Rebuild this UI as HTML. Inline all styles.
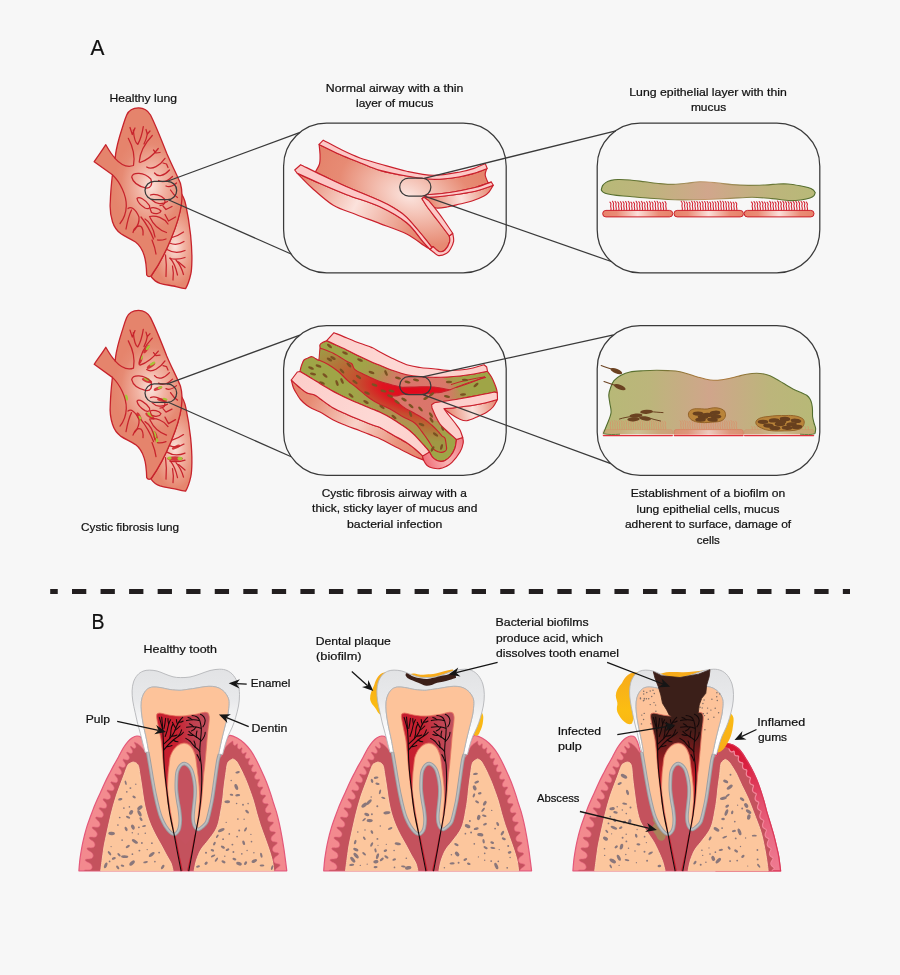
<!DOCTYPE html>
<html lang="en">
<head>
<meta charset="utf-8">
<title>Biofilms in cystic fibrosis lung and dental plaque</title>
<style>
html,body{margin:0;padding:0;background:#f7f7f7;}
body{width:900px;height:975px;overflow:hidden;font-family:"Liberation Sans",sans-serif;}
svg{display:block;will-change:transform;}
</style>
</head>
<body>
<svg width="900" height="975" viewBox="0 0 900 975">
<defs>

<radialGradient id="lgU" gradientUnits="userSpaceOnUse" cx="151" cy="186" r="52" gradientTransform="translate(151,186) scale(0.72,1) translate(-151,-186)">
 <stop offset="0" stop-color="#fae3dc"/><stop offset="0.35" stop-color="#f2b5a5"/><stop offset="0.8" stop-color="#e68a73"/><stop offset="1" stop-color="#e5846c"/>
</radialGradient>
<radialGradient id="lgL" gradientUnits="userSpaceOnUse" cx="175" cy="246" r="40" gradientTransform="translate(175,246) scale(0.55,1) translate(-175,-246)">
 <stop offset="0" stop-color="#fae3dc"/><stop offset="0.4" stop-color="#f2b5a5"/><stop offset="1" stop-color="#e6866e"/>
</radialGradient>
<g id="lungshape">
 <path d="M180,192 C183,195.5 184.8,200 185.8,205 C188,215 189.6,226 190.6,235 C191.6,245 192,253 191.9,260 C191.8,266 191.6,271 190.8,274 C189.6,279.5 188,284.5 185.6,288.6 C181.5,288.2 177,286.8 173.3,286 C168,285 164,284.5 160,283.3 C156,282 153.3,279.5 151,276.5 C166,255 179,222 181.3,204 Z" fill="url(#lgL)" stroke="#c7232c" stroke-width="1.3" stroke-linejoin="round"/>
 <path d="M138.5,107.8 C144,107.8 147.8,110.2 150.5,115 C155.5,125 161.5,140 166.7,153.3 C171,163.5 177,175 180.4,183.3 C182,189 182.4,197 181.3,205 C179,222 166,255 151.7,275 C150.2,277.3 148,277.2 146.7,275 C146.5,268 146,261 144.2,255.5 C142.5,250 139.5,245 135.5,242 C130,238.5 125,236.5 121,233.8 C116.5,230.5 114,226.5 112.5,221.7 C110.3,215 109.8,208 110.3,201.7 C110.6,192 111.6,182 112.4,174.8 L94.2,161.7 C98,156 102.5,150 105.8,144.7 C108.5,149.5 111.5,154.5 115.2,158.3 C115.4,155 115.8,152.5 116.3,150 C117.2,145.5 118.2,141.5 119.2,138 C120.4,133.8 121.8,129.6 123.5,124 C124.6,120.5 125.6,117.6 126.7,115 C128.6,110.6 133,107.8 138.5,107.8 Z" fill="url(#lgU)" stroke="#c7232c" stroke-width="1.3" stroke-linejoin="round"/>
</g>
<g id="lungtree" fill="none" stroke="#c7232c" stroke-width="1.25" stroke-linecap="round" stroke-linejoin="round">
 <path d="M115,158.3 C121,165 128,167.5 133.5,165.5 C135,157 133,147 128.3,138.3"/>
 <path d="M130,127.5 L132.3,134.5 L135,128"/>
 <path d="M133.3,130 C134,138 136,143.5 137.8,144.4 C140.3,140 142.3,133 143.3,126.7"/>
 <path d="M146,129.5 L147.3,134 L150,131"/>
 <path d="M147.3,134 C146.5,139 145,142 144,144"/>
 <path d="M139.2,162 C140,152 146,142 152.3,135.5"/>
 <path d="M140,162.5 C146,160.5 153,155.5 158.3,148.5"/>
 <path d="M153.5,150 L156,153 L160,152.5"/>
 <path d="M146.7,167 C152,170.5 160,165.5 165,158.3"/>
 <path d="M163,163 L166.5,164 L168,167.5"/>
 <path d="M154.5,173 C158,177.5 164,176 169.5,170"/>
 <path d="M158.5,180.5 C163,183 168,181 172.5,176.5"/>
 <path d="M166,186 C169,187.5 173,186 176.5,183"/>
 <path d="M131.7,177 C132.5,172 144,171.5 150.8,179 C153,184.5 150.5,188.5 146,188 C139.5,186.5 133,183 131.7,177 Z"/>
 <path d="M137,198.5 C139,196 145,199.5 149.5,205.5 C150.5,208.5 148,209.5 145,208 C141,205.5 137.5,202 137,198.5 Z"/>
 <path d="M150,208.5 C153,206.5 159,208.5 161,211 C160,214 155,214.5 151.5,212.5 Z"/>
 <path d="M150.5,195 C154,193.5 161,195 164.5,199 C166,203 164,205.5 160,205.5"/>
 <path d="M152,200 C156,204 162,205 167.5,201.5"/>
 <path d="M163,206 L166,209.5 L172,206.5"/>
 <path d="M170.5,190 C173,194 175,196 177.5,197.5"/>
 <path d="M112.4,174.8 C120,182 126.5,195 126.3,206 C126,214 122.5,220.5 120,223.5"/>
 <path d="M128,208.5 C131,206 135.5,209 139,217 C139.5,222 137.5,226.5 134.5,230"/>
 <path d="M126,229 C127.5,221 129.5,214 131.5,210"/>
 <path d="M133,232.5 C134.5,227 138,225 141,226.5 C143,228.5 143.3,232 143,235"/>
 <path d="M141,217 C145,222 150,230 153.5,239"/>
 <path d="M145,219 C150,222 153.5,229 155,237"/>
 <path d="M149.5,216.5 C156,215 164,218 168,224"/>
 <path d="M150,217.5 C153,224 159,230 166.5,232.5"/>
 <path d="M165,214.5 L168.5,221 L175.5,217"/>
 <path d="M152,240 C154,245 155.5,250 156,254"/>
 <path d="M157.5,240 C160,240.5 163,240 166,239"/>
 <path d="M172,237.5 C176,236.5 180,234.5 183.5,232"/>
 <path d="M169.5,243 C174,245 179.5,244.5 184,241.5"/>
 <path d="M167,249.5 C172,252.5 179,253 185,250.5"/>
 <path d="M165.5,255 C166.5,262 166.5,270 166,276.5"/>
 <path d="M170,258 C173.5,262 176,268 177.5,275"/>
 <path d="M170,258.5 C175,259.5 180.5,259 185,257.5"/>
 <path d="M176,260 C179.5,264 182,269 183.5,274.5"/>
 <path d="M178.5,262 L185,267.5"/>
 <path d="M172.5,266 C173.5,271 173.5,276 173,280"/>
</g>


<radialGradient id="awIn" gradientUnits="userSpaceOnUse" cx="408" cy="196" r="95" gradientTransform="translate(408,196) rotate(22) scale(1,0.62) translate(-408,-196)">
 <stop offset="0" stop-color="#fbe4de"/><stop offset="0.3" stop-color="#f4c2b5"/><stop offset="0.75" stop-color="#e78b74"/><stop offset="1" stop-color="#e5846c"/>
</radialGradient>
<linearGradient id="awOut" gradientUnits="userSpaceOnUse" x1="300" y1="176" x2="432" y2="246">
 <stop offset="0" stop-color="#e5846c"/><stop offset="0.42" stop-color="#fbe2dc"/><stop offset="0.85" stop-color="#e78a73"/><stop offset="1" stop-color="#e5846c"/>
</linearGradient>
<linearGradient id="awOutR" gradientUnits="userSpaceOnUse" x1="428" y1="204" x2="494" y2="190">
 <stop offset="0" stop-color="#e5846c"/><stop offset="0.5" stop-color="#fbe2dc"/><stop offset="1" stop-color="#e5846c"/>
</linearGradient>

<radialGradient id="cfMuc" gradientUnits="userSpaceOnUse" cx="414" cy="394" r="70" gradientTransform="translate(414,394) rotate(20) scale(1,0.75) translate(-414,-394)">
 <stop offset="0" stop-color="#cf7a62"/><stop offset="0.35" stop-color="#c08458"/><stop offset="0.6" stop-color="#ad954e"/><stop offset="0.85" stop-color="#a1a348"/><stop offset="1" stop-color="#9fa547"/>
</radialGradient>
<radialGradient id="cfChan" gradientUnits="userSpaceOnUse" cx="415" cy="392" r="112" gradientTransform="translate(415,392) rotate(12) scale(1,0.41) translate(-415,-392)">
 <stop offset="0" stop-color="#e2081c"/><stop offset="0.3" stop-color="#df1420"/><stop offset="0.5" stop-color="#c8482e"/><stop offset="0.62" stop-color="#bf5e32"/><stop offset="0.75" stop-color="#b47238"/><stop offset="0.9" stop-color="#a88a40"/><stop offset="1" stop-color="#a09844"/>
</radialGradient>
<radialGradient id="cfWash" gradientUnits="userSpaceOnUse" cx="420" cy="394" r="46">
 <stop offset="0" stop-color="#dc746c"/><stop offset="0.6" stop-color="#d9776a" stop-opacity="0.95"/><stop offset="1" stop-color="#c8805e" stop-opacity="0"/>
</radialGradient>
<linearGradient id="cfPink" gradientUnits="userSpaceOnUse" x1="300" y1="350" x2="470" y2="420">
 <stop offset="0" stop-color="#fccdc9"/><stop offset="0.5" stop-color="#fdd8d4"/><stop offset="1" stop-color="#fccdc9"/>
</linearGradient>
<linearGradient id="cfCap" gradientUnits="userSpaceOnUse" x1="424" y1="460" x2="463" y2="444">
 <stop offset="0" stop-color="#f0707a"/><stop offset="0.5" stop-color="#f9b4b4"/><stop offset="1" stop-color="#f08088"/>
</linearGradient>
<linearGradient id="cfOut" gradientUnits="userSpaceOnUse" x1="292" y1="384" x2="424" y2="456">
 <stop offset="0" stop-color="#e5846c"/><stop offset="0.15" stop-color="#e68a72"/><stop offset="0.5" stop-color="#f8d2c8"/><stop offset="0.8" stop-color="#e9957e"/><stop offset="1" stop-color="#e5846c"/>
</linearGradient>
<linearGradient id="cfOutR" gradientUnits="userSpaceOnUse" x1="446" y1="414" x2="498" y2="402">
 <stop offset="0" stop-color="#e5846c"/><stop offset="0.5" stop-color="#fbe2dc"/><stop offset="1" stop-color="#e5846c"/>
</linearGradient>


<linearGradient id="muc1" gradientUnits="userSpaceOnUse" x1="601" y1="0" x2="815" y2="0">
 <stop offset="0" stop-color="#b8b978"/><stop offset="0.2" stop-color="#bdb57c"/><stop offset="0.5" stop-color="#d1a68c"/><stop offset="0.8" stop-color="#bdb57c"/><stop offset="1" stop-color="#b8b978"/>
</linearGradient>
<linearGradient id="muc1s" gradientUnits="userSpaceOnUse" x1="601" y1="0" x2="815" y2="0">
 <stop offset="0" stop-color="#4f6b2c"/><stop offset="0.25" stop-color="#6f7a38"/><stop offset="0.5" stop-color="#c49a70"/><stop offset="0.75" stop-color="#6f7a38"/><stop offset="1" stop-color="#4f6b2c"/>
</linearGradient>
<linearGradient id="muc2" gradientUnits="userSpaceOnUse" x1="603" y1="0" x2="816" y2="0">
 <stop offset="0" stop-color="#b7b977"/><stop offset="0.22" stop-color="#bcb57b"/><stop offset="0.5" stop-color="#d0a58b"/><stop offset="0.78" stop-color="#bcb57b"/><stop offset="1" stop-color="#b7b977"/>
</linearGradient>
<linearGradient id="muc2s" gradientUnits="userSpaceOnUse" x1="603" y1="0" x2="816" y2="0">
 <stop offset="0" stop-color="#4f6b2c"/><stop offset="0.2" stop-color="#5f7432"/><stop offset="0.45" stop-color="#a8783c"/><stop offset="0.6" stop-color="#a8783c"/><stop offset="0.8" stop-color="#5f7432"/><stop offset="1" stop-color="#4f6b2c"/>
</linearGradient>
<linearGradient id="cellg0" gradientUnits="userSpaceOnUse" x1="602.7" y1="0" x2="672.7" y2="0"><stop offset="0" stop-color="#e8826a"/><stop offset="0.2" stop-color="#ea8c76"/><stop offset="0.5" stop-color="#fbe0da"/><stop offset="0.8" stop-color="#ea8c76"/><stop offset="1" stop-color="#e8826a"/></linearGradient>
<linearGradient id="cellg1" gradientUnits="userSpaceOnUse" x1="674" y1="0" x2="743.4" y2="0"><stop offset="0" stop-color="#e8826a"/><stop offset="0.2" stop-color="#ea8c76"/><stop offset="0.5" stop-color="#fbe0da"/><stop offset="0.8" stop-color="#ea8c76"/><stop offset="1" stop-color="#e8826a"/></linearGradient>
<linearGradient id="cellg2" gradientUnits="userSpaceOnUse" x1="744.2" y1="0" x2="814" y2="0"><stop offset="0" stop-color="#e8826a"/><stop offset="0.2" stop-color="#ea8c76"/><stop offset="0.5" stop-color="#fbe0da"/><stop offset="0.8" stop-color="#ea8c76"/><stop offset="1" stop-color="#e8826a"/></linearGradient>


<linearGradient id="gumO" gradientUnits="userSpaceOnUse" x1="0" y1="736" x2="0" y2="871">
 <stop offset="0" stop-color="#f38c90"/><stop offset="1" stop-color="#f3898e"/>
</linearGradient>
<linearGradient id="gumInfl" gradientUnits="userSpaceOnUse" x1="236" y1="744" x2="276" y2="871">
 <stop offset="0" stop-color="#d6152f"/><stop offset="0.18" stop-color="#d92040"/><stop offset="0.45" stop-color="#e24a68"/><stop offset="0.75" stop-color="#ea6a84"/><stop offset="1" stop-color="#ef7a90"/>
</linearGradient>
<linearGradient id="enam" gradientUnits="userSpaceOnUse" x1="0" y1="670" x2="0" y2="754">
 <stop offset="0" stop-color="#e2e3e5"/><stop offset="0.35" stop-color="#e8e9eb"/><stop offset="0.6" stop-color="#f5f5f6"/><stop offset="0.78" stop-color="#ffffff"/><stop offset="1" stop-color="#ffffff"/>
</linearGradient>
<linearGradient id="pulp0" gradientUnits="userSpaceOnUse" x1="157" y1="0" x2="209" y2="0">
 <stop offset="0" stop-color="#c41d2f"/><stop offset="0.35" stop-color="#c8202f"/><stop offset="0.7" stop-color="#c0404f"/><stop offset="1" stop-color="#c0525f"/>
</linearGradient>
<linearGradient id="pulp2" gradientUnits="userSpaceOnUse" x1="0" y1="713" x2="0" y2="800">
 <stop offset="0" stop-color="#3b1f19"/><stop offset="0.2" stop-color="#451c18"/><stop offset="0.45" stop-color="#7c1a1c"/><stop offset="0.7" stop-color="#bb1c26"/><stop offset="1" stop-color="#c92030"/>
</linearGradient>
<linearGradient id="plq" gradientUnits="userSpaceOnUse" x1="0" y1="670" x2="0" y2="750">
 <stop offset="0" stop-color="#f7a91c"/><stop offset="0.5" stop-color="#fbbd12"/><stop offset="1" stop-color="#f8ad1a"/>
</linearGradient>

</defs>
<rect width="900" height="975" fill="#f7f7f7"/>
<use href="#lungshape"/><use href="#lungtree"/>
<g transform="translate(0,202.6)">
<use href="#lungshape"/>
<ellipse cx="146.5" cy="146.5" rx="5" ry="1.6" transform="rotate(-55 146.5 146.5)" fill="#cf2a2e" opacity="0.9"/>
<ellipse cx="151" cy="163" rx="5" ry="1.8" transform="rotate(-35 151 163)" fill="#cf2a2e" opacity="0.9"/>
<ellipse cx="140.5" cy="158" rx="4" ry="1.5" transform="rotate(-70 140.5 158)" fill="#cf2a2e" opacity="0.9"/>
<ellipse cx="147" cy="178" rx="5.5" ry="2" transform="rotate(20 147 178)" fill="#cf2a2e" opacity="0.9"/>
<ellipse cx="155.5" cy="234" rx="2" ry="5.5" transform="rotate(-15 155.5 234)" fill="#cf2a2e" opacity="0.9"/>
<ellipse cx="150" cy="213.5" rx="5.5" ry="1.8" transform="rotate(35 150 213.5)" fill="#cf2a2e" opacity="0.9"/>
<ellipse cx="175" cy="256" rx="8" ry="2.4" transform="rotate(0 175 256)" fill="#cf2a2e" opacity="0.9"/>
<ellipse cx="176" cy="244.5" rx="4.5" ry="1.6" transform="rotate(-25 176 244.5)" fill="#cf2a2e" opacity="0.9"/>
<ellipse cx="139" cy="214" rx="1.8" ry="4.6" transform="rotate(-25 139 214)" fill="#cf2a2e" opacity="0.9"/>
<ellipse cx="162" cy="197.5" rx="5" ry="1.6" transform="rotate(12 162 197.5)" fill="#cf2a2e" opacity="0.9"/>
<ellipse cx="158" cy="186" rx="4.5" ry="1.6" transform="rotate(-20 158 186)" fill="#cf2a2e" opacity="0.9"/>
<ellipse cx="148" cy="145" rx="3" ry="1.3" transform="rotate(-50 148 145)" fill="#a8c43a"/>
<ellipse cx="152.5" cy="161" rx="3.2" ry="1.4" transform="rotate(-30 152.5 161)" fill="#a8c43a"/>
<ellipse cx="141.5" cy="155" rx="2.6" ry="1.2" transform="rotate(-70 141.5 155)" fill="#a8c43a"/>
<ellipse cx="147" cy="176.5" rx="3.3" ry="1.5" transform="rotate(20 147 176.5)" fill="#a8c43a"/>
<ellipse cx="126.5" cy="195" rx="1.4" ry="3.2" transform="rotate(-10 126.5 195)" fill="#a8c43a"/>
<ellipse cx="140" cy="216" rx="1.4" ry="3" transform="rotate(-20 140 216)" fill="#a8c43a"/>
<ellipse cx="150" cy="212" rx="3.2" ry="1.4" transform="rotate(35 150 212)" fill="#a8c43a"/>
<ellipse cx="154.5" cy="232" rx="1.6" ry="3.6" transform="rotate(-15 154.5 232)" fill="#a8c43a"/>
<ellipse cx="157" cy="238" rx="1.4" ry="2.6" transform="rotate(-10 157 238)" fill="#a8c43a"/>
<ellipse cx="169.5" cy="255.5" rx="2.2" ry="1.6" transform="rotate(0 169.5 255.5)" fill="#a8c43a"/>
<ellipse cx="180" cy="256" rx="2.6" ry="1.8" transform="rotate(0 180 256)" fill="#a8c43a"/>
<ellipse cx="160" cy="185" rx="2.5" ry="1.2" transform="rotate(-20 160 185)" fill="#a8c43a"/>
<ellipse cx="165" cy="196.5" rx="2.6" ry="1.2" transform="rotate(10 165 196.5)" fill="#a8c43a"/>
<use href="#lungtree"/>
</g>
<path d="M297.3,173.3C301.1,175.0 311.8,179.9 320.0,183.5C328.2,187.1 336.7,190.8 346.7,194.7C356.7,198.6 370.0,202.0 380.0,206.7C390.0,211.4 399.6,216.9 406.7,222.7C413.8,228.5 418.8,236.8 422.7,241.3C426.6,245.8 428.8,248.1 430.0,249.5L431.5,250.0C430.2,249.2 428.1,248.2 424.0,245.5C419.9,242.8 414.0,237.7 406.7,234.0C399.4,230.3 388.4,226.8 380.0,223.6C371.6,220.3 363.8,217.6 356.0,214.5C348.2,211.4 340.6,209.7 333.3,205.3C326.0,200.9 318.0,193.3 312.0,188.0C306.0,182.7 299.8,175.8 297.3,173.3Z" fill="url(#awOut)" stroke="#ca202c" stroke-width="1.15" stroke-linejoin="round"/>
<path d="M424.0,197.3C426.7,197.2 434.0,197.1 440.0,196.5C446.0,195.9 453.7,195.0 460.0,194.0C466.3,193.0 472.4,191.9 478.0,190.5C483.6,189.1 490.8,186.2 493.3,185.3L493.3,185.3C492.6,186.4 490.6,190.2 489.0,192.0C487.4,193.8 486.8,194.5 484.0,196.0C481.2,197.5 476.0,199.7 472.0,201.0C468.0,202.3 464.2,203.0 460.0,204.0C455.8,205.0 451.0,206.3 447.0,207.0C443.0,207.7 438.7,208.5 436.0,208.0C433.3,207.5 432.5,205.3 431.0,204.0C429.5,202.7 427.7,200.7 427.0,200.0Z" fill="url(#awOutR)" stroke="#ca202c" stroke-width="1.15" stroke-linejoin="round"/>
<path d="M319.1,144.4C322.6,146.1 333.2,151.4 340.0,154.5C346.8,157.6 353.3,160.0 360.0,162.7C366.7,165.3 372.2,168.2 380.0,170.4C387.8,172.6 397.8,174.5 406.7,176.0C415.6,177.5 424.4,179.2 433.3,179.3C442.2,179.4 453.1,177.8 460.0,176.7C466.9,175.6 470.6,174.3 475.0,173.0C479.4,171.7 484.8,169.4 486.7,168.7L486.7,168.7C486.4,169.8 485.0,172.7 485.2,175.0C485.4,177.3 487.5,181.4 488.0,182.7L491.3,182.0C488.8,182.9 481.2,185.8 476.0,187.2C470.8,188.6 465.7,189.6 460.0,190.7C454.3,191.8 447.6,192.8 442.0,193.5C436.4,194.2 429.2,194.5 426.7,194.7L422.0,198.7C423.0,200.2 425.3,204.3 428.0,208.0C430.7,211.7 434.4,216.3 438.0,221.0C441.6,225.7 447.4,233.5 449.3,236.0L449.3,236.0C449.4,237.0 450.3,239.7 449.6,242.0C448.9,244.3 446.8,248.4 445.0,250.0C443.2,251.6 441.0,252.1 439.0,251.5C437.0,250.9 434.0,247.3 433.0,246.5L431.3,246.7C430.1,245.1 428.1,242.2 424.0,237.3C419.9,232.4 411.7,222.2 406.7,217.3C401.7,212.4 398.4,210.8 394.0,208.0C389.6,205.2 387.9,204.2 380.0,200.7C372.1,197.1 355.0,190.3 346.7,186.7C338.4,183.1 335.2,181.4 330.0,179.0C324.8,176.6 317.8,173.2 315.3,172.0L315.3,172.0C316.0,170.7 318.7,167.0 319.5,164.0C320.3,161.0 320.1,157.3 320.0,154.0C319.9,150.7 319.2,146.0 319.1,144.4Z" fill="url(#awIn)" stroke="#ca202c" stroke-width="1.15" stroke-linejoin="round"/>
<path d="M323.3,140.2C326.4,141.8 335.9,147.1 342.0,150.1C348.1,153.1 353.7,155.7 360.0,158.0C366.3,160.3 372.2,161.8 380.0,164.0C387.8,166.2 397.8,169.4 406.7,171.3C415.6,173.2 424.4,175.2 433.3,175.3C442.2,175.4 453.2,173.2 460.0,172.0C466.8,170.8 469.8,169.8 474.0,168.4C478.2,167.0 483.4,164.4 485.3,163.6L487.3,168.7L486.7,168.7C484.8,169.4 479.4,171.7 475.0,173.0C470.6,174.3 466.9,175.6 460.0,176.7C453.1,177.8 442.2,179.4 433.3,179.3C424.4,179.2 415.6,177.5 406.7,176.0C397.8,174.5 387.8,172.6 380.0,170.4C372.2,168.2 366.7,165.3 360.0,162.7C353.3,160.0 346.8,157.6 340.0,154.5C333.2,151.4 322.6,146.1 319.1,144.4Z" fill="#fcc9c7" stroke="#ca202c" stroke-width="1.15" stroke-linejoin="round"/>
<path d="M300.7,164.7C304.2,166.4 314.3,171.5 322.0,175.2C329.7,178.9 337.0,182.4 346.7,186.7C356.4,190.9 372.1,197.1 380.0,200.7C387.9,204.2 389.6,205.2 394.0,208.0C398.4,210.8 401.7,212.4 406.7,217.3C411.7,222.2 419.9,232.4 424.0,237.3C428.1,242.2 430.1,245.1 431.3,246.7L433.0,246.5L430.0,249.5L430.0,249.5C428.8,248.1 426.6,245.8 422.7,241.3C418.8,236.8 413.8,228.5 406.7,222.7C399.6,216.9 390.0,211.4 380.0,206.7C370.0,202.0 356.7,198.6 346.7,194.7C336.7,190.8 328.2,187.1 320.0,183.5C311.8,179.9 301.1,175.0 297.3,173.3L294.7,170.0Z" fill="#fcc9c7" stroke="#ca202c" stroke-width="1.15" stroke-linejoin="round"/>
<path d="M452.7,233.3C452.9,234.6 454.0,238.7 453.6,241.3C453.2,243.9 451.6,247.0 450.5,249.0C449.4,251.0 448.7,252.2 446.7,253.3C444.7,254.4 440.8,255.7 438.7,255.6C436.6,255.5 435.4,253.5 434.0,252.5C432.6,251.5 430.7,250.0 430.0,249.5L433.0,246.5C434.0,247.3 437.0,250.9 439.0,251.5C441.0,252.1 443.2,251.6 445.0,250.0C446.8,248.4 448.9,244.3 449.6,242.0C450.3,239.7 449.4,237.0 449.3,236.0Z" fill="#fcc9c7" stroke="#ca202c" stroke-width="1.15" stroke-linejoin="round"/>
<path d="M426.7,194.7C429.2,194.5 436.4,194.2 442.0,193.5C447.6,192.8 454.3,191.8 460.0,190.7C465.7,189.6 470.8,188.6 476.0,187.2C481.2,185.8 488.8,182.9 491.3,182.0L493.3,185.3L493.3,185.3L493.3,185.3C490.8,186.2 483.6,189.1 478.0,190.5C472.4,191.9 466.3,193.0 460.0,194.0C453.7,195.0 446.0,195.9 440.0,196.5C434.0,197.1 426.7,197.2 424.0,197.3L428.5,200.5C429.4,201.6 431.6,203.9 434.0,207.0C436.4,210.1 439.9,214.6 443.0,219.0C446.1,223.4 451.1,230.9 452.7,233.3L449.3,236.0C447.4,233.5 441.6,225.7 438.0,221.0C434.4,216.3 430.7,211.7 428.0,208.0C425.3,204.3 423.0,200.2 422.0,198.7Z" fill="#fcc9c7" stroke="#ca202c" stroke-width="1.15" stroke-linejoin="round"/>
<path d="M291.3,380.0C292.6,381.2 296.4,384.9 299.0,387.0C301.6,389.1 304.1,391.4 306.7,392.7C309.3,394.0 312.5,393.9 314.7,394.9C316.9,395.9 316.9,396.5 320.0,398.7C323.1,400.9 328.8,405.4 333.3,408.0C337.8,410.6 342.6,412.5 347.0,414.5C351.4,416.5 355.6,418.2 360.0,420.0C364.4,421.8 370.0,424.1 373.3,425.3C376.6,426.6 376.7,425.9 380.0,427.5C383.3,429.1 388.6,432.5 393.0,435.0C397.4,437.5 403.0,440.4 406.7,442.7C410.4,445.0 412.3,446.8 415.0,449.0C417.7,451.2 421.4,454.8 422.7,456.0L423.5,460.0C422.1,459.5 418.1,458.1 415.3,456.8C412.5,455.5 410.4,454.3 406.7,452.4C403.0,450.5 397.4,447.8 393.0,445.5C388.6,443.2 383.3,440.3 380.0,438.7C376.7,437.1 376.6,437.3 373.3,436.0C370.0,434.7 364.6,432.4 360.0,430.7C355.4,428.9 350.4,427.3 346.0,425.5C341.6,423.7 337.6,422.2 333.3,420.0C329.0,417.8 323.6,413.9 320.0,412.0C316.4,410.1 314.2,409.6 312.0,408.5C309.8,407.4 308.6,406.8 306.7,405.3C304.8,403.8 302.1,401.3 300.5,399.5C298.9,397.7 298.5,396.6 297.3,394.7C296.1,392.8 294.5,390.4 293.5,388.0C292.5,385.6 291.7,381.3 291.3,380.0Z" fill="url(#cfOut)" stroke="#ca202c" stroke-width="1.15" stroke-linejoin="round"/>
<path d="M444.0,408.6C446.5,408.4 454.1,407.8 459.0,407.2C463.9,406.6 468.8,406.0 473.3,405.3C477.8,404.6 482.0,403.8 486.0,402.8C490.0,401.8 495.6,400.1 497.5,399.5L497.5,399.5C496.8,400.8 494.8,404.9 493.0,407.0C491.2,409.1 489.4,410.6 486.7,412.3C484.0,414.0 480.3,415.6 477.0,417.0C473.7,418.4 469.7,420.4 466.7,420.7C463.7,421.0 461.4,419.8 459.0,418.8C456.6,417.8 453.9,415.9 452.0,414.7C450.1,413.5 448.8,412.5 447.5,411.5C446.2,410.5 444.6,409.1 444.0,408.6Z" fill="url(#cfOutR)" stroke="#ca202c" stroke-width="1.15" stroke-linejoin="round"/>
<path d="M326.7,340.7C328.2,341.4 332.7,343.4 336.0,345.0C339.3,346.6 342.7,348.1 346.7,350.0C350.7,351.9 355.6,354.4 360.0,356.5C364.4,358.6 370.0,361.2 373.3,362.7C376.6,364.2 376.7,364.0 380.0,365.3C383.3,366.6 388.6,368.9 393.0,370.5C397.4,372.1 402.2,373.7 406.7,374.7C411.2,375.7 415.6,376.2 420.0,376.6C424.4,377.0 428.8,377.2 433.3,377.3C437.8,377.4 442.6,377.2 447.0,377.0C451.4,376.8 455.5,376.5 460.0,376.0C464.5,375.5 469.4,374.8 474.0,374.0C478.6,373.2 485.2,371.8 487.5,371.3L487.5,371.3C488.2,372.2 490.3,374.9 491.5,377.0C492.7,379.1 493.9,382.0 494.7,384.0C495.5,386.0 496.1,387.5 496.5,389.0C496.9,390.5 497.2,392.3 497.3,393.0L494.7,392.0C492.2,392.5 485.8,393.9 480.0,395.0C474.2,396.1 465.7,397.7 460.0,398.7C454.3,399.7 450.2,400.3 446.0,401.0C441.8,401.7 436.4,402.4 434.5,402.7L432.0,408.0C432.6,409.3 434.2,413.3 435.5,416.0C436.8,418.7 437.9,421.3 440.0,424.0C442.1,426.7 445.2,429.4 448.0,432.0C450.8,434.6 455.1,438.2 456.5,439.5L456.5,439.5C456.2,440.9 456.0,445.2 455.0,448.0C454.0,450.8 452.2,453.9 450.5,456.0C448.8,458.1 446.6,459.7 445.0,460.6C443.4,461.5 442.4,461.5 440.9,461.4C439.4,461.3 437.4,460.8 436.0,460.0C434.6,459.2 433.3,458.1 432.2,456.8C431.1,455.5 429.9,452.8 429.5,452.0L429.5,452.0C428.8,451.2 427.9,449.8 425.5,447.1C423.1,444.4 418.0,438.6 415.3,435.8C412.6,433.0 411.4,432.1 409.5,430.5C407.6,428.9 407.0,428.5 404.0,426.5C401.0,424.5 395.7,420.9 391.7,418.5C387.7,416.1 383.1,413.8 380.0,412.3C376.9,410.8 376.6,410.9 373.3,409.5C370.0,408.1 364.2,405.8 360.0,404.0C355.8,402.2 352.8,401.1 348.0,398.8C343.2,396.5 336.3,393.1 331.1,390.2C325.9,387.3 320.2,383.7 316.7,381.6C313.2,379.5 312.8,379.2 310.0,377.5C307.2,375.8 301.7,372.5 300.0,371.5L300.0,371.3C300.2,370.3 300.8,367.4 301.5,365.5C302.2,363.6 302.9,361.2 304.0,360.0C305.1,358.8 306.7,358.6 308.0,358.0C309.3,357.4 310.8,356.6 312.0,356.7C313.2,356.8 314.4,357.9 315.5,358.5C316.6,359.1 318.0,360.8 318.7,360.0C319.4,359.2 319.3,356.0 319.5,354.0C319.7,352.0 319.9,349.6 320.0,348.0C320.1,346.4 319.5,345.6 320.0,344.7C320.5,343.8 321.9,343.0 323.0,342.3C324.1,341.6 326.1,341.0 326.7,340.7Z" fill="url(#cfMuc)" stroke="#ca202c" stroke-width="1.15" stroke-linejoin="round"/>
<clipPath id="cfClip"><path d="M326.7,340.7C328.2,341.4 332.7,343.4 336.0,345.0C339.3,346.6 342.7,348.1 346.7,350.0C350.7,351.9 355.6,354.4 360.0,356.5C364.4,358.6 370.0,361.2 373.3,362.7C376.6,364.2 376.7,364.0 380.0,365.3C383.3,366.6 388.6,368.9 393.0,370.5C397.4,372.1 402.2,373.7 406.7,374.7C411.2,375.7 415.6,376.2 420.0,376.6C424.4,377.0 428.8,377.2 433.3,377.3C437.8,377.4 442.6,377.2 447.0,377.0C451.4,376.8 455.5,376.5 460.0,376.0C464.5,375.5 469.4,374.8 474.0,374.0C478.6,373.2 485.2,371.8 487.5,371.3L487.5,371.3C488.2,372.2 490.3,374.9 491.5,377.0C492.7,379.1 493.9,382.0 494.7,384.0C495.5,386.0 496.1,387.5 496.5,389.0C496.9,390.5 497.2,392.3 497.3,393.0L494.7,392.0C492.2,392.5 485.8,393.9 480.0,395.0C474.2,396.1 465.7,397.7 460.0,398.7C454.3,399.7 450.2,400.3 446.0,401.0C441.8,401.7 436.4,402.4 434.5,402.7L432.0,408.0C432.6,409.3 434.2,413.3 435.5,416.0C436.8,418.7 437.9,421.3 440.0,424.0C442.1,426.7 445.2,429.4 448.0,432.0C450.8,434.6 455.1,438.2 456.5,439.5L456.5,439.5C456.2,440.9 456.0,445.2 455.0,448.0C454.0,450.8 452.2,453.9 450.5,456.0C448.8,458.1 446.6,459.7 445.0,460.6C443.4,461.5 442.4,461.5 440.9,461.4C439.4,461.3 437.4,460.8 436.0,460.0C434.6,459.2 433.3,458.1 432.2,456.8C431.1,455.5 429.9,452.8 429.5,452.0L429.5,452.0C428.8,451.2 427.9,449.8 425.5,447.1C423.1,444.4 418.0,438.6 415.3,435.8C412.6,433.0 411.4,432.1 409.5,430.5C407.6,428.9 407.0,428.5 404.0,426.5C401.0,424.5 395.7,420.9 391.7,418.5C387.7,416.1 383.1,413.8 380.0,412.3C376.9,410.8 376.6,410.9 373.3,409.5C370.0,408.1 364.2,405.8 360.0,404.0C355.8,402.2 352.8,401.1 348.0,398.8C343.2,396.5 336.3,393.1 331.1,390.2C325.9,387.3 320.2,383.7 316.7,381.6C313.2,379.5 312.8,379.2 310.0,377.5C307.2,375.8 301.7,372.5 300.0,371.5L300.0,371.3C300.2,370.3 300.8,367.4 301.5,365.5C302.2,363.6 302.9,361.2 304.0,360.0C305.1,358.8 306.7,358.6 308.0,358.0C309.3,357.4 310.8,356.6 312.0,356.7C313.2,356.8 314.4,357.9 315.5,358.5C316.6,359.1 318.0,360.8 318.7,360.0C319.4,359.2 319.3,356.0 319.5,354.0C319.7,352.0 319.9,349.6 320.0,348.0C320.1,346.4 319.5,345.6 320.0,344.7C320.5,343.8 321.9,343.0 323.0,342.3C324.1,341.6 326.1,341.0 326.7,340.7Z"/></clipPath>
<g clip-path="url(#cfClip)">
<ellipse cx="420" cy="394" rx="46" ry="24" transform="rotate(18 420 394)" fill="url(#cfWash)"/>
<path d="M320.0,348.0C322.2,348.9 328.9,351.1 333.3,353.3C337.8,355.5 343.6,359.5 346.7,361.3C349.8,363.1 350.7,362.7 352.0,364.0C353.3,365.3 352.7,367.6 354.7,369.3C356.7,371.1 360.9,372.9 364.0,374.5C367.1,376.1 370.6,377.5 373.3,378.7C376.0,379.9 376.9,380.6 380.0,381.6C383.1,382.7 388.2,384.0 392.0,385.0C395.8,386.0 401.2,387.0 403.0,387.4L403.0,387.4C405.0,387.3 411.1,387.1 415.0,387.0C418.9,386.9 423.5,386.7 426.7,386.7C429.9,386.7 431.4,386.8 434.0,387.0C436.6,387.2 439.3,387.7 442.0,388.2C444.7,388.7 448.7,389.5 450.0,389.8L450.0,389.8C448.7,390.2 444.3,391.6 442.0,392.1C439.7,392.6 438.6,392.5 436.0,392.8C433.4,393.1 430.2,393.5 426.7,393.7C423.2,393.9 418.9,393.9 415.0,394.0C411.1,394.1 405.8,394.1 403.0,394.4C400.2,394.7 400.1,395.3 398.0,395.6C395.9,395.9 391.4,395.9 390.1,396.0L390.1,396.0C392.3,397.8 399.5,404.2 403.3,406.9C407.1,409.6 409.3,410.4 412.7,412.3C416.1,414.2 420.3,416.4 423.5,418.5C426.7,420.6 429.3,422.9 431.7,425.0C434.1,427.1 436.1,429.4 437.8,431.2C439.5,433.0 440.7,434.6 441.9,435.8C443.1,437.0 444.2,436.4 445.0,438.3C445.8,440.2 446.2,445.6 446.5,447.0C447.5,451 443,453.5 438.3,451.7L438.3,451.7C437.5,451.3 435.4,451.0 433.7,449.1C432.0,447.2 430.1,443.3 428.1,440.4C426.1,437.5 424.1,434.6 421.9,431.7C419.7,428.8 418.1,425.6 415.0,423.2C411.9,420.8 407.2,419.2 403.3,417.0C399.4,414.8 395.6,412.1 391.7,410.0C387.8,407.9 381.9,405.4 380.0,404.5L380.0,404.5C378.8,403.8 375.2,401.9 373.0,400.5C370.8,399.1 369.5,398.2 366.7,396.0C363.9,393.8 359.1,389.5 356.0,387.0C352.9,384.5 350.9,383.5 348.0,380.9C345.1,378.3 341.6,374.2 338.3,371.5C335.0,368.8 331.5,366.3 328.2,364.4C324.9,362.5 320.3,360.7 318.7,360.0Z" fill="url(#cfChan)" stroke="#ca202c" stroke-width="1.1" stroke-linejoin="round"/>
<path d="M450,389.8 C458,386.5 470,381.5 486,377.4 M451,384.6 C461,381 474,378.6 485,376.8 C476,381 466,384.6 456,387.6" fill="none" stroke="#ca202c" stroke-width="1"/>
</g>
<ellipse cx="311" cy="368" rx="3.1" ry="1.3" transform="rotate(25 311 368)" fill="#7a5222"/>
<ellipse cx="318.5" cy="366" rx="3.1" ry="1.3" transform="rotate(20 318.5 366)" fill="#7a5222"/>
<ellipse cx="313" cy="374" rx="3.1" ry="1.3" transform="rotate(10 313 374)" fill="#7a5222"/>
<ellipse cx="325" cy="375.5" rx="3.1" ry="1.3" transform="rotate(40 325 375.5)" fill="#7a5222"/>
<ellipse cx="322" cy="383" rx="3.1" ry="1.3" transform="rotate(25 322 383)" fill="#7a5222"/>
<ellipse cx="337" cy="383" rx="3.1" ry="1.3" transform="rotate(70 337 383)" fill="#7a5222"/>
<ellipse cx="342" cy="381" rx="3.1" ry="1.3" transform="rotate(65 342 381)" fill="#7a5222"/>
<ellipse cx="329.5" cy="346" rx="3.1" ry="1.3" transform="rotate(40 329.5 346)" fill="#7a5222"/>
<ellipse cx="345" cy="353" rx="3.1" ry="1.3" transform="rotate(25 345 353)" fill="#7a5222"/>
<ellipse cx="333" cy="358" rx="3.1" ry="1.3" transform="rotate(30 333 358)" fill="#7a5222"/>
<ellipse cx="329.5" cy="359.5" rx="3.1" ry="1.3" transform="rotate(30 329.5 359.5)" fill="#7a5222"/>
<ellipse cx="349" cy="365" rx="3.1" ry="1.3" transform="rotate(45 349 365)" fill="#7a5222"/>
<ellipse cx="342" cy="371" rx="3.1" ry="1.3" transform="rotate(50 342 371)" fill="#7a5222"/>
<ellipse cx="360" cy="360" rx="3.1" ry="1.3" transform="rotate(25 360 360)" fill="#7a5222"/>
<ellipse cx="371.5" cy="372.5" rx="3.1" ry="1.3" transform="rotate(20 371.5 372.5)" fill="#7a5222"/>
<ellipse cx="386" cy="373" rx="3.1" ry="1.3" transform="rotate(65 386 373)" fill="#7a5222"/>
<ellipse cx="358.5" cy="377" rx="3.1" ry="1.3" transform="rotate(35 358.5 377)" fill="#7a5222"/>
<ellipse cx="355" cy="382" rx="3.1" ry="1.3" transform="rotate(35 355 382)" fill="#7a5222"/>
<ellipse cx="374.5" cy="385" rx="3.1" ry="1.3" transform="rotate(20 374.5 385)" fill="#7a5222"/>
<ellipse cx="351" cy="395.5" rx="3.1" ry="1.3" transform="rotate(40 351 395.5)" fill="#7a5222"/>
<ellipse cx="367" cy="393" rx="3.1" ry="1.3" transform="rotate(25 367 393)" fill="#7a5222"/>
<ellipse cx="366" cy="402" rx="3.1" ry="1.3" transform="rotate(30 366 402)" fill="#7a5222"/>
<ellipse cx="382" cy="407" rx="3.1" ry="1.3" transform="rotate(35 382 407)" fill="#7a5222"/>
<ellipse cx="394" cy="417" rx="3.1" ry="1.3" transform="rotate(40 394 417)" fill="#7a5222"/>
<ellipse cx="383.5" cy="391" rx="3.1" ry="1.3" transform="rotate(15 383.5 391)" fill="#7a5222"/>
<ellipse cx="390" cy="396" rx="3.1" ry="1.3" transform="rotate(20 390 396)" fill="#7a5222"/>
<ellipse cx="398" cy="378" rx="3.1" ry="1.3" transform="rotate(15 398 378)" fill="#7a5222"/>
<ellipse cx="416" cy="380" rx="3.1" ry="1.3" transform="rotate(10 416 380)" fill="#7a5222"/>
<ellipse cx="404" cy="399.5" rx="3.1" ry="1.3" transform="rotate(30 404 399.5)" fill="#7a5222"/>
<ellipse cx="411" cy="406" rx="3.1" ry="1.3" transform="rotate(40 411 406)" fill="#7a5222"/>
<ellipse cx="420.5" cy="409" rx="3.1" ry="1.3" transform="rotate(50 420.5 409)" fill="#7a5222"/>
<ellipse cx="426" cy="398" rx="3.1" ry="1.3" transform="rotate(-30 426 398)" fill="#7a5222"/>
<ellipse cx="431.5" cy="394.5" rx="3.1" ry="1.3" transform="rotate(-35 431.5 394.5)" fill="#7a5222"/>
<ellipse cx="449" cy="382" rx="3.1" ry="1.3" transform="rotate(0 449 382)" fill="#7a5222"/>
<ellipse cx="465" cy="380" rx="3.1" ry="1.3" transform="rotate(5 465 380)" fill="#7a5222"/>
<ellipse cx="463" cy="394.5" rx="3.1" ry="1.3" transform="rotate(-5 463 394.5)" fill="#7a5222"/>
<ellipse cx="447" cy="396.5" rx="3.1" ry="1.3" transform="rotate(10 447 396.5)" fill="#7a5222"/>
<ellipse cx="476" cy="385" rx="3.1" ry="1.3" transform="rotate(-40 476 385)" fill="#7a5222"/>
<ellipse cx="397" cy="402" rx="3.1" ry="1.3" transform="rotate(35 397 402)" fill="#7a5222"/>
<ellipse cx="410.5" cy="414" rx="3.1" ry="1.3" transform="rotate(70 410.5 414)" fill="#7a5222"/>
<ellipse cx="431" cy="415" rx="3.1" ry="1.3" transform="rotate(55 431 415)" fill="#7a5222"/>
<ellipse cx="431.5" cy="420" rx="3.1" ry="1.3" transform="rotate(55 431.5 420)" fill="#7a5222"/>
<ellipse cx="421.5" cy="424.5" rx="3.1" ry="1.3" transform="rotate(25 421.5 424.5)" fill="#7a5222"/>
<ellipse cx="435.5" cy="434.5" rx="3.1" ry="1.3" transform="rotate(35 435.5 434.5)" fill="#7a5222"/>
<ellipse cx="442.5" cy="428" rx="3.1" ry="1.3" transform="rotate(75 442.5 428)" fill="#7a5222"/>
<ellipse cx="415" cy="437" rx="3.1" ry="1.3" transform="rotate(65 415 437)" fill="#7a5222"/>
<ellipse cx="432.5" cy="449" rx="3.1" ry="1.3" transform="rotate(-60 432.5 449)" fill="#7a5222"/>
<ellipse cx="441.5" cy="447" rx="3.1" ry="1.3" transform="rotate(-75 441.5 447)" fill="#7a5222"/>
<ellipse cx="391.5" cy="391" rx="3.1" ry="1.3" transform="rotate(10 391.5 391)" fill="#7a5222"/>
<ellipse cx="407.5" cy="382" rx="3.1" ry="1.3" transform="rotate(15 407.5 382)" fill="#7a5222"/>
<path d="M334.0,332.7C336.2,333.6 342.7,336.2 347.0,338.0C351.3,339.8 355.8,341.7 360.0,343.3C364.2,344.9 368.7,346.2 372.0,347.6C375.3,349.1 376.7,350.2 380.0,352.0C383.3,353.8 387.6,356.1 392.0,358.2C396.4,360.3 402.0,363.1 406.7,364.7C411.4,366.2 415.6,366.8 420.0,367.5C424.4,368.2 428.8,368.2 433.3,368.7C437.8,369.2 442.6,370.2 447.0,370.4C451.4,370.6 455.7,370.4 460.0,370.0C464.3,369.6 469.0,368.9 473.0,368.0C477.0,367.1 482.2,365.2 484.0,364.7L486.7,367.0L487.5,371.3C485.2,371.8 478.6,373.2 474.0,374.0C469.4,374.8 464.5,375.5 460.0,376.0C455.5,376.5 451.4,376.8 447.0,377.0C442.6,377.2 437.8,377.4 433.3,377.3C428.8,377.2 424.4,377.0 420.0,376.6C415.6,376.2 411.2,375.7 406.7,374.7C402.2,373.7 397.4,372.1 393.0,370.5C388.6,368.9 383.3,366.6 380.0,365.3C376.7,364.0 376.6,364.2 373.3,362.7C370.0,361.2 364.4,358.6 360.0,356.5C355.6,354.4 350.7,351.9 346.7,350.0C342.7,348.1 339.3,346.6 336.0,345.0C332.7,343.4 328.2,341.4 326.7,340.7Z" fill="url(#cfPink)" stroke="#ca202c" stroke-width="1.15" stroke-linejoin="round"/>
<path d="M300.0,371.5C301.7,372.5 307.2,375.8 310.0,377.5C312.8,379.2 313.2,379.5 316.7,381.6C320.2,383.7 325.9,387.3 331.1,390.2C336.3,393.1 343.2,396.5 348.0,398.8C352.8,401.1 355.8,402.2 360.0,404.0C364.2,405.8 370.0,408.1 373.3,409.5C376.6,410.9 376.9,410.8 380.0,412.3C383.1,413.8 387.7,416.1 391.7,418.5C395.7,420.9 401.0,424.5 404.0,426.5C407.0,428.5 407.6,428.9 409.5,430.5C411.4,432.1 412.6,433.0 415.3,435.8C418.0,438.6 423.1,444.4 425.5,447.1C427.9,449.8 428.8,451.2 429.5,452.0L423.5,460.0L422.7,456.0C421.4,454.8 417.7,451.2 415.0,449.0C412.3,446.8 410.4,445.0 406.7,442.7C403.0,440.4 397.4,437.5 393.0,435.0C388.6,432.5 383.3,429.1 380.0,427.5C376.7,425.9 376.6,426.6 373.3,425.3C370.0,424.1 364.4,421.8 360.0,420.0C355.6,418.2 351.4,416.5 347.0,414.5C342.6,412.5 337.8,410.6 333.3,408.0C328.8,405.4 323.1,400.9 320.0,398.7C316.9,396.5 316.9,395.9 314.7,394.9C312.5,393.9 309.3,394.0 306.7,392.7C304.1,391.4 301.6,389.1 299.0,387.0C296.4,384.9 292.6,381.2 291.3,380.0L297.3,372.0Z" fill="url(#cfPink)" stroke="#ca202c" stroke-width="1.15" stroke-linejoin="round"/>
<path d="M462.7,437.5C462.8,438.4 463.6,440.6 463.2,443.0C462.8,445.4 461.9,448.8 460.0,452.0C458.1,455.2 454.3,460.0 452.0,462.4C449.7,464.8 448.1,465.5 446.0,466.5C443.9,467.5 441.8,468.4 439.5,468.6C437.2,468.9 434.6,468.5 432.5,468.0C430.4,467.5 428.5,466.7 427.1,465.5C425.7,464.3 424.8,462.6 424.0,461.0C423.2,459.4 422.7,457.0 422.4,456.2L429.5,452.0L429.5,452.0C429.9,452.8 431.1,455.5 432.2,456.8C433.3,458.1 434.6,459.2 436.0,460.0C437.4,460.8 439.4,461.3 440.9,461.4C442.4,461.5 443.4,461.5 445.0,460.6C446.6,459.7 448.8,458.1 450.5,456.0C452.2,453.9 454.0,450.8 455.0,448.0C456.0,445.2 456.2,440.9 456.5,439.5Z" fill="url(#cfCap)" stroke="#ca202c" stroke-width="1.15" stroke-linejoin="round"/>
<path d="M434.5,402.7C436.4,402.4 441.8,401.7 446.0,401.0C450.2,400.3 454.3,399.7 460.0,398.7C465.7,397.7 474.2,396.1 480.0,395.0C485.8,393.9 492.2,392.5 494.7,392.0L497.3,393.0L497.5,399.5C495.6,400.1 490.0,401.8 486.0,402.8C482.0,403.8 477.8,404.6 473.3,405.3C468.8,406.0 463.9,406.6 459.0,407.2C454.1,407.8 446.5,408.4 444.0,408.6L444.0,408.6C444.8,409.8 447.2,413.1 449.0,415.5C450.8,417.9 453.2,420.6 455.0,423.0C456.8,425.4 458.7,427.6 460.0,430.0C461.3,432.4 462.2,436.2 462.7,437.5L456.5,439.5C455.1,438.2 450.8,434.6 448.0,432.0C445.2,429.4 442.1,426.7 440.0,424.0C437.9,421.3 436.8,418.7 435.5,416.0C434.2,413.3 432.6,409.3 432.0,408.0L431.6,404.8Z" fill="#fdd0cc" stroke="#ca202c" stroke-width="1.15" stroke-linejoin="round"/>
<path d="M601.3,190.0C601.5,189.3 601.8,186.9 602.6,185.6C603.4,184.3 604.6,183.3 606.0,182.4C607.4,181.5 609.0,180.9 611.0,180.4C613.0,179.9 614.8,179.6 618.0,179.5C621.2,179.4 625.5,179.6 630.0,180.0C634.5,180.4 640.0,181.2 645.0,181.8C650.0,182.4 655.5,183.2 660.0,183.6C664.5,184.0 667.7,184.4 672.0,184.4C676.3,184.4 681.3,183.7 686.0,183.3C690.7,182.9 695.0,181.9 700.0,181.8C705.0,181.7 710.7,182.3 716.0,182.8C721.3,183.3 726.7,184.2 732.0,184.6C737.3,185.0 742.5,185.3 748.0,185.4C753.5,185.5 760.0,185.2 765.0,185.0C770.0,184.8 774.2,184.2 778.0,184.0C781.8,183.8 784.3,183.7 788.0,184.0C791.7,184.3 796.7,185.2 800.0,185.8C803.3,186.4 805.8,186.9 808.0,187.6C810.2,188.3 811.8,189.0 813.0,189.8C814.2,190.6 814.8,192.1 815.2,192.6L815.2,192.6C815.0,193.1 814.9,194.7 814.0,195.6C813.1,196.5 812.0,197.3 810.0,198.0C808.0,198.7 805.3,199.4 802.0,199.8C798.7,200.2 795.0,200.8 790.0,200.6C785.0,200.4 778.3,199.2 772.0,198.6C765.7,198.0 759.0,197.2 752.0,197.2C745.0,197.2 737.8,198.0 730.0,198.4C722.2,198.8 713.0,199.2 705.0,199.5C697.0,199.8 688.2,199.9 682.0,199.9C675.8,199.9 673.3,199.8 668.0,199.5C662.7,199.2 656.3,198.8 650.0,198.3C643.7,197.8 635.5,197.0 630.0,196.5C624.5,196.0 620.4,195.8 616.7,195.4C613.0,195.0 610.2,194.5 608.0,194.0C605.8,193.5 604.5,193.1 603.4,192.4C602.3,191.7 601.6,190.4 601.3,190.0Z" fill="url(#muc1)" stroke="url(#muc1s)" stroke-width="1.1"/>
<path d="M610.9,210.3c0.9,-2.5 -0.9,-3.3 -0.1,-5.1s-0.5,-2.5 -0.9,-3.1M613.5,210.3c0.9,-2.7 -0.9,-3.6 -0.1,-5.6s-0.5,-2.7 -0.9,-3.4M616.1,210.3c0.9,-2.7 -0.9,-3.6 -0.1,-5.5s-0.5,-2.7 -0.9,-3.4M618.8,210.3c0.9,-2.5 -0.9,-3.3 -0.1,-5.2s-0.5,-2.5 -0.9,-3.2M621.4,210.3c0.9,-2.6 -0.9,-3.4 -0.1,-5.3s-0.5,-2.6 -0.9,-3.3M624.0,210.3c0.9,-2.6 -0.9,-3.4 -0.1,-5.3s-0.5,-2.6 -0.9,-3.3M626.6,210.3c0.9,-2.6 -0.9,-3.5 -0.1,-5.4s-0.5,-2.6 -0.9,-3.3M629.3,210.3c0.9,-2.7 -0.9,-3.6 -0.1,-5.5s-0.5,-2.7 -0.9,-3.4M631.9,210.3c0.9,-2.5 -0.9,-3.3 -0.1,-5.1s-0.5,-2.5 -0.9,-3.1M634.5,210.3c0.9,-2.4 -0.9,-3.3 -0.1,-5.0s-0.5,-2.4 -0.9,-3.1M637.1,210.3c0.9,-2.7 -0.9,-3.6 -0.1,-5.6s-0.5,-2.7 -0.9,-3.4M639.8,210.3c0.9,-2.6 -0.9,-3.4 -0.1,-5.3s-0.5,-2.6 -0.9,-3.3M642.4,210.3c0.9,-2.7 -0.9,-3.6 -0.1,-5.5s-0.5,-2.7 -0.9,-3.4M645.0,210.3c0.9,-2.4 -0.9,-3.2 -0.1,-5.0s-0.5,-2.4 -0.9,-3.1M647.6,210.3c0.9,-2.6 -0.9,-3.4 -0.1,-5.3s-0.5,-2.6 -0.9,-3.3M650.3,210.3c0.9,-2.7 -0.9,-3.5 -0.1,-5.5s-0.5,-2.7 -0.9,-3.4M652.9,210.3c0.9,-2.5 -0.9,-3.3 -0.1,-5.2s-0.5,-2.5 -0.9,-3.2M655.5,210.3c0.9,-2.7 -0.9,-3.6 -0.1,-5.6s-0.5,-2.7 -0.9,-3.5M658.1,210.3c0.9,-2.7 -0.9,-3.6 -0.1,-5.6s-0.5,-2.7 -0.9,-3.4M660.8,210.3c0.9,-2.4 -0.9,-3.3 -0.1,-5.0s-0.5,-2.4 -0.9,-3.1M663.4,210.3c0.9,-2.4 -0.9,-3.2 -0.1,-5.0s-0.5,-2.4 -0.9,-3.1M666.0,210.3c0.9,-2.6 -0.9,-3.5 -0.1,-5.4s-0.5,-2.6 -0.9,-3.3" fill="none" stroke="#d42634" stroke-width="1.1" stroke-linecap="round"/>
<rect x="602.7" y="210.4" width="70.0" height="6.5" rx="3.2" fill="url(#cellg0)" stroke="#cc202c" stroke-width="1"/>
<path d="M682.2,210.3c0.9,-2.7 -0.9,-3.6 -0.1,-5.6s-0.5,-2.7 -0.9,-3.5M684.8,210.3c0.9,-2.7 -0.9,-3.6 -0.1,-5.6s-0.5,-2.7 -0.9,-3.5M687.4,210.3c0.9,-2.4 -0.9,-3.3 -0.1,-5.1s-0.5,-2.4 -0.9,-3.1M690.0,210.3c0.9,-2.5 -0.9,-3.3 -0.1,-5.1s-0.5,-2.5 -0.9,-3.1M692.6,210.3c0.9,-2.7 -0.9,-3.6 -0.1,-5.6s-0.5,-2.7 -0.9,-3.4M695.2,210.3c0.9,-2.7 -0.9,-3.5 -0.1,-5.5s-0.5,-2.7 -0.9,-3.4M697.8,210.3c0.9,-2.6 -0.9,-3.5 -0.1,-5.5s-0.5,-2.6 -0.9,-3.3M700.4,210.3c0.9,-2.5 -0.9,-3.4 -0.1,-5.2s-0.5,-2.5 -0.9,-3.2M703.0,210.3c0.9,-2.6 -0.9,-3.5 -0.1,-5.4s-0.5,-2.6 -0.9,-3.3M705.6,210.3c0.9,-2.6 -0.9,-3.5 -0.1,-5.4s-0.5,-2.6 -0.9,-3.3M708.2,210.3c0.9,-2.6 -0.9,-3.5 -0.1,-5.4s-0.5,-2.6 -0.9,-3.3M710.7,210.3c0.9,-2.5 -0.9,-3.3 -0.1,-5.1s-0.5,-2.5 -0.9,-3.1M713.3,210.3c0.9,-2.6 -0.9,-3.4 -0.1,-5.3s-0.5,-2.6 -0.9,-3.2M715.9,210.3c0.9,-2.6 -0.9,-3.4 -0.1,-5.3s-0.5,-2.6 -0.9,-3.2M718.5,210.3c0.9,-2.7 -0.9,-3.5 -0.1,-5.5s-0.5,-2.7 -0.9,-3.4M721.1,210.3c0.9,-2.7 -0.9,-3.7 -0.1,-5.7s-0.5,-2.7 -0.9,-3.5M723.7,210.3c0.9,-2.7 -0.9,-3.6 -0.1,-5.6s-0.5,-2.7 -0.9,-3.5M726.3,210.3c0.9,-2.6 -0.9,-3.5 -0.1,-5.4s-0.5,-2.6 -0.9,-3.3M728.9,210.3c0.9,-2.6 -0.9,-3.4 -0.1,-5.3s-0.5,-2.6 -0.9,-3.3M731.5,210.3c0.9,-2.5 -0.9,-3.4 -0.1,-5.2s-0.5,-2.5 -0.9,-3.2M734.1,210.3c0.9,-2.4 -0.9,-3.3 -0.1,-5.0s-0.5,-2.4 -0.9,-3.1M736.7,210.3c0.9,-2.4 -0.9,-3.2 -0.1,-5.0s-0.5,-2.4 -0.9,-3.1" fill="none" stroke="#d42634" stroke-width="1.1" stroke-linecap="round"/>
<rect x="674" y="210.4" width="69.4" height="6.5" rx="3.2" fill="url(#cellg1)" stroke="#cc202c" stroke-width="1"/>
<path d="M752.4,210.3c0.9,-2.5 -0.9,-3.3 -0.1,-5.2s-0.5,-2.5 -0.9,-3.2M755.0,210.3c0.9,-2.6 -0.9,-3.5 -0.1,-5.4s-0.5,-2.6 -0.9,-3.3M757.6,210.3c0.9,-2.5 -0.9,-3.4 -0.1,-5.3s-0.5,-2.5 -0.9,-3.2M760.2,210.3c0.9,-2.6 -0.9,-3.5 -0.1,-5.4s-0.5,-2.6 -0.9,-3.3M762.9,210.3c0.9,-2.6 -0.9,-3.5 -0.1,-5.4s-0.5,-2.6 -0.9,-3.3M765.5,210.3c0.9,-2.4 -0.9,-3.3 -0.1,-5.1s-0.5,-2.4 -0.9,-3.1M768.1,210.3c0.9,-2.4 -0.9,-3.2 -0.1,-5.0s-0.5,-2.4 -0.9,-3.1M770.7,210.3c0.9,-2.7 -0.9,-3.6 -0.1,-5.6s-0.5,-2.7 -0.9,-3.4M773.3,210.3c0.9,-2.5 -0.9,-3.3 -0.1,-5.2s-0.5,-2.5 -0.9,-3.2M775.9,210.3c0.9,-2.5 -0.9,-3.3 -0.1,-5.2s-0.5,-2.5 -0.9,-3.2M778.5,210.3c0.9,-2.7 -0.9,-3.7 -0.1,-5.7s-0.5,-2.7 -0.9,-3.5M781.2,210.3c0.9,-2.6 -0.9,-3.4 -0.1,-5.3s-0.5,-2.6 -0.9,-3.3M783.8,210.3c0.9,-2.7 -0.9,-3.6 -0.1,-5.6s-0.5,-2.7 -0.9,-3.4M786.4,210.3c0.9,-2.6 -0.9,-3.4 -0.1,-5.3s-0.5,-2.6 -0.9,-3.3M789.0,210.3c0.9,-2.6 -0.9,-3.5 -0.1,-5.4s-0.5,-2.6 -0.9,-3.3M791.6,210.3c0.9,-2.5 -0.9,-3.3 -0.1,-5.1s-0.5,-2.5 -0.9,-3.1M794.2,210.3c0.9,-2.6 -0.9,-3.5 -0.1,-5.4s-0.5,-2.6 -0.9,-3.3M796.8,210.3c0.9,-2.7 -0.9,-3.6 -0.1,-5.6s-0.5,-2.7 -0.9,-3.4M799.5,210.3c0.9,-2.6 -0.9,-3.5 -0.1,-5.4s-0.5,-2.6 -0.9,-3.3M802.1,210.3c0.9,-2.7 -0.9,-3.6 -0.1,-5.5s-0.5,-2.7 -0.9,-3.4M804.7,210.3c0.9,-2.6 -0.9,-3.5 -0.1,-5.5s-0.5,-2.6 -0.9,-3.3M807.3,210.3c0.9,-2.4 -0.9,-3.3 -0.1,-5.1s-0.5,-2.4 -0.9,-3.1" fill="none" stroke="#d42634" stroke-width="1.1" stroke-linecap="round"/>
<rect x="744.2" y="210.4" width="69.8" height="6.5" rx="3.2" fill="url(#cellg2)" stroke="#cc202c" stroke-width="1"/>
<path d="M603.3,433.6C603.9,432.2 605.5,428.4 606.8,425.0C608.1,421.6 610.5,416.7 611.0,413.0C611.5,409.3 610.2,406.0 609.8,403.0C609.4,400.0 608.7,397.5 608.8,395.0C608.9,392.5 609.6,390.4 610.5,388.0C611.4,385.6 612.2,382.8 614.0,380.7C615.8,378.6 618.3,376.8 621.0,375.3C623.7,373.9 626.3,372.8 630.0,372.0C633.7,371.2 638.5,371.0 643.0,370.7C647.5,370.4 652.5,370.3 656.7,370.3C660.9,370.3 664.1,370.4 668.0,370.6C671.9,370.8 675.2,370.7 680.0,371.7C684.8,372.7 692.4,375.4 696.7,376.7C701.0,377.9 703.2,378.6 706.0,379.2C708.8,379.8 710.6,380.2 713.3,380.3C716.0,380.4 719.2,380.1 722.0,379.8C724.8,379.5 727.3,378.9 730.0,378.3C732.7,377.7 735.2,377.0 738.0,376.3C740.8,375.6 743.6,374.7 746.7,374.2C749.8,373.7 753.8,373.3 756.7,373.3C759.6,373.3 761.8,373.6 764.0,374.0C766.2,374.4 767.8,374.9 770.0,375.8C772.2,376.7 774.8,378.2 777.0,379.5C779.2,380.8 781.1,382.0 783.3,383.3C785.5,384.6 787.8,386.1 790.0,387.3C792.2,388.6 794.7,389.9 796.7,390.8C798.7,391.8 800.3,392.2 802.0,393.0C803.7,393.8 805.4,394.3 806.7,395.3C808.0,396.3 809.2,397.6 810.0,399.0C810.8,400.4 811.3,401.7 811.7,403.5C812.1,405.3 812.4,407.8 812.5,410.0C812.6,412.2 812.4,414.5 812.6,416.7C812.9,418.9 813.5,421.1 814.0,423.0C814.5,424.9 815.4,426.5 815.6,428.3C815.8,430.1 815.1,432.7 815.0,433.6C812,435 806,434.6 800,434.2 L620,434.2 C614,434.6 608,434.8 603.3,433.6Z" fill="url(#muc2)" stroke="none"/>
<path d="M604.7,429.6 H670.7 C672.7,429.6 672.7,432 672.4000000000001,435.4 H603.0 C602.7,432 602.7,429.6 604.7,429.6Z" fill="url(#cellg0)" stroke="#e06a50" stroke-width="0.8" opacity="0.28"/>
<path d="M676,429.6 H741.4 C743.4,429.6 743.4,432 743.1,435.4 H674.3 C674,432 674,429.6 676,429.6Z" fill="url(#cellg1)" stroke="#e06a50" stroke-width="0.8" opacity="0.65"/>
<path d="M746.2,429.6 H812 C814,429.6 814,432 813.7,435.4 H744.5 C744.2,432 744.2,429.6 746.2,429.6Z" fill="url(#cellg2)" stroke="#e06a50" stroke-width="0.8" opacity="0.28"/>
<path d="M610.5,429.6c0.9,-2.6 -0.9,-3.5 -0.1,-5.4s-0.5,-2.6 -0.9,-3.3M612.8,429.6c0.9,-2.7 -0.9,-3.6 -0.1,-5.5s-0.5,-2.7 -0.9,-3.4M615.1,429.6c0.9,-2.8 -0.9,-3.7 -0.1,-5.8s-0.5,-2.8 -0.9,-3.5M617.4,429.6c0.9,-2.6 -0.9,-3.5 -0.1,-5.4s-0.5,-2.6 -0.9,-3.3M619.7,429.6c0.9,-2.6 -0.9,-3.5 -0.1,-5.5s-0.5,-2.6 -0.9,-3.4M622.0,429.6c0.9,-2.7 -0.9,-3.6 -0.1,-5.5s-0.5,-2.7 -0.9,-3.4M624.2,429.6c0.9,-2.5 -0.9,-3.4 -0.1,-5.3s-0.5,-2.5 -0.9,-3.2M626.5,429.6c0.9,-2.6 -0.9,-3.5 -0.1,-5.5s-0.5,-2.6 -0.9,-3.4M628.8,429.6c0.9,-2.7 -0.9,-3.6 -0.1,-5.6s-0.5,-2.7 -0.9,-3.4M631.1,429.6c0.9,-2.7 -0.9,-3.7 -0.1,-5.7s-0.5,-2.7 -0.9,-3.5M633.4,429.6c0.9,-2.5 -0.9,-3.4 -0.1,-5.2s-0.5,-2.5 -0.9,-3.2M635.7,429.6c0.9,-2.6 -0.9,-3.4 -0.1,-5.3s-0.5,-2.6 -0.9,-3.3M638.0,429.6c0.9,-2.5 -0.9,-3.4 -0.1,-5.2s-0.5,-2.5 -0.9,-3.2M640.3,429.6c0.9,-2.7 -0.9,-3.7 -0.1,-5.7s-0.5,-2.7 -0.9,-3.5M642.6,429.6c0.9,-2.7 -0.9,-3.6 -0.1,-5.6s-0.5,-2.7 -0.9,-3.4M644.9,429.6c0.9,-2.5 -0.9,-3.3 -0.1,-5.2s-0.5,-2.5 -0.9,-3.2M647.2,429.6c0.9,-2.8 -0.9,-3.7 -0.1,-5.8s-0.5,-2.8 -0.9,-3.5M649.5,429.6c0.9,-2.8 -0.9,-3.7 -0.1,-5.8s-0.5,-2.8 -0.9,-3.5M651.8,429.6c0.9,-2.7 -0.9,-3.6 -0.1,-5.6s-0.5,-2.7 -0.9,-3.4M654.0,429.6c0.9,-2.7 -0.9,-3.6 -0.1,-5.5s-0.5,-2.7 -0.9,-3.4M656.3,429.6c0.9,-2.5 -0.9,-3.4 -0.1,-5.2s-0.5,-2.5 -0.9,-3.2M658.6,429.6c0.9,-2.5 -0.9,-3.3 -0.1,-5.1s-0.5,-2.5 -0.9,-3.2M660.9,429.6c0.9,-2.7 -0.9,-3.5 -0.1,-5.5s-0.5,-2.7 -0.9,-3.4M663.2,429.6c0.9,-2.5 -0.9,-3.3 -0.1,-5.2s-0.5,-2.5 -0.9,-3.2M665.5,429.6c0.9,-2.5 -0.9,-3.4 -0.1,-5.3s-0.5,-2.5 -0.9,-3.2" fill="none" stroke="#d9906a" stroke-width="0.8" stroke-linecap="round"/>
<path d="M681.0,429.6c0.9,-2.6 -0.9,-3.5 -0.1,-5.5s-0.5,-2.6 -0.9,-3.3M683.3,429.6c0.9,-2.7 -0.9,-3.6 -0.1,-5.6s-0.5,-2.7 -0.9,-3.4M685.6,429.6c0.9,-2.7 -0.9,-3.6 -0.1,-5.6s-0.5,-2.7 -0.9,-3.4M687.9,429.6c0.9,-2.5 -0.9,-3.4 -0.1,-5.2s-0.5,-2.5 -0.9,-3.2M690.2,429.6c0.9,-2.5 -0.9,-3.3 -0.1,-5.1s-0.5,-2.5 -0.9,-3.2M692.6,429.6c0.9,-2.6 -0.9,-3.5 -0.1,-5.4s-0.5,-2.6 -0.9,-3.3M694.9,429.6c0.9,-2.6 -0.9,-3.4 -0.1,-5.3s-0.5,-2.6 -0.9,-3.3M697.2,429.6c0.9,-2.7 -0.9,-3.7 -0.1,-5.7s-0.5,-2.7 -0.9,-3.5M699.5,429.6c0.9,-2.7 -0.9,-3.6 -0.1,-5.6s-0.5,-2.7 -0.9,-3.4M701.8,429.6c0.9,-2.7 -0.9,-3.6 -0.1,-5.5s-0.5,-2.7 -0.9,-3.4M704.1,429.6c0.9,-2.7 -0.9,-3.6 -0.1,-5.5s-0.5,-2.7 -0.9,-3.4M706.4,429.6c0.9,-2.7 -0.9,-3.6 -0.1,-5.6s-0.5,-2.7 -0.9,-3.4M708.8,429.6c0.9,-2.5 -0.9,-3.4 -0.1,-5.2s-0.5,-2.5 -0.9,-3.2M711.1,429.6c0.9,-2.6 -0.9,-3.5 -0.1,-5.4s-0.5,-2.6 -0.9,-3.3M713.4,429.6c0.9,-2.5 -0.9,-3.4 -0.1,-5.2s-0.5,-2.5 -0.9,-3.2M715.7,429.6c0.9,-2.8 -0.9,-3.7 -0.1,-5.7s-0.5,-2.8 -0.9,-3.5M718.0,429.6c0.9,-2.5 -0.9,-3.3 -0.1,-5.2s-0.5,-2.5 -0.9,-3.2M720.3,429.6c0.9,-2.7 -0.9,-3.7 -0.1,-5.7s-0.5,-2.7 -0.9,-3.5M722.6,429.6c0.9,-2.5 -0.9,-3.3 -0.1,-5.2s-0.5,-2.5 -0.9,-3.2M724.9,429.6c0.9,-2.7 -0.9,-3.6 -0.1,-5.6s-0.5,-2.7 -0.9,-3.4M727.2,429.6c0.9,-2.6 -0.9,-3.5 -0.1,-5.4s-0.5,-2.6 -0.9,-3.3M729.6,429.6c0.9,-2.6 -0.9,-3.5 -0.1,-5.4s-0.5,-2.6 -0.9,-3.3M731.9,429.6c0.9,-2.8 -0.9,-3.7 -0.1,-5.7s-0.5,-2.8 -0.9,-3.5M734.2,429.6c0.9,-2.5 -0.9,-3.3 -0.1,-5.1s-0.5,-2.5 -0.9,-3.2M736.5,429.6c0.9,-2.5 -0.9,-3.3 -0.1,-5.2s-0.5,-2.5 -0.9,-3.2" fill="none" stroke="#d9906a" stroke-width="0.8" stroke-linecap="round"/>
<path d="M752.5,429.6c0.9,-0.9 -0.9,-1.1 -0.1,-1.8s-0.5,-0.9 -0.9,-1.1M755.2,429.6c0.9,-0.9 -0.9,-1.2 -0.1,-1.9s-0.5,-0.9 -0.9,-1.1M757.8,429.6c0.9,-0.9 -0.9,-1.2 -0.1,-1.9s-0.5,-0.9 -0.9,-1.1M760.5,429.6c0.9,-0.9 -0.9,-1.2 -0.1,-1.9s-0.5,-0.9 -0.9,-1.2" fill="none" stroke="#d9906a" stroke-width="0.8" stroke-linecap="round"/>
<path d="M802.5,429.6c0.9,-0.8 -0.9,-1.1 -0.1,-1.7s-0.5,-0.8 -0.9,-1.1M805.5,429.6c0.9,-0.9 -0.9,-1.2 -0.1,-1.9s-0.5,-0.9 -0.9,-1.1M808.5,429.6c0.9,-0.9 -0.9,-1.2 -0.1,-1.9s-0.5,-0.9 -0.9,-1.1" fill="none" stroke="#d9906a" stroke-width="0.8" stroke-linecap="round"/>
<path d="M603.3,433.6C603.9,432.2 605.5,428.4 606.8,425.0C608.1,421.6 610.5,416.7 611.0,413.0C611.5,409.3 610.2,406.0 609.8,403.0C609.4,400.0 608.7,397.5 608.8,395.0C608.9,392.5 609.6,390.4 610.5,388.0C611.4,385.6 612.2,382.8 614.0,380.7C615.8,378.6 618.3,376.8 621.0,375.3C623.7,373.9 626.3,372.8 630.0,372.0C633.7,371.2 638.5,371.0 643.0,370.7C647.5,370.4 652.5,370.3 656.7,370.3C660.9,370.3 664.1,370.4 668.0,370.6C671.9,370.8 675.2,370.7 680.0,371.7C684.8,372.7 692.4,375.4 696.7,376.7C701.0,377.9 703.2,378.6 706.0,379.2C708.8,379.8 710.6,380.2 713.3,380.3C716.0,380.4 719.2,380.1 722.0,379.8C724.8,379.5 727.3,378.9 730.0,378.3C732.7,377.7 735.2,377.0 738.0,376.3C740.8,375.6 743.6,374.7 746.7,374.2C749.8,373.7 753.8,373.3 756.7,373.3C759.6,373.3 761.8,373.6 764.0,374.0C766.2,374.4 767.8,374.9 770.0,375.8C772.2,376.7 774.8,378.2 777.0,379.5C779.2,380.8 781.1,382.0 783.3,383.3C785.5,384.6 787.8,386.1 790.0,387.3C792.2,388.6 794.7,389.9 796.7,390.8C798.7,391.8 800.3,392.2 802.0,393.0C803.7,393.8 805.4,394.3 806.7,395.3C808.0,396.3 809.2,397.6 810.0,399.0C810.8,400.4 811.3,401.7 811.7,403.5C812.1,405.3 812.4,407.8 812.5,410.0C812.6,412.2 812.4,414.5 812.6,416.7C812.9,418.9 813.5,421.1 814.0,423.0C814.5,424.9 815.4,426.5 815.6,428.3C815.8,430.1 815.1,432.7 815.0,433.6" fill="none" stroke="url(#muc2s)" stroke-width="1.1"/>
<path d="M603.3,433.6 C608,434.9 614,434.6 620,434.2 M815,433.6 C812,435 806,434.6 800,434.2" fill="none" stroke="#5b7a3a" stroke-width="0.9"/>
<path d="M603.4,435.6H672.3M674.4,435.6H743M744.6,435.6H813.6" stroke="#e0303c" stroke-width="1.3" fill="none" stroke-linecap="round"/>
<path d="M601.2,365.6 C605,367 609,368.2 612,369.2 M604,381.6 C608,383 612,384.4 615.5,385.6" stroke="#6b4221" stroke-width="1.1" fill="none" stroke-linecap="round"/>
<ellipse cx="616.4" cy="371.2" rx="6.2" ry="2.3" transform="rotate(22 616.4 371.2)" fill="#6b4221"/>
<ellipse cx="619.8" cy="387.2" rx="6.2" ry="2.3" transform="rotate(22 619.8 387.2)" fill="#6b4221"/>
<path d="M619.5,419 C624,417.6 628,417 632,416.4 M650,411.6 C655,412 659,412.4 663,412.6 M648,417.6 C652,419 656,420 660.5,421" stroke="#6b4221" stroke-width="1" fill="none" stroke-linecap="round"/>
<ellipse cx="646.5" cy="411.8" rx="6.3" ry="2.1" transform="rotate(-3 646.5 411.8)" fill="#6b4221"/>
<ellipse cx="636" cy="415.6" rx="6.5" ry="2.1" transform="rotate(-6 636 415.6)" fill="#6b4221"/>
<ellipse cx="633.5" cy="419.3" rx="6.2" ry="2.1" transform="rotate(-3 633.5 419.3)" fill="#6b4221"/>
<ellipse cx="645" cy="418.4" rx="6.0" ry="2.1" transform="rotate(8 645 418.4)" fill="#6b4221"/>
<path d="M688.4,414 C688.8,410 693,408.4 698,408.8 C703,408.6 706,409.8 710,408.4 C714,407.2 720,407.6 723.4,410 C726.4,412.6 726,417 723.6,419.4 C720,422.6 714,421.6 709,422.4 C703,423 696,422.6 692,420.2 C689.4,418.4 688.2,416.4 688.4,414Z" fill="#b9843a" stroke="#94642a" stroke-width="1"/>
<ellipse cx="698" cy="413.6" rx="5.3" ry="2.15" transform="rotate(0 698 413.6)" fill="#68401e"/>
<ellipse cx="715" cy="412.8" rx="5.3" ry="2.15" transform="rotate(-3 715 412.8)" fill="#68401e"/>
<ellipse cx="703" cy="416.8" rx="5.3" ry="2.15" transform="rotate(2 703 416.8)" fill="#68401e"/>
<ellipse cx="716" cy="416.6" rx="5.3" ry="2.15" transform="rotate(0 716 416.6)" fill="#68401e"/>
<ellipse cx="700.5" cy="419.6" rx="5.3" ry="2.15" transform="rotate(-2 700.5 419.6)" fill="#68401e"/>
<ellipse cx="712.5" cy="419.6" rx="5.3" ry="2.15" transform="rotate(3 712.5 419.6)" fill="#68401e"/>
<ellipse cx="707.5" cy="414.9" rx="5.3" ry="2.15" transform="rotate(0 707.5 414.9)" fill="#68401e"/>
<path d="M755.8,422.6 C756,418.6 762,417 768,416.6 C774,415.6 780,415.4 786,415.6 C792,415 800,416 803.4,419.4 C805.4,422.6 803.6,427 800,429 C794,431.4 786,430.6 780,431 C773,431.2 766,430.6 761.4,428 C757.8,426.6 755.8,424.8 755.8,422.6Z" fill="#b9843a" stroke="#94642a" stroke-width="1"/>
<ellipse cx="763" cy="421.8" rx="5.3" ry="2.15" transform="rotate(0 763 421.8)" fill="#68401e"/>
<ellipse cx="774" cy="420.4" rx="5.3" ry="2.15" transform="rotate(-3 774 420.4)" fill="#68401e"/>
<ellipse cx="785" cy="419" rx="5.3" ry="2.15" transform="rotate(2 785 419)" fill="#68401e"/>
<ellipse cx="796" cy="420.8" rx="5.3" ry="2.15" transform="rotate(5 796 420.8)" fill="#68401e"/>
<ellipse cx="768.5" cy="425.6" rx="5.3" ry="2.15" transform="rotate(3 768.5 425.6)" fill="#68401e"/>
<ellipse cx="780" cy="424" rx="5.3" ry="2.15" transform="rotate(0 780 424)" fill="#68401e"/>
<ellipse cx="791.5" cy="424.4" rx="5.3" ry="2.15" transform="rotate(-3 791.5 424.4)" fill="#68401e"/>
<ellipse cx="775" cy="428.2" rx="5.3" ry="2.15" transform="rotate(0 775 428.2)" fill="#68401e"/>
<ellipse cx="787" cy="427.8" rx="5.3" ry="2.15" transform="rotate(2 787 427.8)" fill="#68401e"/>
<ellipse cx="797" cy="427" rx="5.3" ry="2.15" transform="rotate(-6 797 427)" fill="#68401e"/>
<ellipse cx="781" cy="421.8" rx="5.3" ry="2.15" transform="rotate(0 781 421.8)" fill="#68401e"/>
<g transform="translate(0,0)">
<path d="M78.9,870.8C79.0,869.4 79.3,865.1 79.6,862.2C79.9,859.3 80.3,856.3 80.8,853.3C81.3,850.3 81.8,847.3 82.4,844.4C83.0,841.5 83.7,838.5 84.4,835.6C85.2,832.7 86.0,829.7 86.9,826.7C87.8,823.7 88.9,820.8 90.0,817.8C91.1,814.8 92.2,811.8 93.3,808.9C94.4,806.0 95.6,803.3 96.8,800.5C98.0,797.7 99.3,795.1 100.6,792.2C101.9,789.3 103.2,786.3 104.6,783.3C106.0,780.3 107.5,777.3 109.0,774.4C110.5,771.5 112.0,768.5 113.6,765.6C115.2,762.7 117.0,759.7 118.6,756.7C120.2,753.7 121.9,750.3 123.4,747.8C125.0,745.3 126.5,743.2 127.9,741.6C129.3,740.0 130.4,738.9 131.9,738.0C133.4,737.1 135.3,736.1 136.8,736.0C138.3,735.9 139.7,736.1 140.8,737.1C141.9,738.1 142.6,739.7 143.5,742.0C144.4,744.3 145.6,749.5 146.0,751.0L222.0,752.0C222.6,750.4 224.6,744.9 225.5,742.5C226.4,740.1 226.8,738.8 227.6,737.6C228.4,736.4 228.5,735.2 230.1,735.3C231.7,735.4 234.8,736.7 237.2,738.0C239.6,739.3 242.1,741.2 244.3,743.3C246.5,745.4 248.7,747.7 250.6,750.4C252.5,753.1 254.3,756.3 255.9,759.3C257.5,762.3 258.9,765.2 260.3,768.2C261.7,771.2 263.0,774.1 264.3,777.1C265.6,780.1 266.8,783.0 267.9,786.0C269.0,789.0 270.0,791.9 271.0,794.9C272.0,797.9 272.8,801.0 273.7,803.8C274.6,806.6 275.4,808.5 276.3,811.6C277.2,814.7 278.1,818.2 279.0,822.2C279.9,826.2 280.9,831.2 281.7,835.6C282.5,840.0 283.2,844.5 283.9,848.9C284.6,853.3 285.2,858.6 285.7,862.2C286.2,865.9 286.6,869.4 286.8,870.8Z" fill="url(#gumO)" stroke="#e4587a" stroke-width="1.2" stroke-linejoin="round"/>
<clipPath id="gclip0"><rect x="70" y="700" width="230" height="170.8"/></clipPath>
<path d="M84.2,870.7C84.4,868.8 91.8,871.7 92.2,867.4C92.6,862.4 84.9,862.2 85.2,860.0C85.4,858.1 92.5,860.7 93.2,856.3C94.0,851.4 86.6,850.7 87.0,848.5C87.3,846.7 94.0,849.7 94.9,845.5C95.9,840.8 88.8,839.7 89.3,837.7C89.7,835.9 96.0,839.2 97.1,835.2C98.4,830.8 91.6,829.3 92.2,827.4C92.7,825.7 98.6,829.3 99.9,825.6C101.4,821.3 95.0,819.4 95.7,817.4C96.3,815.9 101.8,819.5 103.2,815.9C104.7,811.8 98.5,809.8 99.3,808.0C99.9,806.5 105.1,810.3 106.5,806.9C108.2,803.0 102.4,800.8 103.1,799.1C103.8,797.7 108.8,801.4 110.3,798.1C112.0,794.3 106.4,792.0 107.1,790.3C107.7,788.9 112.5,792.6 113.9,789.5C115.6,785.8 110.2,783.6 110.9,782.1C111.6,780.8 116.1,784.5 117.5,781.5C119.3,778.0 114.1,775.7 114.9,774.2C115.6,772.9 119.8,776.6 121.3,773.8C123.0,770.5 118.1,768.1 118.9,766.7C119.5,765.5 123.5,769.3 125.0,766.6C126.9,763.3 122.2,760.9 123.0,759.4C123.6,758.3 127.6,761.7 129.0,759.0C130.7,755.9 126.0,753.7 126.7,752.3C127.3,751.2 130.7,755.1 132.2,752.8C133.9,750.0 129.7,747.6 130.5,746.5C131.2,745.6 133.7,749.9 135.5,748.0C137.4,745.9 133.6,743.0 134.6,742.3C139,744 142,747 144.5,751 L150,757 L186,760 L221,757 L224.3,750 C225.5,747 227,745 232.7,741.1L232.7,741.1C233.6,741.5 232.2,744.3 234.2,745.4C235.7,746.3 236.7,743.3 237.3,743.8C238.2,744.4 236.3,747.1 238.3,748.8C239.8,750.1 241.4,747.2 242.0,747.8C242.8,748.6 240.4,751.1 242.2,753.2C243.5,754.7 245.6,751.9 246.2,752.6C246.9,753.6 244.0,755.8 245.4,758.1C246.6,759.9 249.3,757.6 249.8,758.4C250.4,759.6 247.2,761.7 248.7,764.3C249.7,766.4 252.8,764.1 253.2,765.0C253.8,766.2 250.4,768.2 251.7,771.1C252.8,773.3 256.1,771.1 256.5,772.1C257.1,773.4 253.5,775.4 254.8,778.3C255.8,780.7 259.3,778.5 259.7,779.5C260.3,780.9 256.5,782.8 257.7,785.9C258.7,788.4 262.4,786.2 262.8,787.3C263.3,788.7 259.2,790.5 260.4,793.7C261.3,796.3 265.2,794.3 265.6,795.5C266.1,797.0 261.7,798.6 262.7,802.0C263.6,804.8 267.8,803.0 268.2,804.2C268.7,805.9 264.2,807.8 265.5,811.4C266.5,814.2 270.8,811.9 271.1,813.2C271.6,814.8 266.7,816.3 267.7,820.0C268.4,823.1 273.1,821.2 273.4,822.5C273.8,824.2 268.7,825.5 269.5,829.4C270.2,832.7 275.1,831.0 275.4,832.4C275.8,834.2 270.4,835.4 271.1,839.5C271.7,842.9 276.9,841.3 277.2,842.8C277.5,844.6 271.9,845.7 272.5,850.0C273.0,853.5 278.5,852.0 278.7,853.5C279.0,855.5 273.1,856.5 273.7,860.9C274.2,864.7 279.9,863.2 280.1,864.9C280.4,866.9 274.2,867.9 274.8,872.5L274.8,876L84.2,876Z" fill="#c4525d" stroke="#e25f7c" stroke-width="0.6" clip-path="url(#gclip0)"/>
<path d="M133.2,762.0C132.7,762.2 131.1,762.6 130.2,763.2C129.3,763.8 128.6,763.4 127.6,765.4C126.6,767.4 125.2,771.7 124.0,775.0C122.8,778.3 121.5,781.7 120.2,785.0C119.0,788.3 117.6,791.7 116.5,795.0C115.4,798.3 114.4,801.7 113.5,805.0C112.6,808.3 111.7,811.7 110.9,815.0C110.1,818.3 109.3,821.7 108.6,825.0C107.8,828.3 107.1,831.7 106.4,835.0C105.7,838.3 105.0,841.2 104.3,845.0C103.6,848.8 103.0,853.7 102.4,858.0C101.8,862.3 101.0,868.7 100.7,870.8L173.1,870.8L173.1,870.8C172.8,869.5 172.1,865.6 171.0,863.0C169.9,860.4 168.1,858.0 166.5,855.0C164.9,852.0 163.0,848.3 161.2,845.0C159.4,841.7 157.3,838.3 155.6,835.0C153.9,831.7 152.2,828.3 150.8,825.0C149.4,821.7 148.2,818.3 147.2,815.0C146.2,811.7 145.4,808.3 144.7,805.0C144.0,801.7 143.5,798.3 143.0,795.0C142.5,791.7 142.1,788.3 141.6,785.0C141.1,781.7 140.5,778.1 140.0,775.0C139.5,771.9 139.2,768.5 138.6,766.5C138.0,764.5 137.3,764.0 136.4,763.2C135.5,762.5 133.7,762.2 133.2,762.0Z" fill="#fcc69d" stroke="#fdd5b0" stroke-width="0.9"/>
<g fill="#8a777b"><circle cx="117.9" cy="825.0" r="0.85"/><ellipse cx="117.7" cy="867.4" rx="2.18" ry="1.16" transform="rotate(54 117.7 867.4)"/><ellipse cx="111.6" cy="833.5" rx="3.34" ry="1.64" transform="rotate(4 111.6 833.5)"/><ellipse cx="134.9" cy="841.4" rx="3.52" ry="1.50" transform="rotate(34 134.9 841.4)"/><circle cx="132.3" cy="832.8" r="0.75"/><ellipse cx="126.1" cy="828.9" rx="2.35" ry="1.27" transform="rotate(65 126.1 828.9)"/><ellipse cx="162.7" cy="867.0" rx="2.49" ry="1.29" transform="rotate(-54 162.7 867.0)"/><circle cx="130.4" cy="788.1" r="0.95"/><ellipse cx="124.7" cy="856.6" rx="3.60" ry="1.45" transform="rotate(1 124.7 856.6)"/><ellipse cx="128.1" cy="817.2" rx="2.28" ry="1.12" transform="rotate(23 128.1 817.2)"/><ellipse cx="145.6" cy="862.2" rx="2.38" ry="1.00" transform="rotate(-11 145.6 862.2)"/><ellipse cx="122.5" cy="865.7" rx="1.81" ry="1.07" transform="rotate(8 122.5 865.7)"/><circle cx="145.3" cy="833.3" r="0.79"/><circle cx="151.9" cy="843.2" r="0.87"/><circle cx="123.9" cy="808.1" r="0.84"/><circle cx="141.9" cy="843.0" r="0.92"/><circle cx="132.4" cy="854.2" r="0.86"/><circle cx="159.1" cy="852.6" r="0.92"/><circle cx="147.2" cy="849.6" r="0.72"/><ellipse cx="131.1" cy="812.4" rx="2.60" ry="1.77" transform="rotate(-55 131.1 812.4)"/><ellipse cx="132.1" cy="863.1" rx="3.35" ry="1.72" transform="rotate(-44 132.1 863.1)"/><ellipse cx="119.0" cy="854.8" rx="2.08" ry="0.98" transform="rotate(45 119.0 854.8)"/><circle cx="139.4" cy="850.6" r="0.97"/><ellipse cx="120.3" cy="799.2" rx="2.18" ry="1.21" transform="rotate(-12 120.3 799.2)"/><ellipse cx="105.7" cy="865.4" rx="3.10" ry="1.46" transform="rotate(-66 105.7 865.4)"/><circle cx="126.8" cy="791.9" r="0.82"/><ellipse cx="134.1" cy="797.0" rx="1.86" ry="1.07" transform="rotate(31 134.1 797.0)"/><circle cx="119.7" cy="817.5" r="0.86"/><circle cx="111.1" cy="846.6" r="0.64"/><ellipse cx="109.5" cy="853.2" rx="2.56" ry="1.13" transform="rotate(54 109.5 853.2)"/><circle cx="154.9" cy="861.7" r="0.83"/><circle cx="129.4" cy="806.9" r="0.80"/><circle cx="122.1" cy="840.2" r="0.83"/><ellipse cx="141.0" cy="819.1" rx="2.12" ry="1.19" transform="rotate(57 141.0 819.1)"/><ellipse cx="151.7" cy="854.5" rx="3.47" ry="1.46" transform="rotate(-39 151.7 854.5)"/><ellipse cx="127.8" cy="846.5" rx="2.34" ry="1.16" transform="rotate(-33 127.8 846.5)"/><circle cx="109.6" cy="861.4" r="0.89"/><ellipse cx="144.0" cy="826.1" rx="2.05" ry="0.97" transform="rotate(-7 144.0 826.1)"/><circle cx="138.9" cy="827.3" r="0.91"/><ellipse cx="132.9" cy="827.1" rx="2.74" ry="1.70" transform="rotate(63 132.9 827.1)"/><circle cx="135.8" cy="784.2" r="0.68"/><ellipse cx="113.8" cy="858.4" rx="2.10" ry="1.11" transform="rotate(-21 113.8 858.4)"/><ellipse cx="125.7" cy="782.8" rx="2.27" ry="0.90" transform="rotate(75 125.7 782.8)"/><ellipse cx="139.5" cy="813.3" rx="3.55" ry="1.54" transform="rotate(64 139.5 813.3)"/><circle cx="138.3" cy="834.0" r="0.71"/><ellipse cx="139.9" cy="807.7" rx="3.06" ry="1.74" transform="rotate(-34 139.9 807.7)"/></g>
<path d="M232.8,758.9C232.3,759.2 230.7,759.8 229.8,760.6C228.9,761.4 228.1,761.5 227.4,763.8C226.7,766.1 226.3,770.4 225.7,774.4C225.1,778.4 224.4,783.5 223.9,787.8C223.4,792.1 223.1,796.5 222.6,800.0C222.1,803.5 221.9,805.2 221.2,808.9C220.5,812.6 219.6,818.5 218.6,822.2C217.6,825.9 216.7,828.1 215.0,831.1C213.3,834.1 210.8,836.9 208.5,840.0C206.2,843.1 203.0,846.2 201.0,849.5C199.0,852.8 197.7,856.5 196.5,860.0C195.3,863.5 194.5,869.0 194.1,870.8L273.8,870.8L273.8,870.8C273.6,869.1 273.1,863.9 272.3,860.4C271.5,856.9 270.4,853.6 269.2,849.8C267.9,845.9 266.3,841.4 264.8,837.3C263.3,833.1 261.6,828.9 260.3,824.9C259.0,820.9 258.0,817.4 256.8,813.3C255.6,809.1 254.7,804.7 253.2,800.0C251.7,795.3 249.5,789.4 247.9,785.1C246.3,780.8 244.9,777.6 243.4,774.4C241.9,771.1 240.2,767.8 239.0,765.6C237.8,763.4 237.2,762.1 236.2,761.0C235.2,759.9 233.4,759.2 232.8,758.9Z" fill="#fcc69d" stroke="#fdd5b0" stroke-width="0.9"/>
<g fill="#8a777b"><ellipse cx="243.7" cy="842.8" rx="2.39" ry="1.27" transform="rotate(71 243.7 842.8)"/><ellipse cx="231.5" cy="794.8" rx="1.81" ry="0.99" transform="rotate(12 231.5 794.8)"/><ellipse cx="216.4" cy="859.7" rx="2.44" ry="0.96" transform="rotate(-54 216.4 859.7)"/><circle cx="237.1" cy="836.6" r="0.88"/><circle cx="248.1" cy="803.6" r="0.79"/><circle cx="253.9" cy="852.8" r="0.75"/><ellipse cx="254.3" cy="861.0" rx="2.95" ry="1.56" transform="rotate(-25 254.3 861.0)"/><ellipse cx="221.3" cy="830.1" rx="3.52" ry="1.57" transform="rotate(-26 221.3 830.1)"/><ellipse cx="198.0" cy="866.5" rx="1.99" ry="1.14" transform="rotate(-15 198.0 866.5)"/><circle cx="233.4" cy="852.1" r="0.98"/><circle cx="206.0" cy="852.8" r="1.00"/><ellipse cx="262.0" cy="865.5" rx="2.38" ry="1.09" transform="rotate(-2 262.0 865.5)"/><circle cx="244.1" cy="819.3" r="0.71"/><ellipse cx="222.9" cy="847.1" rx="2.33" ry="1.20" transform="rotate(31 222.9 847.1)"/><circle cx="223.1" cy="839.2" r="0.91"/><ellipse cx="237.7" cy="795.2" rx="2.45" ry="1.16" transform="rotate(-6 237.7 795.2)"/><ellipse cx="261.3" cy="855.2" rx="2.57" ry="1.11" transform="rotate(76 261.3 855.2)"/><ellipse cx="236.3" cy="787.0" rx="3.08" ry="1.65" transform="rotate(70 236.3 787.0)"/><circle cx="251.5" cy="841.7" r="0.83"/><ellipse cx="247.1" cy="811.7" rx="2.31" ry="1.19" transform="rotate(44 247.1 811.7)"/><circle cx="229.3" cy="833.9" r="0.85"/><ellipse cx="227.5" cy="849.7" rx="1.91" ry="1.14" transform="rotate(-21 227.5 849.7)"/><ellipse cx="239.0" cy="863.7" rx="2.95" ry="1.75" transform="rotate(17 239.0 863.7)"/><circle cx="239.2" cy="830.5" r="0.96"/><ellipse cx="227.2" cy="801.8" rx="2.89" ry="1.54" transform="rotate(-1 227.2 801.8)"/><ellipse cx="245.5" cy="829.4" rx="2.41" ry="1.02" transform="rotate(-61 245.5 829.4)"/><circle cx="236.6" cy="803.5" r="0.79"/><ellipse cx="237.6" cy="772.3" rx="2.26" ry="1.18" transform="rotate(-12 237.6 772.3)"/><circle cx="237.9" cy="819.1" r="0.83"/><ellipse cx="212.4" cy="850.3" rx="1.82" ry="1.19" transform="rotate(26 212.4 850.3)"/><ellipse cx="272.1" cy="867.6" rx="2.47" ry="0.99" transform="rotate(-72 272.1 867.6)"/><ellipse cx="245.6" cy="863.2" rx="2.03" ry="1.27" transform="rotate(-58 245.6 863.2)"/><ellipse cx="234.4" cy="859.1" rx="2.01" ry="1.12" transform="rotate(19 234.4 859.1)"/><ellipse cx="214.4" cy="843.6" rx="1.99" ry="1.05" transform="rotate(-59 214.4 843.6)"/><circle cx="250.9" cy="834.4" r="0.64"/><ellipse cx="213.1" cy="855.9" rx="2.44" ry="0.91" transform="rotate(-28 213.1 855.9)"/><ellipse cx="206.1" cy="863.2" rx="1.89" ry="1.29" transform="rotate(-44 206.1 863.2)"/><circle cx="247.1" cy="850.4" r="0.74"/><circle cx="243.0" cy="804.7" r="0.93"/><circle cx="232.4" cy="844.6" r="0.96"/><circle cx="231.2" cy="780.6" r="0.75"/><circle cx="224.8" cy="856.2" r="0.71"/><ellipse cx="223.5" cy="861.8" rx="2.18" ry="1.28" transform="rotate(28 223.5 861.8)"/><ellipse cx="217.3" cy="836.3" rx="1.96" ry="0.91" transform="rotate(-54 217.3 836.3)"/><circle cx="226.2" cy="822.4" r="0.64"/><circle cx="241.8" cy="853.9" r="0.82"/></g>
<path d="M174.6,834 C177,846 179.5,858 182.2,870.8 M195.8,830.5 C193.6,844 191,857 187.7,870.8" fill="none" stroke="#c81e30" stroke-width="1.2"/>
<path d="M145.2,752.4C144.8,751.0 143.8,747.1 143.0,744.0C142.2,740.9 141.3,737.1 140.4,733.6C139.5,730.1 138.4,726.6 137.5,723.0C136.6,719.4 135.9,715.9 135.1,712.2C134.3,708.5 133.3,704.5 132.8,701.0C132.3,697.5 132.0,694.1 132.1,690.9C132.2,687.7 132.6,684.6 133.5,682.0C134.4,679.4 135.9,676.8 137.5,675.0C139.1,673.2 141.0,672.0 143.0,671.2C145.0,670.4 147.0,670.1 149.3,670.1C151.6,670.1 154.4,670.4 157.0,671.0C159.6,671.6 162.3,673.0 165.0,674.0C167.7,675.0 170.4,676.2 173.0,676.8C175.6,677.4 177.6,677.6 180.4,677.6C183.2,677.6 186.7,677.6 190.0,677.0C193.3,676.4 196.7,675.1 200.0,674.0C203.3,672.9 206.7,671.3 210.0,670.5C213.3,669.7 216.8,669.2 219.6,669.2C222.4,669.2 224.7,669.5 227.0,670.5C229.3,671.5 231.7,673.2 233.5,675.5C235.3,677.8 237.0,680.9 238.0,684.0C239.0,687.1 239.4,690.7 239.5,694.4C239.6,698.1 239.2,702.1 238.5,706.0C237.8,709.9 236.6,714.1 235.6,717.6C234.6,721.1 233.5,724.0 232.3,727.0C231.1,730.0 229.6,732.5 228.4,735.3C227.2,738.1 226.4,740.8 225.4,744.0C224.4,747.2 223.1,752.8 222.6,754.6L218.6,754L218.6,754.0C219.1,751.7 220.6,744.5 221.6,740.0C222.6,735.5 223.8,731.2 224.8,727.0C225.8,722.8 227.1,719.0 227.8,715.0C228.5,711.0 229.0,706.2 229.0,703.3C229.0,700.4 228.8,699.4 228.0,697.5C227.2,695.6 226.0,693.6 224.5,692.0C223.0,690.4 221.0,688.9 219.0,688.0C217.0,687.1 214.7,686.6 212.4,686.4C210.1,686.2 207.9,686.3 205.0,686.6C202.1,686.9 198.2,687.8 195.0,688.3C191.8,688.8 188.3,689.3 185.8,689.6C183.3,689.9 182.6,690.3 180.0,690.3C177.4,690.3 173.3,690.0 170.0,689.5C166.7,689.0 162.8,687.9 160.0,687.5C157.2,687.1 155.0,686.8 152.9,687.0C150.8,687.2 149.1,687.8 147.5,689.0C145.9,690.2 144.5,691.9 143.5,694.0C142.5,696.1 141.7,698.6 141.3,701.6C141.0,704.6 141.1,708.1 141.4,712.0C141.8,715.9 142.5,720.3 143.4,725.0C144.3,729.7 145.7,735.5 146.6,740.0C147.5,744.5 148.4,750.0 148.8,752.0Z" fill="url(#enam)" stroke="#b4b6b9" stroke-width="0.9" stroke-linejoin="round"/>
<path d="M148.8,752.0C148.4,750.0 147.5,744.5 146.6,740.0C145.7,735.5 144.3,729.7 143.4,725.0C142.5,720.3 141.8,715.9 141.4,712.0C141.1,708.1 141.0,704.6 141.3,701.6C141.7,698.6 142.5,696.1 143.5,694.0C144.5,691.9 145.9,690.2 147.5,689.0C149.1,687.8 150.8,687.2 152.9,687.0C155.0,686.8 157.2,687.1 160.0,687.5C162.8,687.9 166.7,689.0 170.0,689.5C173.3,690.0 177.4,690.3 180.0,690.3C182.6,690.3 183.3,689.9 185.8,689.6C188.3,689.3 191.8,688.8 195.0,688.3C198.2,687.8 202.1,686.9 205.0,686.6C207.9,686.3 210.1,686.2 212.4,686.4C214.7,686.6 217.0,687.1 219.0,688.0C221.0,688.9 223.0,690.4 224.5,692.0C226.0,693.6 227.2,695.6 228.0,697.5C228.8,699.4 229.0,700.4 229.0,703.3C229.0,706.2 228.5,711.0 227.8,715.0C227.1,719.0 225.8,722.8 224.8,727.0C223.8,731.2 222.6,735.5 221.6,740.0C220.6,744.5 219.1,751.7 218.6,754.0L219.6,754.2C219.3,755.2 218.4,757.7 217.9,760.5C217.4,763.3 216.8,767.6 216.3,771.0C215.8,774.4 215.4,777.7 214.9,781.0C214.4,784.3 214.0,787.6 213.5,791.0C213.0,794.4 212.5,798.0 211.8,801.5C211.1,805.0 210.3,808.6 209.5,812.0C208.7,815.4 207.8,819.6 206.7,822.0C205.6,824.4 204.0,825.4 202.7,826.6C201.4,827.8 199.9,829.2 198.7,829.4C197.5,829.6 196.4,828.9 195.5,827.7C194.6,826.5 193.7,824.1 193.3,822.0C192.9,819.9 192.9,817.5 193.0,815.0C193.1,812.5 193.5,809.9 193.8,806.7C194.1,803.5 194.7,799.4 194.9,796.0C195.1,792.6 195.1,789.4 194.9,786.2C194.7,783.0 194.1,779.8 193.5,777.0C192.9,774.2 192.2,771.6 191.3,769.7C190.4,767.8 189.1,766.4 188.0,765.4C186.9,764.4 185.7,763.7 184.6,763.6C183.5,763.5 182.4,764.0 181.5,764.7C180.6,765.4 179.8,766.3 179.0,767.7C178.2,769.1 177.4,770.8 177.0,773.0C176.6,775.2 176.5,778.0 176.4,781.0C176.3,784.0 176.2,787.6 176.5,791.0C176.8,794.4 177.4,798.3 177.9,801.5C178.4,804.7 179.0,806.9 179.4,810.0C179.8,813.1 180.3,817.0 180.3,820.0C180.3,823.0 179.9,825.9 179.4,828.0C178.9,830.1 178.1,831.4 177.2,832.4C176.3,833.4 175.2,834.4 174.0,834.3C172.8,834.2 171.4,833.4 170.0,832.0C168.6,830.6 166.8,828.3 165.3,826.0C163.9,823.7 162.4,820.7 161.3,818.0C160.2,815.3 159.7,813.8 158.7,810.0C157.7,806.2 156.2,800.0 155.2,795.0C154.1,790.0 153.3,785.0 152.4,780.0C151.5,775.0 150.7,769.6 149.9,765.0C149.1,760.4 148.1,754.4 147.7,752.3Z" fill="#fdc39a"/>
<path d="M148.8,752.0C148.4,750.0 147.5,744.5 146.6,740.0C145.7,735.5 144.3,729.7 143.4,725.0C142.5,720.3 141.8,715.9 141.4,712.0C141.1,708.1 141.0,704.6 141.3,701.6C141.7,698.6 142.5,696.1 143.5,694.0C144.5,691.9 145.9,690.2 147.5,689.0C149.1,687.8 150.8,687.2 152.9,687.0C155.0,686.8 157.2,687.1 160.0,687.5C162.8,687.9 166.7,689.0 170.0,689.5C173.3,690.0 177.4,690.3 180.0,690.3C182.6,690.3 183.3,689.9 185.8,689.6C188.3,689.3 191.8,688.8 195.0,688.3C198.2,687.8 202.1,686.9 205.0,686.6C207.9,686.3 210.1,686.2 212.4,686.4C214.7,686.6 217.0,687.1 219.0,688.0C221.0,688.9 223.0,690.4 224.5,692.0C226.0,693.6 227.2,695.6 228.0,697.5C228.8,699.4 229.0,700.4 229.0,703.3C229.0,706.2 228.5,711.0 227.8,715.0C227.1,719.0 225.8,722.8 224.8,727.0C223.8,731.2 222.6,735.5 221.6,740.0C220.6,744.5 219.1,751.7 218.6,754.0" fill="none" stroke="#b0b2b5" stroke-width="0.9"/>
<path d="M174.0,834.3C174.5,834.0 176.3,833.4 177.2,832.4C178.1,831.4 178.9,830.1 179.4,828.0C179.9,825.9 180.3,823.0 180.3,820.0C180.3,817.0 179.8,813.1 179.4,810.0C179.0,806.9 178.4,804.7 177.9,801.5C177.4,798.3 176.8,794.4 176.5,791.0C176.2,787.6 176.3,784.0 176.4,781.0C176.5,778.0 176.6,775.2 177.0,773.0C177.4,770.8 178.2,769.1 179.0,767.7C179.8,766.3 180.6,765.4 181.5,764.7C182.4,764.0 183.5,763.5 184.6,763.6C185.7,763.7 186.9,764.4 188.0,765.4C189.1,766.4 190.4,767.8 191.3,769.7C192.2,771.6 192.9,774.2 193.5,777.0C194.1,779.8 194.7,783.0 194.9,786.2C195.1,789.4 195.1,792.6 194.9,796.0C194.7,799.4 194.1,803.5 193.8,806.7C193.5,809.9 193.1,812.5 193.0,815.0C192.9,817.5 192.9,819.9 193.3,822.0C193.7,824.1 194.6,826.5 195.5,827.7C196.4,828.9 198.2,829.1 198.7,829.4L186,845Z" fill="#c5525f"/>
<path d="M147.7,752.3C148.1,754.4 149.1,760.4 149.9,765.0C150.7,769.6 151.5,775.0 152.4,780.0C153.3,785.0 154.1,790.0 155.2,795.0C156.2,800.0 157.7,806.2 158.7,810.0C159.7,813.8 160.2,815.3 161.3,818.0C162.4,820.7 163.9,823.7 165.3,826.0C166.8,828.3 168.6,830.6 170.0,832.0C171.4,833.4 172.8,834.2 174.0,834.3C175.2,834.4 176.3,833.4 177.2,832.4C178.1,831.4 178.9,830.1 179.4,828.0C179.9,825.9 180.3,823.0 180.3,820.0C180.3,817.0 179.8,813.1 179.4,810.0C179.0,806.9 178.4,804.7 177.9,801.5C177.4,798.3 176.8,794.4 176.5,791.0C176.2,787.6 176.3,784.0 176.4,781.0C176.5,778.0 176.6,775.2 177.0,773.0C177.4,770.8 178.2,769.1 179.0,767.7C179.8,766.3 180.6,765.4 181.5,764.7C182.4,764.0 183.5,763.5 184.6,763.6C185.7,763.7 186.9,764.4 188.0,765.4C189.1,766.4 190.4,767.8 191.3,769.7C192.2,771.6 192.9,774.2 193.5,777.0C194.1,779.8 194.7,783.0 194.9,786.2C195.1,789.4 195.1,792.6 194.9,796.0C194.7,799.4 194.1,803.5 193.8,806.7C193.5,809.9 193.1,812.5 193.0,815.0C192.9,817.5 192.9,819.9 193.3,822.0C193.7,824.1 194.6,826.5 195.5,827.7C196.4,828.9 197.5,829.6 198.7,829.4C199.9,829.2 201.4,827.8 202.7,826.6C204.0,825.4 205.6,824.4 206.7,822.0C207.8,819.6 208.7,815.4 209.5,812.0C210.3,808.6 211.1,805.0 211.8,801.5C212.5,798.0 213.0,794.4 213.5,791.0C214.0,787.6 214.4,784.3 214.9,781.0C215.4,777.7 215.8,774.4 216.3,771.0C216.8,767.6 217.4,763.3 217.9,760.5C218.4,757.7 219.3,755.2 219.6,754.2" fill="none" stroke="#9c9ea1" stroke-width="3.6" stroke-linejoin="round" stroke-linecap="butt"/>
<path d="M147.7,752.3C148.1,754.4 149.1,760.4 149.9,765.0C150.7,769.6 151.5,775.0 152.4,780.0C153.3,785.0 154.1,790.0 155.2,795.0C156.2,800.0 157.7,806.2 158.7,810.0C159.7,813.8 160.2,815.3 161.3,818.0C162.4,820.7 163.9,823.7 165.3,826.0C166.8,828.3 168.6,830.6 170.0,832.0C171.4,833.4 172.8,834.2 174.0,834.3C175.2,834.4 176.3,833.4 177.2,832.4C178.1,831.4 178.9,830.1 179.4,828.0C179.9,825.9 180.3,823.0 180.3,820.0C180.3,817.0 179.8,813.1 179.4,810.0C179.0,806.9 178.4,804.7 177.9,801.5C177.4,798.3 176.8,794.4 176.5,791.0C176.2,787.6 176.3,784.0 176.4,781.0C176.5,778.0 176.6,775.2 177.0,773.0C177.4,770.8 178.2,769.1 179.0,767.7C179.8,766.3 180.6,765.4 181.5,764.7C182.4,764.0 183.5,763.5 184.6,763.6C185.7,763.7 186.9,764.4 188.0,765.4C189.1,766.4 190.4,767.8 191.3,769.7C192.2,771.6 192.9,774.2 193.5,777.0C194.1,779.8 194.7,783.0 194.9,786.2C195.1,789.4 195.1,792.6 194.9,796.0C194.7,799.4 194.1,803.5 193.8,806.7C193.5,809.9 193.1,812.5 193.0,815.0C192.9,817.5 192.9,819.9 193.3,822.0C193.7,824.1 194.6,826.5 195.5,827.7C196.4,828.9 197.5,829.6 198.7,829.4C199.9,829.2 201.4,827.8 202.7,826.6C204.0,825.4 205.6,824.4 206.7,822.0C207.8,819.6 208.7,815.4 209.5,812.0C210.3,808.6 211.1,805.0 211.8,801.5C212.5,798.0 213.0,794.4 213.5,791.0C214.0,787.6 214.4,784.3 214.9,781.0C215.4,777.7 215.8,774.4 216.3,771.0C216.8,767.6 217.4,763.3 217.9,760.5C218.4,757.7 219.3,755.2 219.6,754.2" fill="none" stroke="#bcbec1" stroke-width="1.7" stroke-linejoin="round" stroke-linecap="butt"/>
<path d="M156.6,716.5C156.5,714.3 156.9,714.1 157.6,713.6C158.3,713.1 158.9,712.9 161.0,713.2C163.1,713.5 166.5,714.7 170.0,715.2C173.5,715.7 178.0,716.2 182.2,716.1C186.4,716.0 191.4,715.1 195.0,714.5C198.6,713.9 201.9,712.6 204.0,712.4C206.1,712.1 206.9,712.3 207.8,713.0C208.7,713.7 209.0,715.0 209.2,716.5C209.4,718.0 209.2,719.8 209.0,722.0C208.8,724.2 208.3,727.0 208.0,730.0C207.7,733.0 207.3,736.4 207.0,740.0C206.7,743.6 206.4,747.6 206.0,751.7C205.6,755.9 205.2,761.0 204.8,764.9C204.4,768.8 203.9,772.0 203.6,775.0C203.3,778.0 203.4,778.6 203.0,783.0C202.6,787.4 202.0,796.2 201.4,801.5C200.8,806.8 199.9,810.7 199.2,815.0C198.5,819.3 197.6,827.2 197.4,827.2C197.2,827.2 197.9,819.3 198.3,815.0C198.7,810.7 199.4,806.3 199.6,801.5C199.8,796.7 199.6,791.5 199.2,786.2C198.8,781.0 198.0,775.2 197.3,770.0C196.6,764.8 196.2,758.9 195.2,755.0C194.1,751.1 192.8,748.6 191.0,746.6C189.2,744.6 186.5,743.1 184.1,743.1C181.7,743.1 178.8,744.4 176.5,746.4C174.2,748.4 171.8,752.2 170.6,755.4C169.3,758.6 169.4,762.3 169.0,765.6C168.6,768.9 168.2,770.9 168.0,775.0C167.8,779.1 167.4,785.0 167.6,790.0C167.8,795.0 168.4,798.0 169.4,805.0C170.4,812.0 174.1,832.9 173.8,832.3C173.5,831.7 169.4,811.8 167.8,801.5C166.2,791.2 165.1,779.7 164.1,770.8C163.1,761.9 162.5,753.3 162.0,748.0C161.5,742.7 161.5,742.4 160.9,738.9C160.3,735.4 159.1,730.7 158.4,727.0C157.7,723.3 156.7,718.7 156.6,716.5Z" fill="url(#pulp0)" stroke="#e6705e" stroke-width="1.1" stroke-opacity="0.75"/>
<g fill="none" stroke="#14090a" stroke-width="1.05" stroke-linecap="round"><path d="M181.1,870.8 C178.5,858 176,845 174,833.8 C170.5,820 168,805 166.9,791.1 C165,777 163.6,765 163.6,750.1 C163.6,743 163.2,736 162.8,730.7 C162,726 160.6,721.5 159.3,717.4"/><path d="M188.8,870.8 C191.5,857 194,843 196.2,830.2 C198.5,820 200,810 200.7,800 C201.8,790 202.2,778 201.3,764.9 C200.6,760 200,756 199.8,751.7 C199.8,747.5 200.2,744 200.5,740 C201,736 201.5,732 201.3,728.3 C201,725.5 200.6,723 199.8,720.6 C199,718.6 198,717.4 196.7,716.7 C195.2,716 193.6,715.6 192,715.5"/><path d="M163.6,750.1 C166.5,746.5 169.8,743 173.3,740 C176,737.8 178.8,736 181.1,734.5 C182,733.8 182.8,733 183.4,732.2"/><path d="M164,743.9 C166.8,741.5 169.5,739 171.8,736.1 C173.6,733.6 174.8,731 175.7,728.3 C176.6,726 177.6,724 178.8,722.1 C180,720.2 181.3,718.6 182.7,717.4"/><path d="M162.8,730.7 C162.6,726 162.2,721.5 161.7,717"/><path d="M164,728.5 C164.8,725 165.3,721.6 165.6,718.2"/><path d="M165.2,736.5 C166.6,733 167.8,728.5 168.7,724 C169.2,722.4 169.9,721 170.6,719.8"/><path d="M171.8,736.1 C173.6,736.2 175.4,735.8 177,735 M169.6,738.6 C170.6,735.6 171,733 171,730.2 C171.2,728 171.8,726 172.8,724.4"/><path d="M175.7,728.3 C174.6,726.4 173.4,724.2 172.4,722.2 M175.2,730 C177,729 178.6,727.6 180,726 M177.6,724.2 C176.8,722.6 176.4,721 176.4,719.4"/><path d="M173.3,740 C174.6,741.2 176.2,741.8 178,741.8 M178.4,736 C180,734 181,732 181.6,729.8 M166.5,746.6 C168.4,746.8 170.2,746.4 172,745.6"/><path d="M178.8,722.1 C180.4,722.4 182,722 183.2,721 M168.7,724 C168,722.2 167.8,720.4 168,718.6"/><path d="M199.8,751.7 C198.4,749.8 196.8,748.2 195.1,747 C193.4,745.4 191.8,743.4 190.4,741.5 C189,740.2 187.4,739.2 185.8,738.4"/><path d="M200.5,740 C198.2,738.2 195.8,736.6 193.5,735.3 C191.8,734.2 190.2,732.8 188.9,731.4"/><path d="M201,728.3 C198.6,727.4 196,727 193.5,726.8 C191.2,726.6 188.8,726.8 186.5,727.2"/><path d="M199,720.6 C196.8,719.8 194.4,719.6 192,719.8 C190.2,719.8 188.2,720.2 186.5,720.6"/><path d="M200.5,741.5 C202.2,740 203.6,738.2 204.4,736.1 C205,734.8 205.2,733.5 205.2,732.2"/><path d="M202.9,726.8 C204.4,725 205.2,722.8 205.2,720.6 C205,718 203.2,715.6 200.5,714.3"/><path d="M195.1,747 C195.4,744.8 195,742.8 194,741 M193.5,735.3 C191.6,735.6 189.8,735.4 188,734.6 M196.4,737.4 C196,735 196.2,733 197,731"/><path d="M193.5,726.8 C192.4,725.4 191,724.4 189.4,723.8 M196,727 C195,729 193.4,730.4 191.4,731 M192,719.8 C191,718.4 189.6,717.6 188,717.4 M197,754.6 C198.4,756.6 199.4,758.8 200,761"/></g>
</g>
<g transform="translate(244.8,0)">
<path d="M78.9,870.8C79.0,869.4 79.3,865.1 79.6,862.2C79.9,859.3 80.3,856.3 80.8,853.3C81.3,850.3 81.8,847.3 82.4,844.4C83.0,841.5 83.7,838.5 84.4,835.6C85.2,832.7 86.0,829.7 86.9,826.7C87.8,823.7 88.9,820.8 90.0,817.8C91.1,814.8 92.2,811.8 93.3,808.9C94.4,806.0 95.6,803.3 96.8,800.5C98.0,797.7 99.3,795.1 100.6,792.2C101.9,789.3 103.2,786.3 104.6,783.3C106.0,780.3 107.5,777.3 109.0,774.4C110.5,771.5 112.0,768.5 113.6,765.6C115.2,762.7 117.0,759.7 118.6,756.7C120.2,753.7 121.9,750.3 123.4,747.8C125.0,745.3 126.5,743.2 127.9,741.6C129.3,740.0 130.4,738.9 131.9,738.0C133.4,737.1 135.3,736.1 136.8,736.0C138.3,735.9 139.7,736.1 140.8,737.1C141.9,738.1 142.6,739.7 143.5,742.0C144.4,744.3 145.6,749.5 146.0,751.0L222.0,752.0C222.6,750.4 224.6,744.9 225.5,742.5C226.4,740.1 226.8,738.8 227.6,737.6C228.4,736.4 228.5,735.2 230.1,735.3C231.7,735.4 234.8,736.7 237.2,738.0C239.6,739.3 242.1,741.2 244.3,743.3C246.5,745.4 248.7,747.7 250.6,750.4C252.5,753.1 254.3,756.3 255.9,759.3C257.5,762.3 258.9,765.2 260.3,768.2C261.7,771.2 263.0,774.1 264.3,777.1C265.6,780.1 266.8,783.0 267.9,786.0C269.0,789.0 270.0,791.9 271.0,794.9C272.0,797.9 272.8,801.0 273.7,803.8C274.6,806.6 275.4,808.5 276.3,811.6C277.2,814.7 278.1,818.2 279.0,822.2C279.9,826.2 280.9,831.2 281.7,835.6C282.5,840.0 283.2,844.5 283.9,848.9C284.6,853.3 285.2,858.6 285.7,862.2C286.2,865.9 286.6,869.4 286.8,870.8Z" fill="url(#gumO)" stroke="#e4587a" stroke-width="1.2" stroke-linejoin="round"/>
<clipPath id="gclip1"><rect x="70" y="700" width="230" height="170.8"/></clipPath>
<path d="M84.2,870.7C84.4,868.8 91.8,871.7 92.2,867.4C92.6,862.4 84.9,862.2 85.2,860.0C85.4,858.1 92.5,860.7 93.2,856.3C94.0,851.4 86.6,850.7 87.0,848.5C87.3,846.7 94.0,849.7 94.9,845.5C95.9,840.8 88.8,839.7 89.3,837.7C89.7,835.9 96.0,839.2 97.1,835.2C98.4,830.8 91.6,829.3 92.2,827.4C92.7,825.7 98.6,829.3 99.9,825.6C101.4,821.3 95.0,819.4 95.7,817.4C96.3,815.9 101.8,819.5 103.2,815.9C104.7,811.8 98.5,809.8 99.3,808.0C99.9,806.5 105.1,810.3 106.5,806.9C108.2,803.0 102.4,800.8 103.1,799.1C103.8,797.7 108.8,801.4 110.3,798.1C112.0,794.3 106.4,792.0 107.1,790.3C107.7,788.9 112.5,792.6 113.9,789.5C115.6,785.8 110.2,783.6 110.9,782.1C111.6,780.8 116.1,784.5 117.5,781.5C119.3,778.0 114.1,775.7 114.9,774.2C115.6,772.9 119.8,776.6 121.3,773.8C123.0,770.5 118.1,768.1 118.9,766.7C119.5,765.5 123.5,769.3 125.0,766.6C126.9,763.3 122.2,760.9 123.0,759.4C123.6,758.3 127.6,761.7 129.0,759.0C130.7,755.9 126.0,753.7 126.7,752.3C127.3,751.2 130.7,755.1 132.2,752.8C133.9,750.0 129.7,747.6 130.5,746.5C131.2,745.6 133.7,749.9 135.5,748.0C137.4,745.9 133.6,743.0 134.6,742.3C139,744 142,747 144.5,751 L150,757 L186,760 L221,757 L224.3,750 C225.5,747 227,745 232.7,741.1L232.7,741.1C233.6,741.5 232.2,744.3 234.2,745.4C235.7,746.3 236.7,743.3 237.3,743.8C238.2,744.4 236.3,747.1 238.3,748.8C239.8,750.1 241.4,747.2 242.0,747.8C242.8,748.6 240.4,751.1 242.2,753.2C243.5,754.7 245.6,751.9 246.2,752.6C246.9,753.6 244.0,755.8 245.4,758.1C246.6,759.9 249.3,757.6 249.8,758.4C250.4,759.6 247.2,761.7 248.7,764.3C249.7,766.4 252.8,764.1 253.2,765.0C253.8,766.2 250.4,768.2 251.7,771.1C252.8,773.3 256.1,771.1 256.5,772.1C257.1,773.4 253.5,775.4 254.8,778.3C255.8,780.7 259.3,778.5 259.7,779.5C260.3,780.9 256.5,782.8 257.7,785.9C258.7,788.4 262.4,786.2 262.8,787.3C263.3,788.7 259.2,790.5 260.4,793.7C261.3,796.3 265.2,794.3 265.6,795.5C266.1,797.0 261.7,798.6 262.7,802.0C263.6,804.8 267.8,803.0 268.2,804.2C268.7,805.9 264.2,807.8 265.5,811.4C266.5,814.2 270.8,811.9 271.1,813.2C271.6,814.8 266.7,816.3 267.7,820.0C268.4,823.1 273.1,821.2 273.4,822.5C273.8,824.2 268.7,825.5 269.5,829.4C270.2,832.7 275.1,831.0 275.4,832.4C275.8,834.2 270.4,835.4 271.1,839.5C271.7,842.9 276.9,841.3 277.2,842.8C277.5,844.6 271.9,845.7 272.5,850.0C273.0,853.5 278.5,852.0 278.7,853.5C279.0,855.5 273.1,856.5 273.7,860.9C274.2,864.7 279.9,863.2 280.1,864.9C280.4,866.9 274.2,867.9 274.8,872.5L274.8,876L84.2,876Z" fill="#c4525d" stroke="#e25f7c" stroke-width="0.6" clip-path="url(#gclip1)"/>
<path d="M133.2,762.0C132.7,762.2 131.1,762.6 130.2,763.2C129.3,763.8 128.6,763.4 127.6,765.4C126.6,767.4 125.2,771.7 124.0,775.0C122.8,778.3 121.5,781.7 120.2,785.0C119.0,788.3 117.6,791.7 116.5,795.0C115.4,798.3 114.4,801.7 113.5,805.0C112.6,808.3 111.7,811.7 110.9,815.0C110.1,818.3 109.3,821.7 108.6,825.0C107.8,828.3 107.1,831.7 106.4,835.0C105.7,838.3 105.0,841.2 104.3,845.0C103.6,848.8 103.0,853.7 102.4,858.0C101.8,862.3 101.0,868.7 100.7,870.8L173.1,870.8L173.1,870.8C172.8,869.5 172.1,865.6 171.0,863.0C169.9,860.4 168.1,858.0 166.5,855.0C164.9,852.0 163.0,848.3 161.2,845.0C159.4,841.7 157.3,838.3 155.6,835.0C153.9,831.7 152.2,828.3 150.8,825.0C149.4,821.7 148.2,818.3 147.2,815.0C146.2,811.7 145.4,808.3 144.7,805.0C144.0,801.7 143.5,798.3 143.0,795.0C142.5,791.7 142.1,788.3 141.6,785.0C141.1,781.7 140.5,778.1 140.0,775.0C139.5,771.9 139.2,768.5 138.6,766.5C138.0,764.5 137.3,764.0 136.4,763.2C135.5,762.5 133.7,762.2 133.2,762.0Z" fill="#fcc69d" stroke="#fdd5b0" stroke-width="0.9"/>
<g fill="#8a777b"><ellipse cx="119.5" cy="838.3" rx="1.95" ry="0.99" transform="rotate(56 119.5 838.3)"/><ellipse cx="122.0" cy="814.5" rx="2.61" ry="1.44" transform="rotate(17 122.0 814.5)"/><ellipse cx="111.3" cy="855.7" rx="3.43" ry="1.67" transform="rotate(49 111.3 855.7)"/><ellipse cx="119.3" cy="853.7" rx="2.25" ry="1.07" transform="rotate(41 119.3 853.7)"/><circle cx="127.1" cy="814.3" r="0.93"/><ellipse cx="158.5" cy="866.5" rx="2.40" ry="0.95" transform="rotate(9 158.5 866.5)"/><ellipse cx="138.5" cy="797.8" rx="2.12" ry="0.95" transform="rotate(17 138.5 797.8)"/><ellipse cx="127.2" cy="780.9" rx="2.11" ry="1.19" transform="rotate(73 127.2 780.9)"/><ellipse cx="111.0" cy="849.6" rx="2.76" ry="1.51" transform="rotate(22 111.0 849.6)"/><ellipse cx="145.4" cy="828.5" rx="2.38" ry="1.04" transform="rotate(-23 145.4 828.5)"/><circle cx="132.5" cy="806.2" r="1.00"/><circle cx="120.2" cy="830.0" r="0.75"/><ellipse cx="124.9" cy="820.6" rx="3.07" ry="1.63" transform="rotate(3 124.9 820.6)"/><ellipse cx="137.0" cy="859.4" rx="2.35" ry="1.24" transform="rotate(-39 137.0 859.4)"/><circle cx="126.4" cy="796.9" r="0.74"/><circle cx="135.5" cy="826.0" r="0.77"/><ellipse cx="132.7" cy="856.2" rx="3.14" ry="1.36" transform="rotate(-73 132.7 856.2)"/><circle cx="161.5" cy="858.2" r="0.81"/><circle cx="122.4" cy="864.2" r="0.62"/><ellipse cx="163.4" cy="867.8" rx="3.22" ry="1.72" transform="rotate(-12 163.4 867.8)"/><ellipse cx="119.5" cy="805.1" rx="3.45" ry="1.73" transform="rotate(-40 119.5 805.1)"/><ellipse cx="130.8" cy="867.2" rx="2.01" ry="1.08" transform="rotate(-3 130.8 867.2)"/><ellipse cx="135.2" cy="791.9" rx="2.46" ry="0.97" transform="rotate(-75 135.2 791.9)"/><ellipse cx="119.3" cy="819.6" rx="2.22" ry="0.90" transform="rotate(-41 119.3 819.6)"/><circle cx="133.2" cy="845.3" r="0.62"/><ellipse cx="108.0" cy="859.7" rx="3.43" ry="1.64" transform="rotate(51 108.0 859.7)"/><ellipse cx="110.4" cy="842.1" rx="2.31" ry="1.14" transform="rotate(-71 110.4 842.1)"/><ellipse cx="142.1" cy="812.8" rx="3.55" ry="1.47" transform="rotate(-9 142.1 812.8)"/><ellipse cx="149.4" cy="859.6" rx="1.86" ry="1.09" transform="rotate(-20 149.4 859.6)"/><ellipse cx="130.7" cy="850.4" rx="2.16" ry="1.06" transform="rotate(78 130.7 850.4)"/><circle cx="141.5" cy="844.3" r="0.66"/><ellipse cx="124.2" cy="802.1" rx="3.53" ry="1.45" transform="rotate(-47 124.2 802.1)"/><circle cx="115.5" cy="865.4" r="0.65"/><ellipse cx="141.6" cy="856.9" rx="2.36" ry="1.22" transform="rotate(33 141.6 856.9)"/><ellipse cx="132.7" cy="783.8" rx="2.14" ry="1.18" transform="rotate(12 132.7 783.8)"/><ellipse cx="126.9" cy="844.5" rx="2.39" ry="1.13" transform="rotate(-63 126.9 844.5)"/><ellipse cx="140.6" cy="850.7" rx="1.82" ry="1.22" transform="rotate(-20 140.6 850.7)"/><ellipse cx="153.0" cy="843.8" rx="3.16" ry="1.39" transform="rotate(9 153.0 843.8)"/><ellipse cx="131.3" cy="777.7" rx="2.38" ry="1.14" transform="rotate(-9 131.3 777.7)"/><ellipse cx="106.9" cy="864.9" rx="2.55" ry="1.10" transform="rotate(-8 106.9 864.9)"/><ellipse cx="131.1" cy="861.7" rx="2.64" ry="1.71" transform="rotate(-6 131.1 861.7)"/><circle cx="149.7" cy="867.4" r="0.85"/><circle cx="113.0" cy="832.0" r="0.78"/><circle cx="149.3" cy="850.5" r="0.79"/><circle cx="132.6" cy="838.9" r="0.95"/><ellipse cx="127.1" cy="832.1" rx="1.94" ry="1.13" transform="rotate(64 127.1 832.1)"/></g>
<path d="M232.8,758.9C232.3,759.2 230.7,759.8 229.8,760.6C228.9,761.4 228.1,761.5 227.4,763.8C226.7,766.1 226.3,770.4 225.7,774.4C225.1,778.4 224.4,783.5 223.9,787.8C223.4,792.1 223.1,796.5 222.6,800.0C222.1,803.5 221.9,805.2 221.2,808.9C220.5,812.6 219.6,818.5 218.6,822.2C217.6,825.9 216.7,828.1 215.0,831.1C213.3,834.1 210.8,836.9 208.5,840.0C206.2,843.1 203.0,846.2 201.0,849.5C199.0,852.8 197.7,856.5 196.5,860.0C195.3,863.5 194.5,869.0 194.1,870.8L273.8,870.8L273.8,870.8C273.6,869.1 273.1,863.9 272.3,860.4C271.5,856.9 270.4,853.6 269.2,849.8C267.9,845.9 266.3,841.4 264.8,837.3C263.3,833.1 261.6,828.9 260.3,824.9C259.0,820.9 258.0,817.4 256.8,813.3C255.6,809.1 254.7,804.7 253.2,800.0C251.7,795.3 249.5,789.4 247.9,785.1C246.3,780.8 244.9,777.6 243.4,774.4C241.9,771.1 240.2,767.8 239.0,765.6C237.8,763.4 237.2,762.1 236.2,761.0C235.2,759.9 233.4,759.2 232.8,758.9Z" fill="#fcc69d" stroke="#fdd5b0" stroke-width="0.9"/>
<g fill="#8a777b"><circle cx="262.4" cy="867.8" r="0.88"/><ellipse cx="212.3" cy="854.0" rx="2.82" ry="1.76" transform="rotate(48 212.3 854.0)"/><ellipse cx="234.9" cy="793.3" rx="1.86" ry="1.13" transform="rotate(-13 234.9 793.3)"/><ellipse cx="222.8" cy="826.1" rx="3.01" ry="1.73" transform="rotate(23 222.8 826.1)"/><circle cx="233.6" cy="856.9" r="0.62"/><ellipse cx="238.3" cy="809.8" rx="2.56" ry="1.04" transform="rotate(-51 238.3 809.8)"/><ellipse cx="231.9" cy="782.1" rx="2.47" ry="1.27" transform="rotate(-20 231.9 782.1)"/><ellipse cx="233.9" cy="817.5" rx="2.66" ry="1.72" transform="rotate(-73 233.9 817.5)"/><ellipse cx="239.5" cy="815.7" rx="2.35" ry="1.00" transform="rotate(15 239.5 815.7)"/><circle cx="220.6" cy="833.7" r="0.85"/><circle cx="250.3" cy="828.6" r="0.92"/><circle cx="265.3" cy="857.4" r="0.74"/><circle cx="225.1" cy="821.1" r="0.99"/><ellipse cx="220.5" cy="859.4" rx="2.05" ry="1.14" transform="rotate(-30 220.5 859.4)"/><ellipse cx="240.0" cy="803.3" rx="2.70" ry="1.47" transform="rotate(-59 240.0 803.3)"/><ellipse cx="252.9" cy="824.0" rx="2.12" ry="1.22" transform="rotate(65 252.9 824.0)"/><ellipse cx="240.2" cy="824.2" rx="1.99" ry="1.12" transform="rotate(-21 240.2 824.2)"/><circle cx="246.9" cy="810.4" r="0.71"/><ellipse cx="248.1" cy="847.9" rx="2.51" ry="0.99" transform="rotate(6 248.1 847.9)"/><circle cx="206.6" cy="854.8" r="0.77"/><ellipse cx="231.4" cy="828.7" rx="2.54" ry="1.29" transform="rotate(-12 231.4 828.7)"/><circle cx="213.8" cy="862.7" r="0.96"/><ellipse cx="230.7" cy="773.9" rx="2.43" ry="1.06" transform="rotate(-6 230.7 773.9)"/><ellipse cx="207.3" cy="863.3" rx="2.58" ry="1.13" transform="rotate(-3 207.3 863.3)"/><ellipse cx="211.6" cy="844.6" rx="2.36" ry="1.17" transform="rotate(25 211.6 844.6)"/><ellipse cx="229.9" cy="787.9" rx="2.72" ry="1.74" transform="rotate(64 229.9 787.9)"/><circle cx="239.9" cy="860.2" r="0.70"/><ellipse cx="259.0" cy="838.8" rx="2.12" ry="1.22" transform="rotate(20 259.0 838.8)"/><circle cx="263.4" cy="845.9" r="0.99"/><ellipse cx="235.5" cy="834.7" rx="3.13" ry="1.69" transform="rotate(10 235.5 834.7)"/><circle cx="246.4" cy="861.1" r="0.94"/><ellipse cx="264.8" cy="852.4" rx="1.85" ry="1.27" transform="rotate(-13 264.8 852.4)"/><ellipse cx="240.8" cy="847.7" rx="2.34" ry="1.10" transform="rotate(30 240.8 847.7)"/><ellipse cx="251.5" cy="866.0" rx="3.45" ry="1.63" transform="rotate(68 251.5 866.0)"/><circle cx="254.4" cy="849.6" r="0.66"/><circle cx="229.5" cy="843.8" r="0.85"/><ellipse cx="247.4" cy="842.6" rx="1.94" ry="1.27" transform="rotate(19 247.4 842.6)"/><ellipse cx="238.8" cy="841.3" rx="2.33" ry="1.14" transform="rotate(80 238.8 841.3)"/><circle cx="199.6" cy="867.8" r="0.74"/><ellipse cx="257.6" cy="833.1" rx="2.56" ry="1.29" transform="rotate(-57 257.6 833.1)"/><ellipse cx="232.3" cy="801.9" rx="2.17" ry="1.12" transform="rotate(33 232.3 801.9)"/><circle cx="226.3" cy="832.4" r="0.99"/><circle cx="253.5" cy="861.3" r="0.85"/><circle cx="239.9" cy="853.4" r="0.83"/><ellipse cx="224.0" cy="863.8" rx="1.86" ry="1.13" transform="rotate(15 224.0 863.8)"/><ellipse cx="229.1" cy="795.4" rx="2.14" ry="1.08" transform="rotate(-68 229.1 795.4)"/></g>
<path d="M174.6,834 C177,846 179.5,858 182.2,870.8 M195.8,830.5 C193.6,844 191,857 187.7,870.8" fill="none" stroke="#c81e30" stroke-width="1.2"/>
<path d="M139.5,672.6 C134,673.5 131.5,679 129.6,684.5 C127.5,689.5 125,694 125.3,699 C125.8,703.5 129.5,706 131.5,709.5 C132.6,712 134,714 136,715 L142,700 L147,672Z" fill="url(#plq)"/>
<path d="M165,674.4 C167,673.2 168.6,673.2 171,673.8 C174,674.8 176,675 178.5,674.8 C182,674.2 185,674.4 188.3,674 C192,673.4 196,672.2 199.2,671.3 C202,670.4 205,669.6 208.2,669.4 L210,676 L186,681 L166,679Z" fill="url(#plq)"/>
<path d="M236.5,712.4 C238.6,713.6 238.8,717 238.3,720.5 C238,725 236.6,729 235,732 C234,734.6 233.4,735.6 231,736 L228,734 L233,716Z" fill="url(#plq)"/>
<path d="M145.2,752.4C144.8,751.0 143.8,747.1 143.0,744.0C142.2,740.9 141.3,737.1 140.4,733.6C139.5,730.1 138.4,726.6 137.5,723.0C136.6,719.4 135.9,715.9 135.1,712.2C134.3,708.5 133.3,704.5 132.8,701.0C132.3,697.5 132.0,694.1 132.1,690.9C132.2,687.7 132.6,684.6 133.5,682.0C134.4,679.4 135.9,676.8 137.5,675.0C139.1,673.2 141.0,672.0 143.0,671.2C145.0,670.4 147.0,670.1 149.3,670.1C151.6,670.1 154.4,670.4 157.0,671.0C159.6,671.6 162.3,673.0 165.0,674.0C167.7,675.0 170.4,676.2 173.0,676.8C175.6,677.4 177.6,677.6 180.4,677.6C183.2,677.6 186.7,677.6 190.0,677.0C193.3,676.4 196.7,675.1 200.0,674.0C203.3,672.9 206.7,671.3 210.0,670.5C213.3,669.7 216.8,669.2 219.6,669.2C222.4,669.2 224.7,669.5 227.0,670.5C229.3,671.5 231.7,673.2 233.5,675.5C235.3,677.8 237.0,680.9 238.0,684.0C239.0,687.1 239.4,690.7 239.5,694.4C239.6,698.1 239.2,702.1 238.5,706.0C237.8,709.9 236.6,714.1 235.6,717.6C234.6,721.1 233.5,724.0 232.3,727.0C231.1,730.0 229.6,732.5 228.4,735.3C227.2,738.1 226.4,740.8 225.4,744.0C224.4,747.2 223.1,752.8 222.6,754.6L218.6,754L218.6,754.0C219.1,751.7 220.6,744.5 221.6,740.0C222.6,735.5 223.8,731.2 224.8,727.0C225.8,722.8 227.1,719.0 227.8,715.0C228.5,711.0 229.0,706.2 229.0,703.3C229.0,700.4 228.8,699.4 228.0,697.5C227.2,695.6 226.0,693.6 224.5,692.0C223.0,690.4 221.0,688.9 219.0,688.0C217.0,687.1 214.7,686.6 212.4,686.4C210.1,686.2 207.9,686.3 205.0,686.6C202.1,686.9 198.2,687.8 195.0,688.3C191.8,688.8 188.3,689.3 185.8,689.6C183.3,689.9 182.6,690.3 180.0,690.3C177.4,690.3 173.3,690.0 170.0,689.5C166.7,689.0 162.8,687.9 160.0,687.5C157.2,687.1 155.0,686.8 152.9,687.0C150.8,687.2 149.1,687.8 147.5,689.0C145.9,690.2 144.5,691.9 143.5,694.0C142.5,696.1 141.7,698.6 141.3,701.6C141.0,704.6 141.1,708.1 141.4,712.0C141.8,715.9 142.5,720.3 143.4,725.0C144.3,729.7 145.7,735.5 146.6,740.0C147.5,744.5 148.4,750.0 148.8,752.0Z" fill="url(#enam)" stroke="#b4b6b9" stroke-width="0.9" stroke-linejoin="round"/>
<path d="M148.8,752.0C148.4,750.0 147.5,744.5 146.6,740.0C145.7,735.5 144.3,729.7 143.4,725.0C142.5,720.3 141.8,715.9 141.4,712.0C141.1,708.1 141.0,704.6 141.3,701.6C141.7,698.6 142.5,696.1 143.5,694.0C144.5,691.9 145.9,690.2 147.5,689.0C149.1,687.8 150.8,687.2 152.9,687.0C155.0,686.8 157.2,687.1 160.0,687.5C162.8,687.9 166.7,689.0 170.0,689.5C173.3,690.0 177.4,690.3 180.0,690.3C182.6,690.3 183.3,689.9 185.8,689.6C188.3,689.3 191.8,688.8 195.0,688.3C198.2,687.8 202.1,686.9 205.0,686.6C207.9,686.3 210.1,686.2 212.4,686.4C214.7,686.6 217.0,687.1 219.0,688.0C221.0,688.9 223.0,690.4 224.5,692.0C226.0,693.6 227.2,695.6 228.0,697.5C228.8,699.4 229.0,700.4 229.0,703.3C229.0,706.2 228.5,711.0 227.8,715.0C227.1,719.0 225.8,722.8 224.8,727.0C223.8,731.2 222.6,735.5 221.6,740.0C220.6,744.5 219.1,751.7 218.6,754.0L219.6,754.2C219.3,755.2 218.4,757.7 217.9,760.5C217.4,763.3 216.8,767.6 216.3,771.0C215.8,774.4 215.4,777.7 214.9,781.0C214.4,784.3 214.0,787.6 213.5,791.0C213.0,794.4 212.5,798.0 211.8,801.5C211.1,805.0 210.3,808.6 209.5,812.0C208.7,815.4 207.8,819.6 206.7,822.0C205.6,824.4 204.0,825.4 202.7,826.6C201.4,827.8 199.9,829.2 198.7,829.4C197.5,829.6 196.4,828.9 195.5,827.7C194.6,826.5 193.7,824.1 193.3,822.0C192.9,819.9 192.9,817.5 193.0,815.0C193.1,812.5 193.5,809.9 193.8,806.7C194.1,803.5 194.7,799.4 194.9,796.0C195.1,792.6 195.1,789.4 194.9,786.2C194.7,783.0 194.1,779.8 193.5,777.0C192.9,774.2 192.2,771.6 191.3,769.7C190.4,767.8 189.1,766.4 188.0,765.4C186.9,764.4 185.7,763.7 184.6,763.6C183.5,763.5 182.4,764.0 181.5,764.7C180.6,765.4 179.8,766.3 179.0,767.7C178.2,769.1 177.4,770.8 177.0,773.0C176.6,775.2 176.5,778.0 176.4,781.0C176.3,784.0 176.2,787.6 176.5,791.0C176.8,794.4 177.4,798.3 177.9,801.5C178.4,804.7 179.0,806.9 179.4,810.0C179.8,813.1 180.3,817.0 180.3,820.0C180.3,823.0 179.9,825.9 179.4,828.0C178.9,830.1 178.1,831.4 177.2,832.4C176.3,833.4 175.2,834.4 174.0,834.3C172.8,834.2 171.4,833.4 170.0,832.0C168.6,830.6 166.8,828.3 165.3,826.0C163.9,823.7 162.4,820.7 161.3,818.0C160.2,815.3 159.7,813.8 158.7,810.0C157.7,806.2 156.2,800.0 155.2,795.0C154.1,790.0 153.3,785.0 152.4,780.0C151.5,775.0 150.7,769.6 149.9,765.0C149.1,760.4 148.1,754.4 147.7,752.3Z" fill="#fdc39a"/>
<path d="M148.8,752.0C148.4,750.0 147.5,744.5 146.6,740.0C145.7,735.5 144.3,729.7 143.4,725.0C142.5,720.3 141.8,715.9 141.4,712.0C141.1,708.1 141.0,704.6 141.3,701.6C141.7,698.6 142.5,696.1 143.5,694.0C144.5,691.9 145.9,690.2 147.5,689.0C149.1,687.8 150.8,687.2 152.9,687.0C155.0,686.8 157.2,687.1 160.0,687.5C162.8,687.9 166.7,689.0 170.0,689.5C173.3,690.0 177.4,690.3 180.0,690.3C182.6,690.3 183.3,689.9 185.8,689.6C188.3,689.3 191.8,688.8 195.0,688.3C198.2,687.8 202.1,686.9 205.0,686.6C207.9,686.3 210.1,686.2 212.4,686.4C214.7,686.6 217.0,687.1 219.0,688.0C221.0,688.9 223.0,690.4 224.5,692.0C226.0,693.6 227.2,695.6 228.0,697.5C228.8,699.4 229.0,700.4 229.0,703.3C229.0,706.2 228.5,711.0 227.8,715.0C227.1,719.0 225.8,722.8 224.8,727.0C223.8,731.2 222.6,735.5 221.6,740.0C220.6,744.5 219.1,751.7 218.6,754.0" fill="none" stroke="#b0b2b5" stroke-width="0.9"/>
<path d="M174.0,834.3C174.5,834.0 176.3,833.4 177.2,832.4C178.1,831.4 178.9,830.1 179.4,828.0C179.9,825.9 180.3,823.0 180.3,820.0C180.3,817.0 179.8,813.1 179.4,810.0C179.0,806.9 178.4,804.7 177.9,801.5C177.4,798.3 176.8,794.4 176.5,791.0C176.2,787.6 176.3,784.0 176.4,781.0C176.5,778.0 176.6,775.2 177.0,773.0C177.4,770.8 178.2,769.1 179.0,767.7C179.8,766.3 180.6,765.4 181.5,764.7C182.4,764.0 183.5,763.5 184.6,763.6C185.7,763.7 186.9,764.4 188.0,765.4C189.1,766.4 190.4,767.8 191.3,769.7C192.2,771.6 192.9,774.2 193.5,777.0C194.1,779.8 194.7,783.0 194.9,786.2C195.1,789.4 195.1,792.6 194.9,796.0C194.7,799.4 194.1,803.5 193.8,806.7C193.5,809.9 193.1,812.5 193.0,815.0C192.9,817.5 192.9,819.9 193.3,822.0C193.7,824.1 194.6,826.5 195.5,827.7C196.4,828.9 198.2,829.1 198.7,829.4L186,845Z" fill="#c5525f"/>
<path d="M147.7,752.3C148.1,754.4 149.1,760.4 149.9,765.0C150.7,769.6 151.5,775.0 152.4,780.0C153.3,785.0 154.1,790.0 155.2,795.0C156.2,800.0 157.7,806.2 158.7,810.0C159.7,813.8 160.2,815.3 161.3,818.0C162.4,820.7 163.9,823.7 165.3,826.0C166.8,828.3 168.6,830.6 170.0,832.0C171.4,833.4 172.8,834.2 174.0,834.3C175.2,834.4 176.3,833.4 177.2,832.4C178.1,831.4 178.9,830.1 179.4,828.0C179.9,825.9 180.3,823.0 180.3,820.0C180.3,817.0 179.8,813.1 179.4,810.0C179.0,806.9 178.4,804.7 177.9,801.5C177.4,798.3 176.8,794.4 176.5,791.0C176.2,787.6 176.3,784.0 176.4,781.0C176.5,778.0 176.6,775.2 177.0,773.0C177.4,770.8 178.2,769.1 179.0,767.7C179.8,766.3 180.6,765.4 181.5,764.7C182.4,764.0 183.5,763.5 184.6,763.6C185.7,763.7 186.9,764.4 188.0,765.4C189.1,766.4 190.4,767.8 191.3,769.7C192.2,771.6 192.9,774.2 193.5,777.0C194.1,779.8 194.7,783.0 194.9,786.2C195.1,789.4 195.1,792.6 194.9,796.0C194.7,799.4 194.1,803.5 193.8,806.7C193.5,809.9 193.1,812.5 193.0,815.0C192.9,817.5 192.9,819.9 193.3,822.0C193.7,824.1 194.6,826.5 195.5,827.7C196.4,828.9 197.5,829.6 198.7,829.4C199.9,829.2 201.4,827.8 202.7,826.6C204.0,825.4 205.6,824.4 206.7,822.0C207.8,819.6 208.7,815.4 209.5,812.0C210.3,808.6 211.1,805.0 211.8,801.5C212.5,798.0 213.0,794.4 213.5,791.0C214.0,787.6 214.4,784.3 214.9,781.0C215.4,777.7 215.8,774.4 216.3,771.0C216.8,767.6 217.4,763.3 217.9,760.5C218.4,757.7 219.3,755.2 219.6,754.2" fill="none" stroke="#9c9ea1" stroke-width="3.6" stroke-linejoin="round" stroke-linecap="butt"/>
<path d="M147.7,752.3C148.1,754.4 149.1,760.4 149.9,765.0C150.7,769.6 151.5,775.0 152.4,780.0C153.3,785.0 154.1,790.0 155.2,795.0C156.2,800.0 157.7,806.2 158.7,810.0C159.7,813.8 160.2,815.3 161.3,818.0C162.4,820.7 163.9,823.7 165.3,826.0C166.8,828.3 168.6,830.6 170.0,832.0C171.4,833.4 172.8,834.2 174.0,834.3C175.2,834.4 176.3,833.4 177.2,832.4C178.1,831.4 178.9,830.1 179.4,828.0C179.9,825.9 180.3,823.0 180.3,820.0C180.3,817.0 179.8,813.1 179.4,810.0C179.0,806.9 178.4,804.7 177.9,801.5C177.4,798.3 176.8,794.4 176.5,791.0C176.2,787.6 176.3,784.0 176.4,781.0C176.5,778.0 176.6,775.2 177.0,773.0C177.4,770.8 178.2,769.1 179.0,767.7C179.8,766.3 180.6,765.4 181.5,764.7C182.4,764.0 183.5,763.5 184.6,763.6C185.7,763.7 186.9,764.4 188.0,765.4C189.1,766.4 190.4,767.8 191.3,769.7C192.2,771.6 192.9,774.2 193.5,777.0C194.1,779.8 194.7,783.0 194.9,786.2C195.1,789.4 195.1,792.6 194.9,796.0C194.7,799.4 194.1,803.5 193.8,806.7C193.5,809.9 193.1,812.5 193.0,815.0C192.9,817.5 192.9,819.9 193.3,822.0C193.7,824.1 194.6,826.5 195.5,827.7C196.4,828.9 197.5,829.6 198.7,829.4C199.9,829.2 201.4,827.8 202.7,826.6C204.0,825.4 205.6,824.4 206.7,822.0C207.8,819.6 208.7,815.4 209.5,812.0C210.3,808.6 211.1,805.0 211.8,801.5C212.5,798.0 213.0,794.4 213.5,791.0C214.0,787.6 214.4,784.3 214.9,781.0C215.4,777.7 215.8,774.4 216.3,771.0C216.8,767.6 217.4,763.3 217.9,760.5C218.4,757.7 219.3,755.2 219.6,754.2" fill="none" stroke="#bcbec1" stroke-width="1.7" stroke-linejoin="round" stroke-linecap="butt"/>
<path d="M156.6,716.5C156.5,714.3 156.9,714.1 157.6,713.6C158.3,713.1 158.9,712.9 161.0,713.2C163.1,713.5 166.5,714.7 170.0,715.2C173.5,715.7 178.0,716.2 182.2,716.1C186.4,716.0 191.4,715.1 195.0,714.5C198.6,713.9 201.9,712.6 204.0,712.4C206.1,712.1 206.9,712.3 207.8,713.0C208.7,713.7 209.0,715.0 209.2,716.5C209.4,718.0 209.2,719.8 209.0,722.0C208.8,724.2 208.3,727.0 208.0,730.0C207.7,733.0 207.3,736.4 207.0,740.0C206.7,743.6 206.4,747.6 206.0,751.7C205.6,755.9 205.2,761.0 204.8,764.9C204.4,768.8 203.9,772.0 203.6,775.0C203.3,778.0 203.4,778.6 203.0,783.0C202.6,787.4 202.0,796.2 201.4,801.5C200.8,806.8 199.9,810.7 199.2,815.0C198.5,819.3 197.6,827.2 197.4,827.2C197.2,827.2 197.9,819.3 198.3,815.0C198.7,810.7 199.4,806.3 199.6,801.5C199.8,796.7 199.6,791.5 199.2,786.2C198.8,781.0 198.0,775.2 197.3,770.0C196.6,764.8 196.2,758.9 195.2,755.0C194.1,751.1 192.8,748.6 191.0,746.6C189.2,744.6 186.5,743.1 184.1,743.1C181.7,743.1 178.8,744.4 176.5,746.4C174.2,748.4 171.8,752.2 170.6,755.4C169.3,758.6 169.4,762.3 169.0,765.6C168.6,768.9 168.2,770.9 168.0,775.0C167.8,779.1 167.4,785.0 167.6,790.0C167.8,795.0 168.4,798.0 169.4,805.0C170.4,812.0 174.1,832.9 173.8,832.3C173.5,831.7 169.4,811.8 167.8,801.5C166.2,791.2 165.1,779.7 164.1,770.8C163.1,761.9 162.5,753.3 162.0,748.0C161.5,742.7 161.5,742.4 160.9,738.9C160.3,735.4 159.1,730.7 158.4,727.0C157.7,723.3 156.7,718.7 156.6,716.5Z" fill="url(#pulp0)" stroke="#e6705e" stroke-width="1.1" stroke-opacity="0.75"/>
<path d="M160.8,675.6C160.9,675.2 160.7,673.5 161.3,673.3C161.9,673.1 163.3,673.8 164.6,674.4C165.9,675.0 167.2,676.1 169.1,676.7C171.0,677.4 173.6,677.9 175.8,678.3C178.0,678.7 180.2,679.0 182.4,678.9C184.6,678.8 186.5,678.3 189.1,677.8C191.7,677.2 195.4,676.2 198.0,675.6C200.6,675.0 202.6,674.6 204.6,673.9C206.6,673.1 209.3,671.6 210.2,671.1L211.3,677.8C210.2,678.2 206.8,679.4 204.6,680.0C202.4,680.6 200.0,681.2 198.0,681.7C196.0,682.2 194.2,682.2 192.4,682.8C190.6,683.3 188.6,684.5 186.9,685.0C185.2,685.5 183.9,685.8 182.4,685.8C180.9,685.8 179.5,685.2 178.0,684.7C176.5,684.2 175.2,683.5 173.5,682.8C171.8,682.1 169.8,681.4 168.0,680.6C166.2,679.9 164.2,679.1 163.0,678.3C161.8,677.5 161.2,676.0 160.8,675.6Z" fill="#3b1f18"/>
<g fill="none" stroke="#14090a" stroke-width="1.05" stroke-linecap="round"><path d="M181.1,870.8 C178.5,858 176,845 174,833.8 C170.5,820 168,805 166.9,791.1 C165,777 163.6,765 163.6,750.1 C163.6,743 163.2,736 162.8,730.7 C162,726 160.6,721.5 159.3,717.4"/><path d="M188.8,870.8 C191.5,857 194,843 196.2,830.2 C198.5,820 200,810 200.7,800 C201.8,790 202.2,778 201.3,764.9 C200.6,760 200,756 199.8,751.7 C199.8,747.5 200.2,744 200.5,740 C201,736 201.5,732 201.3,728.3 C201,725.5 200.6,723 199.8,720.6 C199,718.6 198,717.4 196.7,716.7 C195.2,716 193.6,715.6 192,715.5"/><path d="M163.6,750.1 C166.5,746.5 169.8,743 173.3,740 C176,737.8 178.8,736 181.1,734.5 C182,733.8 182.8,733 183.4,732.2"/><path d="M164,743.9 C166.8,741.5 169.5,739 171.8,736.1 C173.6,733.6 174.8,731 175.7,728.3 C176.6,726 177.6,724 178.8,722.1 C180,720.2 181.3,718.6 182.7,717.4"/><path d="M162.8,730.7 C162.6,726 162.2,721.5 161.7,717"/><path d="M164,728.5 C164.8,725 165.3,721.6 165.6,718.2"/><path d="M165.2,736.5 C166.6,733 167.8,728.5 168.7,724 C169.2,722.4 169.9,721 170.6,719.8"/><path d="M171.8,736.1 C173.6,736.2 175.4,735.8 177,735 M169.6,738.6 C170.6,735.6 171,733 171,730.2 C171.2,728 171.8,726 172.8,724.4"/><path d="M175.7,728.3 C174.6,726.4 173.4,724.2 172.4,722.2 M175.2,730 C177,729 178.6,727.6 180,726 M177.6,724.2 C176.8,722.6 176.4,721 176.4,719.4"/><path d="M173.3,740 C174.6,741.2 176.2,741.8 178,741.8 M178.4,736 C180,734 181,732 181.6,729.8 M166.5,746.6 C168.4,746.8 170.2,746.4 172,745.6"/><path d="M178.8,722.1 C180.4,722.4 182,722 183.2,721 M168.7,724 C168,722.2 167.8,720.4 168,718.6"/><path d="M199.8,751.7 C198.4,749.8 196.8,748.2 195.1,747 C193.4,745.4 191.8,743.4 190.4,741.5 C189,740.2 187.4,739.2 185.8,738.4"/><path d="M200.5,740 C198.2,738.2 195.8,736.6 193.5,735.3 C191.8,734.2 190.2,732.8 188.9,731.4"/><path d="M201,728.3 C198.6,727.4 196,727 193.5,726.8 C191.2,726.6 188.8,726.8 186.5,727.2"/><path d="M199,720.6 C196.8,719.8 194.4,719.6 192,719.8 C190.2,719.8 188.2,720.2 186.5,720.6"/><path d="M200.5,741.5 C202.2,740 203.6,738.2 204.4,736.1 C205,734.8 205.2,733.5 205.2,732.2"/><path d="M202.9,726.8 C204.4,725 205.2,722.8 205.2,720.6 C205,718 203.2,715.6 200.5,714.3"/><path d="M195.1,747 C195.4,744.8 195,742.8 194,741 M193.5,735.3 C191.6,735.6 189.8,735.4 188,734.6 M196.4,737.4 C196,735 196.2,733 197,731"/><path d="M193.5,726.8 C192.4,725.4 191,724.4 189.4,723.8 M196,727 C195,729 193.4,730.4 191.4,731 M192,719.8 C191,718.4 189.6,717.6 188,717.4 M197,754.6 C198.4,756.6 199.4,758.8 200,761"/></g>
</g>
<g transform="translate(494,0)">
<path d="M78.9,870.8C79.0,869.4 79.3,865.1 79.6,862.2C79.9,859.3 80.3,856.3 80.8,853.3C81.3,850.3 81.8,847.3 82.4,844.4C83.0,841.5 83.7,838.5 84.4,835.6C85.2,832.7 86.0,829.7 86.9,826.7C87.8,823.7 88.9,820.8 90.0,817.8C91.1,814.8 92.2,811.8 93.3,808.9C94.4,806.0 95.6,803.3 96.8,800.5C98.0,797.7 99.3,795.1 100.6,792.2C101.9,789.3 103.2,786.3 104.6,783.3C106.0,780.3 107.5,777.3 109.0,774.4C110.5,771.5 112.0,768.5 113.6,765.6C115.2,762.7 117.0,759.7 118.6,756.7C120.2,753.7 121.9,750.3 123.4,747.8C125.0,745.3 126.5,743.2 127.9,741.6C129.3,740.0 130.4,738.9 131.9,738.0C133.4,737.1 135.3,736.1 136.8,736.0C138.3,735.9 139.7,736.1 140.8,737.1C141.9,738.1 142.6,739.7 143.5,742.0C144.4,744.3 145.6,749.5 146.0,751.0L222.0,753.0C222.5,752.2 223.9,749.8 225.0,748.5C226.1,747.2 227.2,745.8 228.5,745.0C229.8,744.2 231.2,743.5 233.0,743.5C234.8,743.5 237.1,744.1 239.0,745.0C240.9,745.9 243.0,747.3 244.6,748.7C246.2,750.1 247.3,751.8 248.6,753.6C249.9,755.4 250.9,757.2 252.2,759.4C253.5,761.5 255.0,764.0 256.4,766.5C257.8,769.0 259.0,771.5 260.3,774.2C261.6,777.0 262.9,780.0 264.0,783.0C265.1,786.0 266.2,789.0 267.2,792.2C268.2,795.4 269.3,798.7 270.2,802.0C271.1,805.3 271.8,808.4 272.8,811.9C273.8,815.4 275.1,819.2 276.2,823.0C277.3,826.8 278.7,831.1 279.7,834.9C280.7,838.7 281.6,842.4 282.4,846.0C283.2,849.6 284.0,852.2 284.7,856.3C285.4,860.4 286.3,868.4 286.6,870.8Z" fill="url(#gumO)" stroke="#e4587a" stroke-width="1.2" stroke-linejoin="round"/>
<path d="M222.0,753.0C222.5,752.2 223.9,749.8 225.0,748.5C226.1,747.2 227.2,745.8 228.5,745.0C229.8,744.2 231.2,743.5 233.0,743.5C234.8,743.5 237.1,744.1 239.0,745.0C240.9,745.9 243.0,747.3 244.6,748.7C246.2,750.1 247.3,751.8 248.6,753.6C249.9,755.4 250.9,757.2 252.2,759.4C253.5,761.5 255.0,764.0 256.4,766.5C257.8,769.0 259.0,771.5 260.3,774.2C261.6,777.0 262.9,780.0 264.0,783.0C265.1,786.0 266.2,789.0 267.2,792.2C268.2,795.4 269.3,798.7 270.2,802.0C271.1,805.3 271.8,808.4 272.8,811.9C273.8,815.4 275.1,819.2 276.2,823.0C277.3,826.8 278.7,831.1 279.7,834.9C280.7,838.7 281.6,842.4 282.4,846.0C283.2,849.6 284.0,852.2 284.7,856.3C285.4,860.4 286.3,868.4 286.6,870.8L222,870.8Z" fill="url(#gumInfl)" stroke="#dc3858" stroke-width="1.2"/>
<clipPath id="gclip2"><rect x="70" y="700" width="230" height="170.8"/></clipPath>
<path d="M84.2,870.7C84.4,868.8 91.8,871.7 92.2,867.4C92.6,862.4 84.9,862.2 85.2,860.0C85.4,858.1 92.5,860.7 93.2,856.3C94.0,851.4 86.6,850.7 87.0,848.5C87.3,846.7 94.0,849.7 94.9,845.5C95.9,840.8 88.8,839.7 89.3,837.7C89.7,835.9 96.0,839.2 97.1,835.2C98.4,830.8 91.6,829.3 92.2,827.4C92.7,825.7 98.6,829.3 99.9,825.6C101.4,821.3 95.0,819.4 95.7,817.4C96.3,815.9 101.8,819.5 103.2,815.9C104.7,811.8 98.5,809.8 99.3,808.0C99.9,806.5 105.1,810.3 106.5,806.9C108.2,803.0 102.4,800.8 103.1,799.1C103.8,797.7 108.8,801.4 110.3,798.1C112.0,794.3 106.4,792.0 107.1,790.3C107.7,788.9 112.5,792.6 113.9,789.5C115.6,785.8 110.2,783.6 110.9,782.1C111.6,780.8 116.1,784.5 117.5,781.5C119.3,778.0 114.1,775.7 114.9,774.2C115.6,772.9 119.8,776.6 121.3,773.8C123.0,770.5 118.1,768.1 118.9,766.7C119.5,765.5 123.5,769.3 125.0,766.6C126.9,763.3 122.2,760.9 123.0,759.4C123.6,758.3 127.6,761.7 129.0,759.0C130.7,755.9 126.0,753.7 126.7,752.3C127.3,751.2 130.7,755.1 132.2,752.8C133.9,750.0 129.7,747.6 130.5,746.5C131.2,745.6 133.7,749.9 135.5,748.0C137.4,745.9 133.6,743.0 134.6,742.3C139,744 142,747 144.5,751 L150,757 L186,760 L221,757 L224,755 C225.5,747 227,745 234.6,748.6L234.6,748.6C235.5,748.8 235.2,750.9 236.9,751.7C238.3,752.5 239.5,750.7 240.0,751.2C240.7,751.7 239.6,753.6 240.9,755.1C242.1,756.5 244.0,755.5 244.5,756.2C245.1,757.1 243.5,759.0 244.8,761.1C245.9,763.0 248.2,762.3 248.7,763.1C249.3,764.1 247.7,766.1 249.0,768.3C250.1,770.1 252.3,769.4 252.7,770.2C253.3,771.2 251.5,773.1 252.7,775.5C253.6,777.4 255.9,776.8 256.3,777.7C256.8,778.8 254.9,780.6 255.9,783.1C256.7,785.1 259.1,784.7 259.5,785.6C259.9,786.7 257.8,788.5 258.7,791.1C259.4,793.2 262.0,793.0 262.3,793.9C262.6,795.1 260.5,796.8 261.3,799.5C262.0,801.7 264.5,801.5 264.8,802.5C265.2,803.7 262.9,805.3 263.6,808.0C264.2,810.4 266.8,810.4 267.1,811.4C267.4,812.7 265.1,814.5 266.0,817.5C266.7,819.8 269.5,819.6 269.8,820.7C270.2,822.0 267.8,823.7 268.7,826.6C269.4,829.0 272.2,828.8 272.5,829.9C272.9,831.1 270.5,832.9 271.3,835.8C271.9,838.2 274.7,838.0 275.0,839.1C275.3,840.4 272.7,842.0 273.4,845.0C274.0,847.6 276.9,847.6 277.2,848.7C277.5,850.1 274.9,851.7 275.6,854.7C276.1,857.1 279.0,857.1 279.1,858.2C279.4,859.6 276.5,861.0 276.9,864.1C277.3,866.8 280.2,867.0 280.4,868.2C280.5,869.3 277.5,869.8 277.8,872.2L277.8,876L84.2,876Z" fill="#c4525d" stroke="#e25f7c" stroke-width="0.6" clip-path="url(#gclip2)"/>
<path d="M234.6,748.6C235.5,748.8 235.2,750.9 236.9,751.7C238.3,752.5 239.5,750.7 240.0,751.2C240.7,751.7 239.6,753.6 240.9,755.1C242.1,756.5 244.0,755.5 244.5,756.2C245.1,757.1 243.5,759.0 244.8,761.1C245.9,763.0 248.2,762.3 248.7,763.1C249.3,764.1 247.7,766.1 249.0,768.3C250.1,770.1 252.3,769.4 252.7,770.2C253.3,771.2 251.5,773.1 252.7,775.5C253.6,777.4 255.9,776.8 256.3,777.7C256.8,778.8 254.9,780.6 255.9,783.1C256.7,785.1 259.1,784.7 259.5,785.6C259.9,786.7 257.8,788.5 258.7,791.1C259.4,793.2 262.0,793.0 262.3,793.9C262.6,795.1 260.5,796.8 261.3,799.5C262.0,801.7 264.5,801.5 264.8,802.5C265.2,803.7 262.9,805.3 263.6,808.0C264.2,810.4 266.8,810.4 267.1,811.4C267.4,812.7 265.1,814.5 266.0,817.5C266.7,819.8 269.5,819.6 269.8,820.7C270.2,822.0 267.8,823.7 268.7,826.6C269.4,829.0 272.2,828.8 272.5,829.9C272.9,831.1 270.5,832.9 271.3,835.8C271.9,838.2 274.7,838.0 275.0,839.1C275.3,840.4 272.7,842.0 273.4,845.0C274.0,847.6 276.9,847.6 277.2,848.7C277.5,850.1 274.9,851.7 275.6,854.7C276.1,857.1 279.0,857.1 279.1,858.2C279.4,859.6 276.5,861.0 276.9,864.1C277.3,866.8 280.2,867.0 280.4,868.2C280.5,869.3 277.5,869.8 277.8,872.2" fill="none" stroke="#f2869a" stroke-width="1.2" clip-path="url(#gclip2)"/>
<path d="M133.2,762.0C132.7,762.2 131.1,762.6 130.2,763.2C129.3,763.8 128.6,763.4 127.6,765.4C126.6,767.4 125.2,771.7 124.0,775.0C122.8,778.3 121.5,781.7 120.2,785.0C119.0,788.3 117.6,791.7 116.5,795.0C115.4,798.3 114.4,801.7 113.5,805.0C112.6,808.3 111.7,811.7 110.9,815.0C110.1,818.3 109.3,821.7 108.6,825.0C107.8,828.3 107.1,831.7 106.4,835.0C105.7,838.3 105.0,841.2 104.3,845.0C103.6,848.8 103.0,853.7 102.4,858.0C101.8,862.3 101.0,868.7 100.7,870.8L171.1,870.8L171.1,870.8C170.7,869.2 169.7,864.4 168.6,861.2C167.5,858.0 166.0,854.7 164.5,851.4C163.0,848.1 161.5,844.8 159.6,841.5C157.7,838.2 155.2,835.0 153.0,831.7C150.8,828.4 148.1,825.4 146.5,821.8C144.9,818.2 144.2,814.9 143.2,810.3C142.2,805.6 141.4,799.1 140.7,793.9C140.0,788.7 139.3,783.3 138.8,779.0C138.3,774.7 138.2,770.6 137.8,768.0C137.4,765.4 137.0,764.2 136.2,763.2C135.4,762.2 133.7,762.2 133.2,762.0Z" fill="#fcc69d" stroke="#fdd5b0" stroke-width="0.9"/>
<g fill="#8a777b"><circle cx="116.3" cy="816.7" r="0.88"/><ellipse cx="130.4" cy="822.1" rx="1.85" ry="1.21" transform="rotate(-23 130.4 822.1)"/><ellipse cx="142.2" cy="835.7" rx="2.09" ry="1.20" transform="rotate(75 142.2 835.7)"/><ellipse cx="126.7" cy="827.7" rx="1.87" ry="1.09" transform="rotate(-30 126.7 827.7)"/><circle cx="132.2" cy="834.3" r="0.73"/><circle cx="141.0" cy="851.0" r="0.72"/><ellipse cx="122.2" cy="846.9" rx="1.89" ry="1.21" transform="rotate(-39 122.2 846.9)"/><circle cx="150.5" cy="851.7" r="0.97"/><circle cx="142.4" cy="862.7" r="0.62"/><ellipse cx="130.0" cy="776.2" rx="3.57" ry="1.70" transform="rotate(30 130.0 776.2)"/><circle cx="125.1" cy="865.4" r="0.63"/><ellipse cx="133.5" cy="792.4" rx="2.82" ry="1.35" transform="rotate(72 133.5 792.4)"/><ellipse cx="124.8" cy="857.7" rx="3.29" ry="1.51" transform="rotate(63 124.8 857.7)"/><ellipse cx="121.5" cy="812.4" rx="2.24" ry="1.23" transform="rotate(9 121.5 812.4)"/><circle cx="140.3" cy="824.8" r="0.79"/><circle cx="132.4" cy="841.4" r="0.91"/><circle cx="110.7" cy="855.4" r="0.67"/><circle cx="132.3" cy="813.6" r="0.79"/><circle cx="123.2" cy="806.8" r="0.74"/><circle cx="131.8" cy="854.5" r="0.70"/><circle cx="128.6" cy="837.7" r="0.97"/><circle cx="143.1" cy="829.5" r="0.64"/><ellipse cx="130.7" cy="803.7" rx="2.49" ry="1.07" transform="rotate(5 130.7 803.7)"/><circle cx="153.1" cy="860.8" r="0.99"/><ellipse cx="127.5" cy="846.6" rx="3.00" ry="1.66" transform="rotate(-74 127.5 846.6)"/><ellipse cx="165.4" cy="866.0" rx="1.85" ry="1.24" transform="rotate(-11 165.4 866.0)"/><circle cx="128.3" cy="809.9" r="0.76"/><circle cx="150.6" cy="836.7" r="0.84"/><ellipse cx="144.4" cy="844.4" rx="1.96" ry="1.04" transform="rotate(5 144.4 844.4)"/><ellipse cx="120.7" cy="820.3" rx="2.04" ry="1.29" transform="rotate(47 120.7 820.3)"/><ellipse cx="111.5" cy="838.6" rx="2.71" ry="1.76" transform="rotate(27 111.5 838.6)"/><ellipse cx="119.9" cy="827.7" rx="3.48" ry="1.40" transform="rotate(23 119.9 827.7)"/><circle cx="152.4" cy="842.6" r="0.67"/><circle cx="110.5" cy="848.7" r="0.80"/><circle cx="136.5" cy="807.6" r="0.99"/><ellipse cx="118.1" cy="808.7" rx="2.76" ry="1.58" transform="rotate(-6 118.1 808.7)"/><circle cx="134.5" cy="848.3" r="0.75"/><ellipse cx="116.7" cy="866.4" rx="2.00" ry="0.94" transform="rotate(62 116.7 866.4)"/><ellipse cx="118.7" cy="860.9" rx="3.58" ry="1.79" transform="rotate(30 118.7 860.9)"/><ellipse cx="125.7" cy="783.5" rx="2.26" ry="1.20" transform="rotate(-27 125.7 783.5)"/><ellipse cx="112.8" cy="831.4" rx="1.89" ry="0.98" transform="rotate(46 112.8 831.4)"/><circle cx="117.6" cy="833.8" r="0.63"/><ellipse cx="135.7" cy="821.7" rx="2.65" ry="1.63" transform="rotate(-73 135.7 821.7)"/><ellipse cx="156.6" cy="853.1" rx="2.58" ry="1.15" transform="rotate(-30 156.6 853.1)"/><ellipse cx="133.0" cy="860.1" rx="2.38" ry="0.98" transform="rotate(9 133.0 860.1)"/><circle cx="114.5" cy="823.4" r="0.88"/></g>
<path d="M231.3,759.4C230.9,759.7 229.3,760.4 228.6,761.2C227.8,762.0 227.3,762.2 226.8,764.4C226.3,766.6 226.2,770.5 225.7,774.4C225.2,778.3 224.4,783.5 223.9,787.8C223.4,792.1 223.1,796.5 222.6,800.0C222.1,803.5 221.9,805.2 221.2,808.9C220.5,812.6 219.6,818.5 218.6,822.2C217.6,825.9 216.7,828.1 215.0,831.1C213.3,834.1 210.8,836.9 208.5,840.0C206.2,843.1 203.0,846.2 201.0,849.5C199.0,852.8 197.7,856.5 196.5,860.0C195.3,863.5 194.5,869.0 194.1,870.8L274.2,870.8L274.2,870.8C273.8,867.8 272.7,859.0 271.6,853.0C270.5,847.0 269.1,839.9 267.8,834.9C266.5,829.9 265.2,826.8 263.8,823.0C262.4,819.2 261.1,816.1 259.5,811.9C257.9,807.7 255.9,802.4 254.0,798.0C252.1,793.6 249.9,789.7 248.0,785.7C246.1,781.7 244.3,777.4 242.6,774.0C240.9,770.6 238.9,767.7 237.6,765.6C236.3,763.5 235.6,762.4 234.6,761.4C233.6,760.4 231.9,759.7 231.3,759.4Z" fill="#fcc69d" stroke="#fdd5b0" stroke-width="0.9"/>
<g fill="#8a777b"><ellipse cx="224.3" cy="860.7" rx="3.47" ry="1.62" transform="rotate(-46 224.3 860.7)"/><circle cx="228.1" cy="828.1" r="0.93"/><ellipse cx="235.1" cy="848.0" rx="1.94" ry="1.04" transform="rotate(52 235.1 848.0)"/><ellipse cx="231.7" cy="781.4" rx="2.70" ry="1.59" transform="rotate(22 231.7 781.4)"/><circle cx="207.9" cy="850.2" r="0.82"/><ellipse cx="229.0" cy="819.0" rx="1.85" ry="1.23" transform="rotate(-3 229.0 819.0)"/><ellipse cx="226.8" cy="849.9" rx="2.18" ry="0.99" transform="rotate(-7 226.8 849.9)"/><circle cx="243.6" cy="805.2" r="0.64"/><ellipse cx="248.9" cy="856.4" rx="1.92" ry="1.28" transform="rotate(-45 248.9 856.4)"/><ellipse cx="239.9" cy="831.0" rx="2.04" ry="1.10" transform="rotate(-8 239.9 831.0)"/><ellipse cx="230.7" cy="837.1" rx="2.59" ry="0.94" transform="rotate(-23 230.7 837.1)"/><ellipse cx="254.6" cy="811.6" rx="3.17" ry="1.61" transform="rotate(33 254.6 811.6)"/><ellipse cx="235.7" cy="787.2" rx="3.54" ry="1.61" transform="rotate(-37 235.7 787.2)"/><circle cx="241.7" cy="838.4" r="0.94"/><circle cx="251.6" cy="838.0" r="0.72"/><circle cx="216.0" cy="854.1" r="0.81"/><circle cx="253.7" cy="866.0" r="0.62"/><ellipse cx="233.2" cy="806.1" rx="2.05" ry="1.27" transform="rotate(-32 233.2 806.1)"/><circle cx="240.8" cy="821.6" r="0.87"/><ellipse cx="219.2" cy="858.4" rx="2.65" ry="1.73" transform="rotate(65 219.2 858.4)"/><circle cx="263.4" cy="850.0" r="0.90"/><ellipse cx="200.9" cy="862.7" rx="2.12" ry="1.15" transform="rotate(-51 200.9 862.7)"/><circle cx="248.2" cy="808.6" r="0.99"/><circle cx="243.2" cy="860.6" r="0.92"/><ellipse cx="232.4" cy="812.6" rx="3.47" ry="1.53" transform="rotate(-70 232.4 812.6)"/><circle cx="215.0" cy="847.9" r="0.61"/><ellipse cx="233.6" cy="795.5" rx="2.51" ry="1.07" transform="rotate(-37 233.6 795.5)"/><ellipse cx="245.5" cy="831.9" rx="3.58" ry="1.56" transform="rotate(70 245.5 831.9)"/><ellipse cx="254.8" cy="817.0" rx="2.86" ry="1.74" transform="rotate(-77 254.8 817.0)"/><ellipse cx="229.4" cy="798.3" rx="3.48" ry="1.57" transform="rotate(-12 229.4 798.3)"/><circle cx="263.6" cy="859.4" r="0.94"/><circle cx="236.5" cy="774.7" r="0.96"/><ellipse cx="216.1" cy="838.5" rx="2.17" ry="1.12" transform="rotate(-61 216.1 838.5)"/><ellipse cx="252.2" cy="805.5" rx="2.62" ry="1.74" transform="rotate(49 252.2 805.5)"/><ellipse cx="222.5" cy="829.4" rx="3.24" ry="1.64" transform="rotate(30 222.5 829.4)"/><circle cx="211.9" cy="862.2" r="0.79"/><circle cx="221.4" cy="852.2" r="0.84"/><ellipse cx="264.7" cy="865.8" rx="2.36" ry="0.94" transform="rotate(53 264.7 865.8)"/><circle cx="246.5" cy="846.5" r="0.68"/><circle cx="206.7" cy="864.8" r="0.98"/><ellipse cx="260.3" cy="835.7" rx="2.53" ry="0.91" transform="rotate(-1 260.3 835.7)"/><circle cx="236.1" cy="861.1" r="0.95"/><ellipse cx="242.1" cy="851.0" rx="2.13" ry="1.28" transform="rotate(30 242.1 851.0)"/><ellipse cx="238.2" cy="812.4" rx="1.84" ry="1.13" transform="rotate(-75 238.2 812.4)"/><circle cx="208.7" cy="855.4" r="0.65"/><ellipse cx="248.1" cy="799.2" rx="2.61" ry="1.34" transform="rotate(36 248.1 799.2)"/></g>
<path d="M174.6,834 C177,846 179.5,858 182.2,870.8 M195.8,830.5 C193.6,844 191,857 187.7,870.8" fill="none" stroke="#c81e30" stroke-width="1.2"/>
<path d="M160.8,823.5 C159.4,821.8 158.4,820.8 158.8,819 C159.6,817.6 161.6,818 162.4,819.6 C163.8,820.6 165.4,822 166,824.4 C167.8,826.4 170.4,829 171.4,832 C172.4,835.6 171.6,839 169,840.6 C166,841.4 163.4,839.6 162.6,836.6 C161.4,834 159.4,832.4 158.6,829.6 C158,827.2 159,825 160.8,823.5Z" fill="#a9835a"/>
<path d="M141,672.5 C135,672.4 131,677 128,683 C124.5,687 121.8,691 121.8,695.5 C121.8,699 123.8,701.6 123.4,704.6 C122.6,708 122.4,711 124.6,714.6 C126.6,718.4 129.4,721.6 132.8,723.4 C134.8,724.4 136.6,724.4 138,723.6 L146,700 L150,672Z" fill="url(#plq)"/>
<path d="M166.5,673.8 C172,671.4 180,672 188,672.2 C196,672.4 203,671 209.4,670.4 L210,676 L186,681 L166,679Z" fill="url(#plq)"/>
<path d="M235.2,712.5 C238.4,714 240,717 239.6,720.4 C239.4,724 238.8,727 238.4,730 C237.6,734.6 236,738.6 234.2,741.8 C232,746 229.6,749.6 227.6,750.8 C226,752.2 224.4,752.6 223.4,752.4 L226,735 L232,714Z" fill="url(#plq)"/>
<path d="M147.9,752.4C147.5,751.0 146.5,747.1 145.8,744.0C145.0,740.9 144.2,737.1 143.4,733.6C142.5,730.1 141.5,726.6 140.7,723.0C139.8,719.4 139.1,715.9 138.4,712.2C137.7,708.5 136.7,704.5 136.3,701.0C135.8,697.5 135.5,694.1 135.6,690.9C135.7,687.7 136.1,684.6 136.9,682.0C137.8,679.4 139.2,676.8 140.7,675.0C142.1,673.2 144.0,672.0 145.8,671.2C147.6,670.4 149.5,670.1 151.7,670.1C153.9,670.1 156.4,670.4 158.9,671.0C161.3,671.6 163.9,673.0 166.4,674.0C168.9,675.0 171.4,676.2 173.8,676.8C176.2,677.4 178.1,677.6 180.8,677.6C183.5,677.6 186.8,677.6 190.0,677.0C193.2,676.4 196.7,675.1 200.0,674.0C203.3,672.9 206.7,671.3 210.0,670.5C213.3,669.7 216.8,669.2 219.6,669.2C222.4,669.2 224.7,669.5 227.0,670.5C229.3,671.5 231.7,673.2 233.5,675.5C235.3,677.8 237.0,680.9 238.0,684.0C239.0,687.1 239.4,690.7 239.5,694.4C239.6,698.1 239.2,702.1 238.5,706.0C237.8,709.9 236.6,714.1 235.6,717.6C234.6,721.1 233.5,724.0 232.3,727.0C231.1,730.0 229.6,732.5 228.4,735.3C227.2,738.1 226.4,740.8 225.4,744.0C224.4,747.2 223.1,752.8 222.6,754.6L218.6,754L218.6,754.0C219.1,751.7 220.6,744.5 221.6,740.0C222.6,735.5 223.8,731.2 224.8,727.0C225.8,722.8 227.1,719.0 227.8,715.0C228.5,711.0 229.0,706.2 229.0,703.3C229.0,700.4 228.8,699.4 228.0,697.5C227.2,695.6 226.0,693.6 224.5,692.0C223.0,690.4 221.0,688.9 219.0,688.0C217.0,687.1 214.7,686.6 212.4,686.4C210.1,686.2 207.9,686.3 205.0,686.6C202.1,686.9 198.2,687.8 195.0,688.3C191.8,688.8 188.3,689.3 185.8,689.6C183.3,689.9 182.7,690.3 180.1,690.3C177.5,690.3 173.6,690.0 170.3,689.5C167.1,689.0 163.3,687.9 160.5,687.5C157.7,687.1 155.6,686.8 153.6,687.0C151.5,687.2 149.8,687.8 148.3,689.0C146.7,690.2 145.4,691.9 144.3,694.0C143.3,696.1 142.5,698.6 142.2,701.6C141.9,704.6 141.9,708.1 142.3,712.0C142.6,715.9 143.4,720.3 144.3,725.0C145.1,729.7 146.5,735.5 147.4,740.0C148.3,744.5 149.2,750.0 149.5,752.0Z" fill="url(#enam)" stroke="#b4b6b9" stroke-width="0.9" stroke-linejoin="round"/>
<path d="M149.5,752.0C149.2,750.0 148.3,744.5 147.4,740.0C146.5,735.5 145.1,729.7 144.3,725.0C143.4,720.3 142.6,715.9 142.3,712.0C141.9,708.1 141.9,704.6 142.2,701.6C142.5,698.6 143.3,696.1 144.3,694.0C145.4,691.9 146.7,690.2 148.3,689.0C149.8,687.8 151.5,687.2 153.6,687.0C155.6,686.8 157.7,687.1 160.5,687.5C163.3,687.9 167.1,689.0 170.3,689.5C173.6,690.0 177.5,690.3 180.1,690.3C182.7,690.3 183.3,689.9 185.8,689.6C188.3,689.3 191.8,688.8 195.0,688.3C198.2,687.8 202.1,686.9 205.0,686.6C207.9,686.3 210.1,686.2 212.4,686.4C214.7,686.6 217.0,687.1 219.0,688.0C221.0,688.9 223.0,690.4 224.5,692.0C226.0,693.6 227.2,695.6 228.0,697.5C228.8,699.4 229.0,700.4 229.0,703.3C229.0,706.2 228.5,711.0 227.8,715.0C227.1,719.0 225.8,722.8 224.8,727.0C223.8,731.2 222.6,735.5 221.6,740.0C220.6,744.5 219.1,751.7 218.6,754.0L219.6,754.2C219.3,755.2 218.4,757.7 217.9,760.5C217.4,763.3 216.8,767.6 216.3,771.0C215.8,774.4 215.4,777.7 214.9,781.0C214.4,784.3 214.0,787.6 213.5,791.0C213.0,794.4 212.5,798.0 211.8,801.5C211.1,805.0 210.3,808.6 209.5,812.0C208.7,815.4 207.8,819.6 206.7,822.0C205.6,824.4 204.0,825.4 202.7,826.6C201.4,827.8 199.9,829.2 198.7,829.4C197.5,829.6 196.4,828.9 195.5,827.7C194.6,826.5 193.7,824.1 193.3,822.0C192.9,819.9 192.9,817.5 193.0,815.0C193.1,812.5 193.5,809.9 193.8,806.7C194.1,803.5 194.7,799.4 194.9,796.0C195.1,792.6 195.1,789.4 194.9,786.2C194.7,783.0 194.1,779.8 193.5,777.0C192.9,774.2 192.2,771.6 191.3,769.7C190.4,767.8 189.1,766.4 188.0,765.4C186.9,764.4 185.7,763.7 184.6,763.6C183.5,763.5 182.4,764.0 181.5,764.7C180.6,765.4 179.8,766.3 179.0,767.7C178.2,769.1 177.4,770.8 177.0,773.0C176.6,775.2 176.5,778.0 176.4,781.0C176.3,784.0 176.2,787.6 176.5,791.0C176.8,794.4 177.4,798.3 177.9,801.5C178.4,804.7 179.0,806.9 179.4,810.0C179.8,813.1 180.3,817.0 180.3,820.0C180.3,823.0 179.9,825.9 179.4,828.0C178.9,830.1 178.1,831.4 177.2,832.4C176.3,833.4 175.2,834.4 174.0,834.3C172.8,834.2 171.4,833.4 170.0,832.0C168.6,830.6 166.8,828.3 165.3,826.0C163.9,823.7 162.4,820.7 161.3,818.0C160.2,815.3 159.7,813.8 158.7,810.0C157.7,806.2 156.2,800.0 155.2,795.0C154.1,790.0 153.3,785.0 152.4,780.0C151.5,775.0 150.7,769.6 149.9,765.0C149.1,760.4 148.1,754.4 147.7,752.3Z" fill="#fdc39a"/>
<path d="M149.5,752.0C149.2,750.0 148.3,744.5 147.4,740.0C146.5,735.5 145.1,729.7 144.3,725.0C143.4,720.3 142.6,715.9 142.3,712.0C141.9,708.1 141.9,704.6 142.2,701.6C142.5,698.6 143.3,696.1 144.3,694.0C145.4,691.9 146.7,690.2 148.3,689.0C149.8,687.8 151.5,687.2 153.6,687.0C155.6,686.8 157.7,687.1 160.5,687.5C163.3,687.9 167.1,689.0 170.3,689.5C173.6,690.0 177.5,690.3 180.1,690.3C182.7,690.3 183.3,689.9 185.8,689.6C188.3,689.3 191.8,688.8 195.0,688.3C198.2,687.8 202.1,686.9 205.0,686.6C207.9,686.3 210.1,686.2 212.4,686.4C214.7,686.6 217.0,687.1 219.0,688.0C221.0,688.9 223.0,690.4 224.5,692.0C226.0,693.6 227.2,695.6 228.0,697.5C228.8,699.4 229.0,700.4 229.0,703.3C229.0,706.2 228.5,711.0 227.8,715.0C227.1,719.0 225.8,722.8 224.8,727.0C223.8,731.2 222.6,735.5 221.6,740.0C220.6,744.5 219.1,751.7 218.6,754.0" fill="none" stroke="#b0b2b5" stroke-width="0.9"/>
<path d="M174.0,834.3C174.5,834.0 176.3,833.4 177.2,832.4C178.1,831.4 178.9,830.1 179.4,828.0C179.9,825.9 180.3,823.0 180.3,820.0C180.3,817.0 179.8,813.1 179.4,810.0C179.0,806.9 178.4,804.7 177.9,801.5C177.4,798.3 176.8,794.4 176.5,791.0C176.2,787.6 176.3,784.0 176.4,781.0C176.5,778.0 176.6,775.2 177.0,773.0C177.4,770.8 178.2,769.1 179.0,767.7C179.8,766.3 180.6,765.4 181.5,764.7C182.4,764.0 183.5,763.5 184.6,763.6C185.7,763.7 186.9,764.4 188.0,765.4C189.1,766.4 190.4,767.8 191.3,769.7C192.2,771.6 192.9,774.2 193.5,777.0C194.1,779.8 194.7,783.0 194.9,786.2C195.1,789.4 195.1,792.6 194.9,796.0C194.7,799.4 194.1,803.5 193.8,806.7C193.5,809.9 193.1,812.5 193.0,815.0C192.9,817.5 192.9,819.9 193.3,822.0C193.7,824.1 194.6,826.5 195.5,827.7C196.4,828.9 198.2,829.1 198.7,829.4L186,845Z" fill="#c5525f"/>
<path d="M147.7,752.3C148.1,754.4 149.1,760.4 149.9,765.0C150.7,769.6 151.5,775.0 152.4,780.0C153.3,785.0 154.1,790.0 155.2,795.0C156.2,800.0 157.7,806.2 158.7,810.0C159.7,813.8 160.2,815.3 161.3,818.0C162.4,820.7 163.9,823.7 165.3,826.0C166.8,828.3 168.6,830.6 170.0,832.0C171.4,833.4 172.8,834.2 174.0,834.3C175.2,834.4 176.3,833.4 177.2,832.4C178.1,831.4 178.9,830.1 179.4,828.0C179.9,825.9 180.3,823.0 180.3,820.0C180.3,817.0 179.8,813.1 179.4,810.0C179.0,806.9 178.4,804.7 177.9,801.5C177.4,798.3 176.8,794.4 176.5,791.0C176.2,787.6 176.3,784.0 176.4,781.0C176.5,778.0 176.6,775.2 177.0,773.0C177.4,770.8 178.2,769.1 179.0,767.7C179.8,766.3 180.6,765.4 181.5,764.7C182.4,764.0 183.5,763.5 184.6,763.6C185.7,763.7 186.9,764.4 188.0,765.4C189.1,766.4 190.4,767.8 191.3,769.7C192.2,771.6 192.9,774.2 193.5,777.0C194.1,779.8 194.7,783.0 194.9,786.2C195.1,789.4 195.1,792.6 194.9,796.0C194.7,799.4 194.1,803.5 193.8,806.7C193.5,809.9 193.1,812.5 193.0,815.0C192.9,817.5 192.9,819.9 193.3,822.0C193.7,824.1 194.6,826.5 195.5,827.7C196.4,828.9 197.5,829.6 198.7,829.4C199.9,829.2 201.4,827.8 202.7,826.6C204.0,825.4 205.6,824.4 206.7,822.0C207.8,819.6 208.7,815.4 209.5,812.0C210.3,808.6 211.1,805.0 211.8,801.5C212.5,798.0 213.0,794.4 213.5,791.0C214.0,787.6 214.4,784.3 214.9,781.0C215.4,777.7 215.8,774.4 216.3,771.0C216.8,767.6 217.4,763.3 217.9,760.5C218.4,757.7 219.3,755.2 219.6,754.2" fill="none" stroke="#9c9ea1" stroke-width="3.6" stroke-linejoin="round" stroke-linecap="butt"/>
<path d="M147.7,752.3C148.1,754.4 149.1,760.4 149.9,765.0C150.7,769.6 151.5,775.0 152.4,780.0C153.3,785.0 154.1,790.0 155.2,795.0C156.2,800.0 157.7,806.2 158.7,810.0C159.7,813.8 160.2,815.3 161.3,818.0C162.4,820.7 163.9,823.7 165.3,826.0C166.8,828.3 168.6,830.6 170.0,832.0C171.4,833.4 172.8,834.2 174.0,834.3C175.2,834.4 176.3,833.4 177.2,832.4C178.1,831.4 178.9,830.1 179.4,828.0C179.9,825.9 180.3,823.0 180.3,820.0C180.3,817.0 179.8,813.1 179.4,810.0C179.0,806.9 178.4,804.7 177.9,801.5C177.4,798.3 176.8,794.4 176.5,791.0C176.2,787.6 176.3,784.0 176.4,781.0C176.5,778.0 176.6,775.2 177.0,773.0C177.4,770.8 178.2,769.1 179.0,767.7C179.8,766.3 180.6,765.4 181.5,764.7C182.4,764.0 183.5,763.5 184.6,763.6C185.7,763.7 186.9,764.4 188.0,765.4C189.1,766.4 190.4,767.8 191.3,769.7C192.2,771.6 192.9,774.2 193.5,777.0C194.1,779.8 194.7,783.0 194.9,786.2C195.1,789.4 195.1,792.6 194.9,796.0C194.7,799.4 194.1,803.5 193.8,806.7C193.5,809.9 193.1,812.5 193.0,815.0C192.9,817.5 192.9,819.9 193.3,822.0C193.7,824.1 194.6,826.5 195.5,827.7C196.4,828.9 197.5,829.6 198.7,829.4C199.9,829.2 201.4,827.8 202.7,826.6C204.0,825.4 205.6,824.4 206.7,822.0C207.8,819.6 208.7,815.4 209.5,812.0C210.3,808.6 211.1,805.0 211.8,801.5C212.5,798.0 213.0,794.4 213.5,791.0C214.0,787.6 214.4,784.3 214.9,781.0C215.4,777.7 215.8,774.4 216.3,771.0C216.8,767.6 217.4,763.3 217.9,760.5C218.4,757.7 219.3,755.2 219.6,754.2" fill="none" stroke="#bcbec1" stroke-width="1.7" stroke-linejoin="round" stroke-linecap="butt"/>
<g fill="#7d6c66"><circle cx="156.2" cy="691.0" r="0.72"/><circle cx="149.6" cy="719.5" r="0.72"/><circle cx="160.3" cy="693.5" r="0.72"/><circle cx="146.5" cy="698.7" r="0.72"/><circle cx="146.4" cy="698.0" r="0.72"/><circle cx="154.7" cy="698.8" r="0.72"/><circle cx="159.0" cy="690.3" r="0.72"/><circle cx="147.5" cy="723.9" r="0.72"/><circle cx="158.9" cy="719.2" r="0.72"/><circle cx="161.6" cy="705.1" r="0.72"/><circle cx="159.3" cy="714.7" r="0.72"/><circle cx="149.7" cy="694.0" r="0.72"/><circle cx="156.2" cy="704.6" r="0.72"/><circle cx="149.4" cy="700.7" r="0.72"/><circle cx="157.7" cy="696.5" r="0.72"/><circle cx="161.8" cy="715.6" r="0.72"/><circle cx="157.0" cy="723.7" r="0.72"/><circle cx="149.7" cy="691.3" r="0.72"/><circle cx="150.3" cy="698.4" r="0.72"/><circle cx="160.0" cy="702.6" r="0.72"/><circle cx="150.2" cy="699.9" r="0.72"/><circle cx="150.2" cy="713.4" r="0.72"/><circle cx="152.4" cy="698.8" r="0.72"/><circle cx="147.8" cy="715.1" r="0.72"/><circle cx="152.8" cy="692.5" r="0.72"/><circle cx="161.9" cy="711.2" r="0.72"/><circle cx="219.9" cy="717.3" r="0.72"/><circle cx="213.6" cy="708.1" r="0.72"/><circle cx="223.3" cy="700.5" r="0.72"/><circle cx="207.9" cy="726.5" r="0.72"/><circle cx="210.6" cy="715.6" r="0.72"/><circle cx="207.4" cy="720.5" r="0.72"/><circle cx="211.1" cy="690.8" r="0.72"/><circle cx="205.3" cy="725.1" r="0.72"/><circle cx="210.9" cy="729.8" r="0.72"/><circle cx="208.9" cy="703.5" r="0.72"/><circle cx="217.9" cy="699.2" r="0.72"/><circle cx="222.9" cy="692.8" r="0.72"/><circle cx="224.6" cy="712.8" r="0.72"/><circle cx="206.1" cy="707.2" r="0.72"/><circle cx="214.3" cy="719.2" r="0.72"/><circle cx="225.7" cy="693.9" r="0.72"/><circle cx="208.2" cy="707.9" r="0.72"/><circle cx="210.1" cy="700.0" r="0.72"/><circle cx="205.1" cy="730.0" r="0.72"/><circle cx="222.7" cy="696.7" r="0.72"/><circle cx="221.2" cy="708.2" r="0.72"/><circle cx="216.9" cy="710.1" r="0.72"/><circle cx="208.1" cy="713.8" r="0.72"/><circle cx="209.2" cy="694.8" r="0.72"/><circle cx="209.4" cy="713.8" r="0.72"/><circle cx="213.2" cy="713.3" r="0.72"/></g>
<path d="M156.6,716.5C156.5,714.3 156.9,714.1 157.6,713.6C158.3,713.1 158.9,712.9 161.0,713.2C163.1,713.5 166.5,714.7 170.0,715.2C173.5,715.7 178.0,716.2 182.2,716.1C186.4,716.0 191.4,715.1 195.0,714.5C198.6,713.9 201.9,712.6 204.0,712.4C206.1,712.1 206.9,712.3 207.8,713.0C208.7,713.7 209.0,715.0 209.2,716.5C209.4,718.0 209.2,719.8 209.0,722.0C208.8,724.2 208.3,727.0 208.0,730.0C207.7,733.0 207.3,736.4 207.0,740.0C206.7,743.6 206.4,747.6 206.0,751.7C205.6,755.9 205.2,761.0 204.8,764.9C204.4,768.8 203.9,772.0 203.6,775.0C203.3,778.0 203.4,778.6 203.0,783.0C202.6,787.4 202.0,796.2 201.4,801.5C200.8,806.8 199.9,810.7 199.2,815.0C198.5,819.3 197.6,827.2 197.4,827.2C197.2,827.2 197.9,819.3 198.3,815.0C198.7,810.7 199.4,806.3 199.6,801.5C199.8,796.7 199.6,791.5 199.2,786.2C198.8,781.0 198.0,775.2 197.3,770.0C196.6,764.8 196.2,758.9 195.2,755.0C194.1,751.1 192.8,748.6 191.0,746.6C189.2,744.6 186.5,743.1 184.1,743.1C181.7,743.1 178.8,744.4 176.5,746.4C174.2,748.4 171.8,752.2 170.6,755.4C169.3,758.6 169.4,762.3 169.0,765.6C168.6,768.9 168.2,770.9 168.0,775.0C167.8,779.1 167.4,785.0 167.6,790.0C167.8,795.0 168.4,798.0 169.4,805.0C170.4,812.0 174.1,832.9 173.8,832.3C173.5,831.7 169.4,811.8 167.8,801.5C166.2,791.2 165.1,779.7 164.1,770.8C163.1,761.9 162.5,753.3 162.0,748.0C161.5,742.7 161.5,742.4 160.9,738.9C160.3,735.4 159.1,730.7 158.4,727.0C157.7,723.3 156.7,718.7 156.6,716.5Z" fill="url(#pulp2)" stroke="#e6705e" stroke-width="1.1" stroke-opacity="0.75"/>
<path d="M159.3,671.7L161.0,678.3L164.3,686.7L166.8,695.0L168.5,703.3L172.7,710.0L175.2,715.0L180.0,718.0L190.0,719.5L200.0,717.0L204.3,712.5L205.2,705.0L207.7,698.3L211.8,693.3L212.7,685.0L215.2,676.7L216.0,669.7L204.3,674.2L186.0,677.5L167.7,675.8Z" fill="#3b1f19" stroke="#3b1f19" stroke-width="0.8" stroke-linejoin="round"/>
<g fill="none" stroke="#14090a" stroke-width="1.05" stroke-linecap="round"><path d="M181.1,870.8 C178.5,858 176,845 174,833.8 C170.5,820 168,805 166.9,791.1 C165,777 163.6,765 163.6,750.1 C163.6,743 163.2,736 162.8,730.7 C162,726 160.6,721.5 159.3,717.4"/><path d="M188.8,870.8 C191.5,857 194,843 196.2,830.2 C198.5,820 200,810 200.7,800 C201.8,790 202.2,778 201.3,764.9 C200.6,760 200,756 199.8,751.7 C199.8,747.5 200.2,744 200.5,740 C201,736 201.5,732 201.3,728.3 C201,725.5 200.6,723 199.8,720.6 C199,718.6 198,717.4 196.7,716.7 C195.2,716 193.6,715.6 192,715.5"/><path d="M163.6,750.1 C166.5,746.5 169.8,743 173.3,740 C176,737.8 178.8,736 181.1,734.5 C182,733.8 182.8,733 183.4,732.2"/><path d="M164,743.9 C166.8,741.5 169.5,739 171.8,736.1 C173.6,733.6 174.8,731 175.7,728.3 C176.6,726 177.6,724 178.8,722.1 C180,720.2 181.3,718.6 182.7,717.4"/><path d="M162.8,730.7 C162.6,726 162.2,721.5 161.7,717"/><path d="M164,728.5 C164.8,725 165.3,721.6 165.6,718.2"/><path d="M165.2,736.5 C166.6,733 167.8,728.5 168.7,724 C169.2,722.4 169.9,721 170.6,719.8"/><path d="M171.8,736.1 C173.6,736.2 175.4,735.8 177,735 M169.6,738.6 C170.6,735.6 171,733 171,730.2 C171.2,728 171.8,726 172.8,724.4"/><path d="M175.7,728.3 C174.6,726.4 173.4,724.2 172.4,722.2 M175.2,730 C177,729 178.6,727.6 180,726 M177.6,724.2 C176.8,722.6 176.4,721 176.4,719.4"/><path d="M173.3,740 C174.6,741.2 176.2,741.8 178,741.8 M178.4,736 C180,734 181,732 181.6,729.8 M166.5,746.6 C168.4,746.8 170.2,746.4 172,745.6"/><path d="M178.8,722.1 C180.4,722.4 182,722 183.2,721 M168.7,724 C168,722.2 167.8,720.4 168,718.6"/><path d="M199.8,751.7 C198.4,749.8 196.8,748.2 195.1,747 C193.4,745.4 191.8,743.4 190.4,741.5 C189,740.2 187.4,739.2 185.8,738.4"/><path d="M200.5,740 C198.2,738.2 195.8,736.6 193.5,735.3 C191.8,734.2 190.2,732.8 188.9,731.4"/><path d="M201,728.3 C198.6,727.4 196,727 193.5,726.8 C191.2,726.6 188.8,726.8 186.5,727.2"/><path d="M199,720.6 C196.8,719.8 194.4,719.6 192,719.8 C190.2,719.8 188.2,720.2 186.5,720.6"/><path d="M200.5,741.5 C202.2,740 203.6,738.2 204.4,736.1 C205,734.8 205.2,733.5 205.2,732.2"/><path d="M202.9,726.8 C204.4,725 205.2,722.8 205.2,720.6 C205,718 203.2,715.6 200.5,714.3"/><path d="M195.1,747 C195.4,744.8 195,742.8 194,741 M193.5,735.3 C191.6,735.6 189.8,735.4 188,734.6 M196.4,737.4 C196,735 196.2,733 197,731"/><path d="M193.5,726.8 C192.4,725.4 191,724.4 189.4,723.8 M196,727 C195,729 193.4,730.4 191.4,731 M192,719.8 C191,718.4 189.6,717.6 188,717.4 M197,754.6 C198.4,756.6 199.4,758.8 200,761"/></g>
</g>
<path d="M50.2,591.4H850" stroke="#221e1f" stroke-width="5" stroke-dasharray="14.3 14.25" stroke-dashoffset="6.75" fill="none"/>
<rect x="283.6" y="123.2" width="222.6" height="149.6" rx="43" ry="43" fill="none" stroke="#3a3a3a" stroke-width="1.25"/>
<rect x="597.2" y="123.2" width="222.6" height="149.6" rx="43" ry="43" fill="none" stroke="#3a3a3a" stroke-width="1.25"/>
<rect x="283.6" y="325.7" width="222.6" height="149.6" rx="43" ry="43" fill="none" stroke="#3a3a3a" stroke-width="1.25"/>
<rect x="597.2" y="325.7" width="222.6" height="149.6" rx="43" ry="43" fill="none" stroke="#3a3a3a" stroke-width="1.25"/>
<rect x="145" y="181.3" width="31.7" height="18.4" rx="9.2" stroke="#3a3a3a" stroke-width="1.25" fill="none"/>
<path d="M166.7,181.5L300.1,132.4" stroke="#3a3a3a" stroke-width="1.25" fill="none"/>
<path d="M168.3,199.7L291.1,254.0" stroke="#3a3a3a" stroke-width="1.25" fill="none"/>
<rect x="145" y="383.9" width="31.7" height="18.4" rx="9.2" stroke="#3a3a3a" stroke-width="1.25" fill="none"/>
<path d="M166.7,384.1L299.8,335.1" stroke="#3a3a3a" stroke-width="1.25" fill="none"/>
<path d="M168.3,402.3L291.2,456.7" stroke="#3a3a3a" stroke-width="1.25" fill="none"/>
<rect x="399.7" y="178" width="31.2" height="18" rx="9" stroke="#3a3a3a" stroke-width="1.25" fill="none"/>
<rect x="399.7" y="376.7" width="31.2" height="18" rx="9" stroke="#3a3a3a" stroke-width="1.25" fill="none"/>
<path d="M424.0,178.3L615.9,130.8" stroke="#3a3a3a" stroke-width="1.25" fill="none"/>
<path d="M425.3,196.4L611.2,261.5" stroke="#3a3a3a" stroke-width="1.25" fill="none"/>
<path d="M422.7,376.9L613.6,334.9" stroke="#3a3a3a" stroke-width="1.25" fill="none"/>
<path d="M423.0,394.6L610.8,463.7" stroke="#3a3a3a" stroke-width="1.25" fill="none"/>
<line x1="246.7" y1="684.2" x2="236.4" y2="683.7" stroke="#151515" stroke-width="1.3"/><polygon points="228.7,683.3 239.9,679.2 236.4,683.7 239.5,688.5" fill="#151515"/>
<line x1="248.7" y1="726.7" x2="226.0" y2="717.4" stroke="#151515" stroke-width="1.3"/><polygon points="218.9,714.5 230.9,714.3 226.0,717.4 227.3,723.0" fill="#151515"/>
<line x1="117.2" y1="721.3" x2="158.5" y2="730.3" stroke="#151515" stroke-width="1.3"/><polygon points="166.0,731.9 154.3,734.2 158.5,730.3 156.2,725.0" fill="#151515"/>
<line x1="351.8" y1="671.6" x2="367.6" y2="685.8" stroke="#151515" stroke-width="1.3"/><polygon points="373.3,691.0 362.0,687.1 367.6,685.8 368.3,680.1" fill="#151515"/>
<line x1="497.6" y1="662.3" x2="456.2" y2="672.7" stroke="#151515" stroke-width="1.3"/><polygon points="448.7,674.6 458.2,667.4 456.2,672.7 460.5,676.5" fill="#151515"/>
<line x1="607.1" y1="662.3" x2="663.0" y2="684.0" stroke="#151515" stroke-width="1.3"/><polygon points="670.2,686.8 658.2,687.2 663.0,684.0 661.6,678.4" fill="#151515"/>
<line x1="617.3" y1="734.7" x2="667.7" y2="726.3" stroke="#151515" stroke-width="1.3"/><polygon points="675.3,725.0 665.2,731.5 667.7,726.3 663.7,722.2" fill="#151515"/>
<line x1="579.9" y1="811.5" x2="649.4" y2="828.3" stroke="#151515" stroke-width="1.3"/><polygon points="656.9,830.1 645.1,832.1 649.4,828.3 647.3,822.9" fill="#151515"/>
<line x1="756.5" y1="729.5" x2="741.4" y2="736.7" stroke="#151515" stroke-width="1.3"/><polygon points="734.5,740.0 742.4,731.0 741.4,736.7 746.5,739.5" fill="#151515"/>
<g font-family='"Liberation Sans", sans-serif' fill="#101010" stroke="#101010" stroke-width="0.22">
<text x="90.6" y="55.0" font-size="21.6" textLength="13.9" lengthAdjust="spacingAndGlyphs" fill="#101010" >A</text>
<text x="109.5" y="101.7" font-size="11.6" textLength="67.4" lengthAdjust="spacingAndGlyphs" fill="#101010" >Healthy lung</text>
<text x="325.8" y="92.0" font-size="11.6" textLength="137.6" lengthAdjust="spacingAndGlyphs" fill="#101010" >Normal airway with a thin</text>
<text x="356.0" y="107.3" font-size="11.6" textLength="77.5" lengthAdjust="spacingAndGlyphs" fill="#101010" >layer of mucus</text>
<text x="629.3" y="95.6" font-size="11.6" textLength="157.6" lengthAdjust="spacingAndGlyphs" fill="#101010" >Lung epithelial layer with thin</text>
<text x="690.9" y="111.1" font-size="11.6" textLength="35.3" lengthAdjust="spacingAndGlyphs" fill="#101010" >mucus</text>
<text x="81.1" y="531.1" font-size="11.6" textLength="98.0" lengthAdjust="spacingAndGlyphs" fill="#101010" >Cystic fibrosis lung</text>
<text x="321.7" y="496.9" font-size="11.6" textLength="145.1" lengthAdjust="spacingAndGlyphs" fill="#101010" >Cystic fibrosis airway with a</text>
<text x="312.1" y="512.2" font-size="11.6" textLength="165.3" lengthAdjust="spacingAndGlyphs" fill="#101010" >thick, sticky layer of mucus and</text>
<text x="347.0" y="527.8" font-size="11.6" textLength="95.4" lengthAdjust="spacingAndGlyphs" fill="#101010" >bacterial infection</text>
<text x="630.7" y="497.1" font-size="11.6" textLength="154.6" lengthAdjust="spacingAndGlyphs" fill="#101010" >Establishment of a biofilm on</text>
<text x="636.6" y="512.7" font-size="11.6" textLength="142.9" lengthAdjust="spacingAndGlyphs" fill="#101010" >lung epithelial cells, mucus</text>
<text x="624.9" y="528.4" font-size="11.6" textLength="166.3" lengthAdjust="spacingAndGlyphs" fill="#101010" >adherent to surface, damage of</text>
<text x="696.7" y="543.6" font-size="11.6" textLength="23.2" lengthAdjust="spacingAndGlyphs" fill="#101010" >cells</text>
<text x="91.5" y="628.9" font-size="21.6" textLength="13.0" lengthAdjust="spacingAndGlyphs" fill="#101010" >B</text>
<text x="143.5" y="653.1" font-size="11.6" textLength="73.5" lengthAdjust="spacingAndGlyphs" fill="#101010" >Healthy tooth</text>
<text x="250.8" y="686.7" font-size="11.6" textLength="39.6" lengthAdjust="spacingAndGlyphs" fill="#101010" >Enamel</text>
<text x="251.6" y="732.3" font-size="11.6" textLength="35.8" lengthAdjust="spacingAndGlyphs" fill="#101010" >Dentin</text>
<text x="85.7" y="723.3" font-size="11.6" textLength="24.2" lengthAdjust="spacingAndGlyphs" fill="#101010" >Pulp</text>
<text x="315.7" y="644.5" font-size="11.6" textLength="75.2" lengthAdjust="spacingAndGlyphs" fill="#101010" >Dental plaque</text>
<text x="316.0" y="660.1" font-size="11.6" textLength="45.6" lengthAdjust="spacingAndGlyphs" fill="#101010" >(biofilm)</text>
<text x="495.6" y="625.9" font-size="11.6" textLength="93.1" lengthAdjust="spacingAndGlyphs" fill="#101010" >Bacterial biofilms</text>
<text x="496.0" y="641.6" font-size="11.6" textLength="106.9" lengthAdjust="spacingAndGlyphs" fill="#101010" >produce acid, which</text>
<text x="496.0" y="657.0" font-size="11.6" textLength="123.0" lengthAdjust="spacingAndGlyphs" fill="#101010" >dissolves tooth enamel</text>
<text x="557.7" y="735.2" font-size="11.6" textLength="43.3" lengthAdjust="spacingAndGlyphs" fill="#101010" >Infected</text>
<text x="558.0" y="750.4" font-size="11.6" textLength="23.8" lengthAdjust="spacingAndGlyphs" fill="#101010" >pulp</text>
<text x="537.0" y="801.5" font-size="11.6" textLength="42.5" lengthAdjust="spacingAndGlyphs" fill="#101010" >Abscess</text>
<text x="757.3" y="726.3" font-size="11.6" textLength="47.8" lengthAdjust="spacingAndGlyphs" fill="#101010" >Inflamed</text>
<text x="757.9" y="741.0" font-size="11.6" textLength="29.2" lengthAdjust="spacingAndGlyphs" fill="#101010" >gums</text>
</g>
</svg>
</body>
</html>
